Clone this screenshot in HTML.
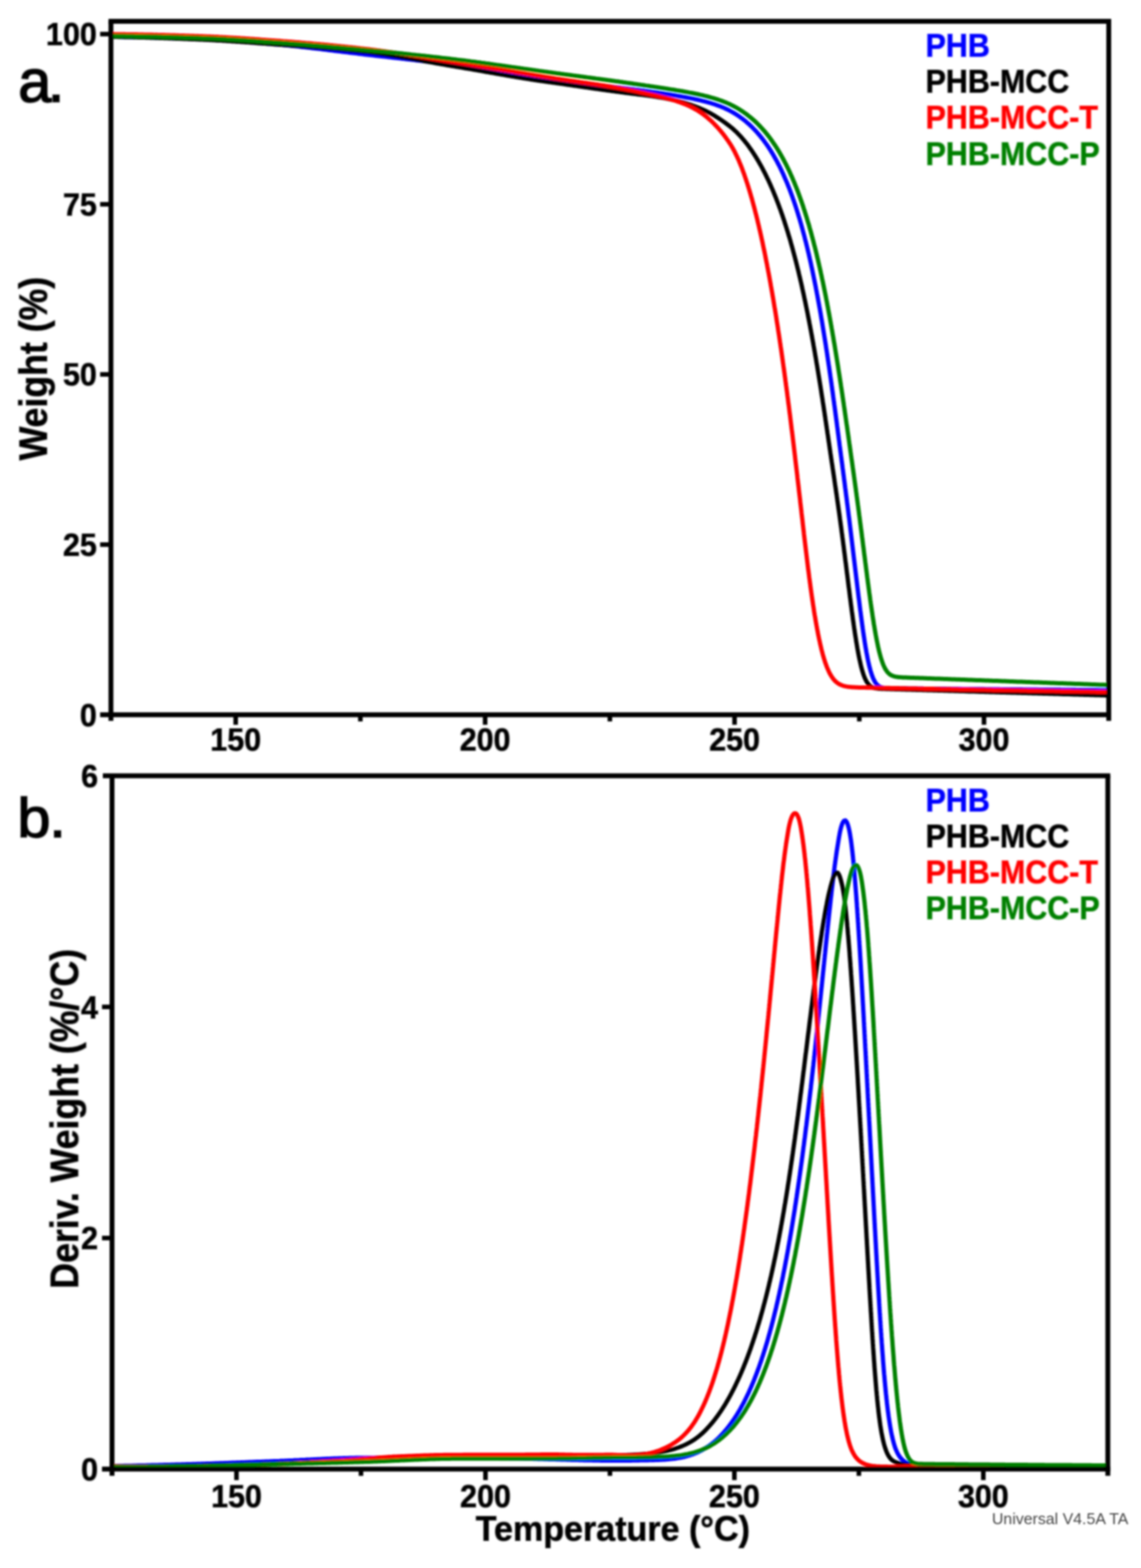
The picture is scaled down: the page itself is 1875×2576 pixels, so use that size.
<!DOCTYPE html>
<html lang="en">
<head>
<meta charset="utf-8">
<title>TGA and DTG curves of PHB composites</title>
<style>
html,body{margin:0;padding:0;background:#fff;}
body{width:1875px;height:2576px;overflow:hidden;}
svg{display:block;}
text{font-family:"Liberation Sans",sans-serif;}
.ax{stroke:#000;fill:none;stroke-linecap:butt;}
.cv{fill:none;stroke-linejoin:round;stroke-linecap:butt;}
</style>
</head>
<body>
<svg width="1875" height="2576" viewBox="0 0 1875 2576">
<defs>
<filter id="bl" x="0" y="0" width="1875" height="2576" filterUnits="userSpaceOnUse"><feGaussianBlur stdDeviation="1.50"/></filter>
<filter id="tf" x="0" y="0" width="1875" height="2576" filterUnits="userSpaceOnUse"><feMorphology operator="dilate" radius="1" result="e"/><feComposite in="SourceGraphic" in2="e" operator="arithmetic" k1="0" k2="0.65" k3="0.35" k4="0"/><feGaussianBlur stdDeviation="1.60"/></filter>
<filter id="sf" x="0" y="0" width="1875" height="2576" filterUnits="userSpaceOnUse"><feGaussianBlur stdDeviation="1.6"/></filter>
</defs>
<rect x="0" y="0" width="1875" height="2576" fill="#ffffff"/>
<g filter="url(#bl)">
<g id="plot-a">
<path class="cv" stroke="#0000ff" stroke-width="7.0" d="M182.3 60.5L184.8 60.5L187.3 60.5L189.8 60.6L192.3 60.6L194.8 60.6L197.3 60.6L199.8 60.7L202.3 60.7L204.8 60.7L207.3 60.8L209.8 60.8L212.3 60.8L214.8 60.9L217.3 60.9L219.8 61.0L222.4 61.0L224.9 61.1L227.4 61.1L229.9 61.2L232.4 61.2L234.9 61.3L237.4 61.4L239.9 61.4L242.4 61.5L244.9 61.6L247.4 61.6L249.9 61.7L252.4 61.8L254.9 61.8L257.4 61.9L259.9 62.0L262.4 62.1L264.9 62.1L267.4 62.2L269.9 62.3L272.4 62.4L274.9 62.5L277.4 62.6L279.9 62.6L282.4 62.7L284.9 62.8L287.4 62.9L289.9 63.0L292.4 63.1L294.9 63.2L297.4 63.3L299.9 63.3L302.4 63.4L304.9 63.5L307.4 63.6L309.9 63.7L312.4 63.8L314.9 63.9L317.4 64.0L319.9 64.1L322.4 64.2L324.9 64.3L327.4 64.4L329.9 64.5L332.4 64.6L334.9 64.7L337.4 64.8L339.9 64.9L342.4 65.0L345.0 65.2L347.5 65.3L350.0 65.4L352.5 65.5L355.0 65.7L357.5 65.8L360.0 65.9L362.4 66.1L364.9 66.2L367.4 66.4L369.9 66.5L372.4 66.7L374.9 66.8L377.4 67.0L379.9 67.2L382.4 67.3L384.9 67.5L387.4 67.7L389.9 67.8L392.4 68.0L394.9 68.2L397.4 68.4L399.9 68.5L402.4 68.7L404.9 68.9L407.4 69.1L409.9 69.3L412.4 69.5L414.9 69.7L417.4 69.9L419.9 70.1L422.4 70.3L424.9 70.5L427.4 70.7L429.9 70.9L432.4 71.1L434.9 71.3L437.4 71.5L439.9 71.7L442.3 71.9L444.8 72.1L447.3 72.3L449.8 72.5L452.3 72.7L454.8 72.9L457.3 73.1L459.8 73.4L462.3 73.6L464.8 73.8L467.3 74.0L469.8 74.3L472.3 74.5L474.8 74.8L477.3 75.0L479.7 75.3L482.2 75.5L484.7 75.8L487.2 76.1L489.7 76.3L492.2 76.6L494.7 76.9L497.2 77.2L499.7 77.4L502.1 77.7L504.6 78.0L507.1 78.3L509.6 78.6L512.1 78.9L514.6 79.2L517.1 79.5L519.6 79.8L522.0 80.0L524.5 80.3L527.0 80.6L529.5 80.9L532.0 81.2L534.5 81.6L536.9 81.9L539.4 82.2L541.9 82.5L544.4 82.8L546.9 83.1L549.4 83.4L551.9 83.7L554.3 84.0L556.8 84.3L559.3 84.6L561.8 84.9L564.3 85.2L566.8 85.5L569.2 85.8L571.7 86.1L574.2 86.4L576.7 86.7L579.2 87.0L581.7 87.3L584.2 87.6L586.6 87.9L589.1 88.2L591.6 88.5L594.1 88.8L596.6 89.1L599.1 89.4L601.6 89.7L604.1 90.0L606.5 90.2L609.0 90.5L611.5 90.8L614.0 91.1L616.5 91.4L619.0 91.7L621.5 91.9L624.0 92.2L626.4 92.5L628.9 92.8L631.4 93.0L633.9 93.3L636.4 93.6L638.9 93.9L641.4 94.1L643.9 94.4L646.3 94.7L648.8 95.0L651.3 95.3L653.8 95.5L656.3 95.8L658.8 96.1L661.3 96.4L663.8 96.6L666.3 96.9L668.7 97.2L671.2 97.5L673.7 97.8L676.2 98.0L678.7 98.3L681.2 98.6L683.7 98.9L686.2 99.2L688.6 99.5L691.1 99.7L693.6 100.0L696.1 100.3L698.6 100.6L701.1 100.9L703.6 101.2L706.0 101.5L708.5 101.8L711.0 102.1L713.5 102.4L716.0 102.7L718.5 103.0L721.0 103.3L723.4 103.6L725.9 103.9L728.4 104.2L730.9 104.5L733.4 104.8L735.9 105.2L738.3 105.5L740.8 105.8L743.3 106.1L745.8 106.4L748.3 106.8L750.8 107.1L753.2 107.4L755.7 107.8L758.2 108.1L760.7 108.5L763.2 108.8L765.6 109.2L768.1 109.6L770.6 109.9L773.1 110.3L775.5 110.7L778.0 111.1L780.5 111.4L783.0 111.8L785.4 112.2L787.9 112.6L790.4 113.0L792.8 113.4L795.3 113.8L797.8 114.2L800.3 114.6L802.7 115.0L805.2 115.4L807.7 115.9L810.1 116.3L812.6 116.7L815.1 117.1L817.5 117.5L820.0 117.9L822.5 118.3L825.0 118.7L827.4 119.2L829.9 119.6L832.4 120.0L834.8 120.4L837.3 120.8L839.8 121.2L842.2 121.6L844.7 122.1L847.2 122.5L849.6 122.9L852.1 123.3L854.6 123.7L857.1 124.1L859.5 124.5L862.0 124.9L864.5 125.3L866.9 125.7L869.4 126.0L871.9 126.4L874.4 126.8L876.8 127.2L879.3 127.6L881.8 127.9L884.3 128.3L886.7 128.7L889.2 129.0L891.7 129.4L894.2 129.7L896.7 130.1L899.1 130.4L901.6 130.7L904.1 131.0L906.6 131.4L909.1 131.7L911.6 132.0L914.0 132.3L916.5 132.6L919.0 132.9L921.5 133.2L924.0 133.5L926.5 133.8L929.0 134.1L931.4 134.4L933.9 134.7L936.4 135.0L938.9 135.3L941.4 135.6L943.9 135.8L946.4 136.1L948.8 136.4L951.3 136.7L953.8 137.0L956.3 137.2L958.8 137.5L961.3 137.8L963.8 138.1L966.3 138.3L968.8 138.6L971.2 138.9L973.7 139.1L976.2 139.4L978.7 139.7L981.2 140.0L983.7 140.2L986.2 140.5L988.7 140.8L991.2 141.0L993.6 141.3L996.1 141.6L998.6 141.9L1001.1 142.1L1003.6 142.4L1006.1 142.7L1008.6 143.0L1011.1 143.3L1013.5 143.5L1016.0 143.8L1018.5 144.1L1021.0 144.4L1023.5 144.7L1026.0 145.0L1028.5 145.3L1031.0 145.6L1033.4 145.9L1035.9 146.2L1038.4 146.5L1040.9 146.8L1043.4 147.2L1045.9 147.5L1048.3 147.8L1050.8 148.1L1053.3 148.5L1055.8 148.8L1058.3 149.1L1060.7 149.5L1063.2 149.8L1065.7 150.2L1068.2 150.5L1070.7 150.9L1073.1 151.2L1075.6 151.6L1078.1 151.9L1080.6 152.3L1083.0 152.7L1085.5 153.0L1088.0 153.4L1090.5 153.8L1092.9 154.2L1095.4 154.5L1097.9 154.9L1100.4 155.3L1102.8 155.7L1105.3 156.1L1107.8 156.5L1110.2 156.9L1112.7 157.4L1115.2 157.8L1117.7 158.2L1120.1 158.6L1122.6 159.1L1125.0 159.5L1127.5 160.0L1130.0 160.5L1132.4 160.9L1134.9 161.4L1137.3 161.9L1139.8 162.4L1142.2 163.0L1144.7 163.5L1147.1 164.0L1149.6 164.6L1152.0 165.2L1154.4 165.8L1156.9 166.4L1159.3 167.0L1161.7 167.7L1164.1 168.3L1166.5 169.0L1168.9 169.7L1171.3 170.5L1173.7 171.2L1176.1 172.0L1178.4 172.9L1180.8 173.7L1183.1 174.6L1185.5 175.5L1187.8 176.4L1190.1 177.4L1192.4 178.5L1194.6 179.5L1196.9 180.6L1199.1 181.8L1201.3 183.0L1203.5 184.2L1205.6 185.4L1207.8 186.7L1209.9 188.1L1212.0 189.4L1214.1 190.8L1216.1 192.3L1218.2 193.8L1220.2 195.3L1222.1 196.8L1224.1 198.3L1226.0 199.9L1227.9 201.6L1229.8 203.2L1231.7 204.9L1233.5 206.6L1235.3 208.3L1237.1 210.1L1238.8 211.9L1240.6 213.7L1242.3 215.5L1244.0 217.4L1245.6 219.3L1247.2 221.2L1248.9 223.1L1250.4 225.0L1252.0 227.0L1253.5 228.9L1255.1 230.9L1256.5 232.9L1258.0 235.0L1259.5 237.0L1260.9 239.1L1262.3 241.1L1263.7 243.2L1265.0 245.3L1266.4 247.4L1267.7 249.6L1269.0 251.7L1270.3 253.8L1271.6 256.0L1272.8 258.2L1274.0 260.4L1275.3 262.6L1276.5 264.8L1277.6 267.0L1278.8 269.2L1279.9 271.4L1281.1 273.6L1282.2 275.9L1283.3 278.1L1284.4 280.4L1285.4 282.7L1286.5 284.9L1287.5 287.2L1288.5 289.5L1289.5 291.8L1290.5 294.1L1291.5 296.4L1292.5 298.7L1293.5 301.0L1294.4 303.3L1295.3 305.6L1296.3 308.0L1297.2 310.3L1298.1 312.6L1299.0 315.0L1299.8 317.3L1300.7 319.7L1301.6 322.0L1302.4 324.4L1303.2 326.7L1304.1 329.1L1304.9 331.5L1305.7 333.8L1306.5 336.2L1307.3 338.6L1308.1 341.0L1308.8 343.3L1309.6 345.7L1310.3 348.1L1311.1 350.5L1311.8 352.9L1312.5 355.3L1313.3 357.7L1314.0 360.1L1314.7 362.5L1315.4 364.9L1316.1 367.3L1316.8 369.7L1317.4 372.1L1318.1 374.5L1318.8 377.0L1319.4 379.4L1320.1 381.8L1320.7 384.2L1321.4 386.6L1322.0 389.0L1322.6 391.5L1323.2 393.9L1323.9 396.3L1324.5 398.7L1325.1 401.2L1325.7 403.6L1326.3 406.0L1326.9 408.5L1327.4 410.9L1328.0 413.3L1328.6 415.8L1329.2 418.2L1329.7 420.7L1330.3 423.1L1330.8 425.5L1331.4 428.0L1331.9 430.4L1332.5 432.9L1333.0 435.3L1333.5 437.8L1334.1 440.2L1334.6 442.7L1335.1 445.1L1335.6 447.6L1336.1 450.0L1336.6 452.5L1337.1 454.9L1337.6 457.4L1338.1 459.8L1338.6 462.3L1339.1 464.7L1339.6 467.2L1340.1 469.6L1340.6 472.1L1341.0 474.6L1341.5 477.0L1342.0 479.5L1342.4 481.9L1342.9 484.4L1343.4 486.9L1343.8 489.3L1344.3 491.8L1344.7 494.2L1345.2 496.7L1345.6 499.2L1346.1 501.6L1346.5 504.1L1347.0 506.6L1347.4 509.0L1347.8 511.5L1348.3 514.0L1348.7 516.4L1349.1 518.9L1349.5 521.4L1349.9 523.8L1350.4 526.3L1350.8 528.8L1351.2 531.2L1351.6 533.7L1352.0 536.2L1352.4 538.6L1352.8 541.1L1353.2 543.6L1353.6 546.1L1354.0 548.5L1354.4 551.0L1354.8 553.5L1355.2 555.9L1355.6 558.4L1356.0 560.9L1356.4 563.4L1356.8 565.8L1357.2 568.3L1357.5 570.8L1357.9 573.3L1358.3 575.7L1358.7 578.2L1359.1 580.7L1359.4 583.2L1359.8 585.6L1360.2 588.1L1360.5 590.6L1360.9 593.1L1361.3 595.5L1361.6 598.0L1362.0 600.5L1362.4 603.0L1362.7 605.4L1363.1 607.9L1363.4 610.4L1363.8 612.9L1364.2 615.4L1364.5 617.8L1364.9 620.3L1365.2 622.8L1365.6 625.3L1365.9 627.8L1366.3 630.2L1366.6 632.7L1367.0 635.2L1367.3 637.7L1367.6 640.1L1368.0 642.6L1368.3 645.1L1368.7 647.6L1369.0 650.1L1369.3 652.5L1369.7 655.0L1370.0 657.5L1370.4 660.0L1370.7 662.5L1371.0 665.0L1371.4 667.4L1371.7 669.9L1372.0 672.4L1372.4 674.9L1372.7 677.4L1373.0 679.8L1373.3 682.3L1373.7 684.8L1374.0 687.3L1374.3 689.8L1374.7 692.3L1375.0 694.7L1375.3 697.2L1375.6 699.7L1376.0 702.2L1376.3 704.7L1376.6 707.1L1376.9 709.6L1377.2 712.1L1377.6 714.6L1377.9 717.1L1378.2 719.6L1378.5 722.0L1378.9 724.5L1379.2 727.0L1379.5 729.5L1379.8 732.0L1380.2 734.5L1380.5 736.9L1380.8 739.4L1381.1 741.9L1381.5 744.4L1381.8 746.9L1382.1 749.3L1382.5 751.8L1382.8 754.3L1383.1 756.8L1383.4 759.3L1383.8 761.8L1384.1 764.2L1384.4 766.7L1384.7 769.2L1385.1 771.7L1385.4 774.2L1385.7 776.6L1386.0 779.1L1386.4 781.6L1386.7 784.1L1387.0 786.6L1387.3 789.1L1387.7 791.5L1388.0 794.0L1388.3 796.5L1388.6 799.0L1388.9 801.5L1389.3 804.0L1389.6 806.4L1389.9 808.9L1390.2 811.4L1390.5 813.9L1390.9 816.4L1391.2 818.9L1391.5 821.3L1391.8 823.8L1392.1 826.3L1392.4 828.8L1392.8 831.3L1393.1 833.8L1393.4 836.2L1393.7 838.7L1394.0 841.2L1394.3 843.7L1394.6 846.2L1394.9 848.7L1395.3 851.1L1395.6 853.6L1395.9 856.1L1396.2 858.6L1396.5 861.1L1396.8 863.6L1397.1 866.1L1397.4 868.5L1397.7 871.0L1398.0 873.5L1398.3 876.0L1398.6 878.5L1398.9 881.0L1399.2 883.4L1399.5 885.9L1399.8 888.4L1400.1 890.9L1400.4 893.4L1400.7 895.9L1401.0 898.4L1401.3 900.8L1401.6 903.3L1401.9 905.8L1402.2 908.3L1402.5 910.8L1402.8 913.3L1403.1 915.8L1403.4 918.2L1403.7 920.7L1404.0 923.2L1404.3 925.7L1404.6 928.2L1404.9 930.7L1405.2 933.2L1405.5 935.6L1405.8 938.1L1406.1 940.6L1406.4 943.1L1406.7 945.6L1407.0 948.1L1407.3 950.6L1407.6 953.0L1407.9 955.5L1408.2 958.0L1408.5 960.5L1408.8 963.0L1409.1 965.5L1409.4 968.0L1409.7 970.4L1410.0 972.9L1410.3 975.4L1410.6 977.9L1410.9 980.4L1411.2 982.9L1411.6 985.3L1411.9 987.8L1412.2 990.3L1412.5 992.8L1412.8 995.3L1413.1 997.8L1413.4 1000.2L1413.7 1002.7L1414.1 1005.2L1414.4 1007.7L1414.7 1010.2L1415.0 1012.7L1415.4 1015.1L1415.7 1017.6L1416.0 1020.1L1416.4 1022.6L1416.7 1025.1L1417.0 1027.6L1417.4 1030.0L1417.7 1032.5L1418.1 1035.0L1418.4 1037.5L1418.8 1039.9L1419.1 1042.4L1419.5 1044.9L1419.9 1047.4L1420.3 1049.8L1420.6 1052.3L1421.0 1054.8L1421.4 1057.3L1421.8 1059.7L1422.2 1062.2L1422.6 1064.7L1423.1 1067.1L1423.5 1069.6L1423.9 1072.1L1424.4 1074.5L1424.9 1077.0L1425.3 1079.5L1425.8 1081.9L1426.3 1084.4L1426.8 1086.8L1427.4 1089.3L1427.9 1091.7L1428.5 1094.1L1429.1 1096.6L1429.8 1099.0L1430.4 1101.4L1431.1 1103.8L1431.9 1106.2L1432.6 1108.6L1433.5 1110.9L1434.4 1113.3L1435.4 1115.6L1436.5 1117.8L1437.7 1120.0L1439.1 1122.1L1440.6 1124.1L1442.4 1125.8L1444.4 1127.4L1446.6 1128.6L1448.9 1129.4L1451.3 1130.0L1453.8 1130.4L1456.3 1130.6L1458.8 1130.7L1461.3 1130.8L1463.8 1130.9L1466.3 1130.9L1468.8 1130.9L1471.3 1131.0L1473.8 1131.0L1476.3 1131.0L1478.8 1131.0L1481.3 1131.1L1483.8 1131.1L1486.3 1131.1L1488.8 1131.1L1491.4 1131.1L1493.9 1131.2L1496.4 1131.2L1498.9 1131.2L1501.4 1131.2L1503.9 1131.2L1506.4 1131.3L1508.9 1131.3L1511.4 1131.3L1513.9 1131.3L1516.4 1131.3L1518.9 1131.4L1521.4 1131.4L1523.9 1131.4L1526.4 1131.4L1528.9 1131.4L1531.4 1131.5L1533.9 1131.5L1536.4 1131.5L1538.9 1131.5L1541.4 1131.5L1543.9 1131.6L1546.4 1131.6L1548.9 1131.6L1551.4 1131.6L1553.9 1131.6L1556.4 1131.7L1558.9 1131.7L1561.4 1131.7L1564.0 1131.7L1566.5 1131.7L1569.0 1131.8L1571.5 1131.8L1574.0 1131.8L1576.5 1131.8L1579.0 1131.8L1581.5 1131.9L1584.0 1131.9L1586.5 1131.9L1589.0 1131.9L1591.5 1131.9L1594.0 1132.0L1596.5 1132.0L1599.0 1132.0L1601.5 1132.0L1604.0 1132.0L1606.5 1132.1L1609.0 1132.1L1611.5 1132.1L1614.0 1132.1L1616.5 1132.1L1619.0 1132.2L1621.5 1132.2L1624.0 1132.2L1626.5 1132.2L1629.0 1132.2L1631.5 1132.3L1634.0 1132.3L1636.5 1132.3L1639.1 1132.3L1641.6 1132.3L1644.1 1132.4L1646.6 1132.4L1649.1 1132.4L1651.6 1132.4L1654.1 1132.4L1656.6 1132.5L1659.1 1132.5L1661.6 1132.5L1664.1 1132.5L1666.6 1132.5L1669.1 1132.6L1671.6 1132.6L1674.1 1132.6L1676.6 1132.6L1679.1 1132.6L1681.6 1132.7L1684.1 1132.7L1686.6 1132.7L1689.1 1132.7L1691.6 1132.7L1694.1 1132.8L1696.6 1132.8L1699.1 1132.8L1701.6 1132.8L1704.1 1132.8L1706.6 1132.9L1709.1 1132.9L1711.7 1132.9L1714.2 1132.9L1716.7 1132.9L1719.2 1133.0L1721.7 1133.0L1724.2 1133.0L1726.7 1133.0L1729.2 1133.0L1731.7 1133.1L1734.2 1133.1L1736.7 1133.1L1739.2 1133.1L1741.7 1133.1L1744.2 1133.2L1746.7 1133.2L1749.2 1133.2L1751.7 1133.2L1754.2 1133.2L1756.7 1133.3L1759.2 1133.3L1761.7 1133.3L1764.2 1133.3L1766.7 1133.3L1769.2 1133.4L1771.7 1133.4L1774.2 1133.4L1776.7 1133.4L1779.2 1133.4L1781.7 1133.5L1784.2 1133.5L1786.8 1133.5L1789.3 1133.5L1791.8 1133.5L1794.3 1133.6L1796.8 1133.6L1799.3 1133.6L1801.8 1133.6L1804.3 1133.6L1806.8 1133.7L1809.3 1133.7L1811.8 1133.7L1814.3 1133.7L1816.8 1133.7L1819.3 1133.8L1821.8 1133.8"/>
<path class="cv" stroke="#000000" stroke-width="7.0" d="M182.3 60.5L184.8 60.5L187.3 60.6L189.8 60.6L192.3 60.6L194.8 60.7L197.3 60.7L199.8 60.8L202.3 60.8L204.8 60.9L207.3 60.9L209.8 61.0L212.3 61.0L214.8 61.1L217.3 61.1L219.9 61.2L222.4 61.2L224.9 61.3L227.4 61.4L229.9 61.4L232.4 61.5L234.9 61.6L237.4 61.6L239.9 61.7L242.4 61.8L244.9 61.8L247.4 61.9L249.9 62.0L252.4 62.1L254.9 62.2L257.4 62.2L259.9 62.3L262.4 62.4L264.9 62.5L267.4 62.6L269.9 62.7L272.4 62.7L274.9 62.8L277.4 62.9L279.9 63.0L282.4 63.1L284.9 63.2L287.4 63.3L289.9 63.4L292.4 63.5L294.9 63.6L297.4 63.7L299.9 63.8L302.4 63.9L304.9 64.0L307.4 64.1L309.9 64.2L312.4 64.3L314.9 64.4L317.4 64.5L319.9 64.6L322.4 64.7L324.9 64.8L327.4 64.9L329.9 65.0L332.5 65.1L335.0 65.2L337.5 65.3L340.0 65.4L342.5 65.6L345.0 65.7L347.5 65.8L350.0 65.9L352.5 66.1L355.0 66.2L357.5 66.4L360.0 66.5L362.5 66.6L365.0 66.8L367.5 66.9L370.0 67.1L372.5 67.2L375.0 67.4L377.5 67.6L379.9 67.7L382.4 67.9L384.9 68.1L387.4 68.2L389.9 68.4L392.4 68.6L394.9 68.7L397.4 68.9L399.9 69.1L402.4 69.3L404.9 69.4L407.4 69.6L409.9 69.8L412.4 70.0L414.9 70.1L417.4 70.3L419.9 70.5L422.4 70.7L424.9 70.9L427.4 71.1L429.9 71.2L432.4 71.4L434.9 71.6L437.4 71.8L439.9 72.0L442.4 72.1L444.9 72.3L447.4 72.5L449.9 72.7L452.4 72.9L454.9 73.1L457.4 73.2L459.9 73.4L462.4 73.6L464.9 73.8L467.4 74.0L469.9 74.1L472.4 74.3L474.9 74.5L477.3 74.7L479.8 74.9L482.3 75.0L484.8 75.2L487.3 75.4L489.8 75.6L492.3 75.8L494.8 76.0L497.3 76.1L499.8 76.3L502.3 76.5L504.8 76.7L507.3 76.9L509.8 77.1L512.3 77.3L514.8 77.5L517.3 77.7L519.8 77.9L522.3 78.1L524.8 78.3L527.3 78.5L529.8 78.7L532.3 78.9L534.8 79.1L537.3 79.3L539.8 79.5L542.3 79.7L544.7 79.9L547.2 80.1L549.7 80.4L552.2 80.6L554.7 80.8L557.2 81.0L559.7 81.3L562.2 81.5L564.7 81.7L567.2 81.9L569.7 82.2L572.2 82.4L574.7 82.7L577.2 82.9L579.7 83.2L582.1 83.4L584.6 83.7L587.1 83.9L589.6 84.2L592.1 84.4L594.6 84.7L597.1 85.0L599.6 85.3L602.1 85.5L604.5 85.8L607.0 86.1L609.5 86.4L612.0 86.7L614.5 87.0L617.0 87.4L619.5 87.7L621.9 88.0L624.4 88.4L626.9 88.7L629.4 89.1L631.8 89.5L634.3 89.8L636.8 90.2L639.3 90.6L641.7 91.0L644.2 91.3L646.7 91.7L649.2 92.1L651.6 92.5L654.1 92.9L656.6 93.3L659.0 93.8L661.5 94.2L664.0 94.6L666.5 95.0L668.9 95.4L671.4 95.9L673.9 96.3L676.3 96.7L678.8 97.2L681.3 97.6L683.7 98.0L686.2 98.5L688.6 98.9L691.1 99.4L693.6 99.8L696.0 100.2L698.5 100.7L701.0 101.1L703.4 101.6L705.9 102.0L708.4 102.4L710.8 102.9L713.3 103.3L715.8 103.8L718.2 104.2L720.7 104.6L723.2 105.1L725.6 105.5L728.1 105.9L730.6 106.4L733.0 106.8L735.5 107.2L738.0 107.6L740.4 108.1L742.9 108.5L745.4 108.9L747.8 109.3L750.3 109.7L752.8 110.1L755.2 110.5L757.7 110.9L760.2 111.3L762.7 111.8L765.1 112.2L767.6 112.6L770.1 113.0L772.5 113.4L775.0 113.9L777.5 114.3L779.9 114.7L782.4 115.1L784.9 115.6L787.3 116.0L789.8 116.4L792.3 116.9L794.7 117.3L797.2 117.7L799.7 118.2L802.1 118.6L804.6 119.0L807.1 119.5L809.5 119.9L812.0 120.3L814.5 120.8L816.9 121.2L819.4 121.6L821.9 122.1L824.3 122.5L826.8 122.9L829.3 123.4L831.7 123.8L834.2 124.2L836.7 124.6L839.1 125.1L841.6 125.5L844.1 125.9L846.5 126.3L849.0 126.7L851.5 127.1L853.9 127.5L856.4 127.9L858.9 128.4L861.4 128.8L863.8 129.1L866.3 129.5L868.8 129.9L871.2 130.3L873.7 130.7L876.2 131.1L878.7 131.5L881.1 131.8L883.6 132.2L886.1 132.6L888.6 132.9L891.1 133.3L893.5 133.6L896.0 134.0L898.5 134.3L901.0 134.7L903.5 135.0L905.9 135.3L908.4 135.7L910.9 136.0L913.4 136.4L915.9 136.7L918.3 137.1L920.8 137.4L923.3 137.8L925.8 138.1L928.2 138.5L930.7 138.9L933.2 139.2L935.7 139.6L938.2 139.9L940.6 140.3L943.1 140.7L945.6 141.0L948.1 141.4L950.5 141.7L953.0 142.1L955.5 142.5L958.0 142.8L960.5 143.2L962.9 143.5L965.4 143.9L967.9 144.3L970.4 144.6L972.8 145.0L975.3 145.3L977.8 145.7L980.3 146.0L982.8 146.4L985.2 146.7L987.7 147.1L990.2 147.4L992.7 147.8L995.2 148.1L997.6 148.5L1000.1 148.8L1002.6 149.1L1005.1 149.5L1007.6 149.8L1010.0 150.1L1012.5 150.5L1015.0 150.8L1017.5 151.1L1020.0 151.4L1022.5 151.8L1024.9 152.1L1027.4 152.4L1029.9 152.7L1032.4 153.0L1034.9 153.3L1037.4 153.7L1039.9 154.0L1042.3 154.3L1044.8 154.6L1047.3 154.9L1049.8 155.2L1052.3 155.5L1054.8 155.8L1057.2 156.1L1059.7 156.4L1062.2 156.8L1064.7 157.1L1067.2 157.4L1069.7 157.8L1072.1 158.1L1074.6 158.5L1077.1 158.9L1079.6 159.3L1082.0 159.7L1084.5 160.1L1087.0 160.5L1089.4 160.9L1091.9 161.4L1094.4 161.8L1096.8 162.3L1099.3 162.8L1101.7 163.3L1104.2 163.8L1106.6 164.3L1109.1 164.9L1111.5 165.5L1113.9 166.0L1116.4 166.7L1118.8 167.3L1121.2 167.9L1123.6 168.6L1126.0 169.3L1128.4 170.0L1130.8 170.8L1133.2 171.5L1135.6 172.3L1137.9 173.2L1140.3 174.0L1142.6 174.9L1145.0 175.8L1147.3 176.7L1149.6 177.6L1151.9 178.6L1154.2 179.6L1156.5 180.7L1158.8 181.7L1161.0 182.8L1163.2 184.0L1165.5 185.1L1167.7 186.3L1169.8 187.6L1172.0 188.8L1174.2 190.1L1176.3 191.4L1178.4 192.7L1180.5 194.1L1182.6 195.4L1184.7 196.8L1186.8 198.2L1188.8 199.7L1190.9 201.1L1192.9 202.6L1194.9 204.1L1196.9 205.6L1198.9 207.1L1200.8 208.7L1202.8 210.3L1204.7 211.9L1206.5 213.6L1208.4 215.3L1210.2 217.0L1212.0 218.8L1213.7 220.6L1215.4 222.4L1217.1 224.2L1218.8 226.1L1220.4 228.0L1222.1 229.9L1223.7 231.8L1225.2 233.8L1226.8 235.7L1228.3 237.7L1229.8 239.7L1231.3 241.8L1232.7 243.8L1234.2 245.8L1235.6 247.9L1237.0 250.0L1238.4 252.1L1239.7 254.2L1241.1 256.3L1242.4 258.4L1243.7 260.6L1245.0 262.7L1246.2 264.9L1247.5 267.0L1248.7 269.2L1250.0 271.4L1251.2 273.6L1252.4 275.8L1253.5 278.0L1254.7 280.2L1255.8 282.4L1257.0 284.7L1258.1 286.9L1259.2 289.1L1260.3 291.4L1261.4 293.7L1262.5 295.9L1263.5 298.2L1264.6 300.5L1265.6 302.7L1266.6 305.0L1267.6 307.3L1268.6 309.6L1269.6 311.9L1270.6 314.2L1271.5 316.5L1272.5 318.9L1273.4 321.2L1274.4 323.5L1275.3 325.8L1276.2 328.2L1277.1 330.5L1278.0 332.8L1278.9 335.2L1279.8 337.5L1280.6 339.9L1281.5 342.2L1282.4 344.6L1283.2 346.9L1284.0 349.3L1284.9 351.7L1285.7 354.0L1286.5 356.4L1287.3 358.8L1288.1 361.1L1288.9 363.5L1289.6 365.9L1290.4 368.3L1291.2 370.7L1291.9 373.0L1292.7 375.4L1293.4 377.8L1294.2 380.2L1294.9 382.6L1295.6 385.0L1296.3 387.4L1297.1 389.8L1297.8 392.2L1298.5 394.6L1299.2 397.0L1299.8 399.4L1300.5 401.8L1301.2 404.2L1301.9 406.7L1302.5 409.1L1303.2 411.5L1303.8 413.9L1304.5 416.3L1305.1 418.7L1305.8 421.2L1306.4 423.6L1307.0 426.0L1307.7 428.4L1308.3 430.9L1308.9 433.3L1309.5 435.7L1310.1 438.2L1310.7 440.6L1311.3 443.0L1311.9 445.4L1312.5 447.9L1313.0 450.3L1313.6 452.8L1314.2 455.2L1314.8 457.6L1315.3 460.1L1315.9 462.5L1316.5 464.9L1317.0 467.4L1317.6 469.8L1318.1 472.3L1318.6 474.7L1319.2 477.2L1319.7 479.6L1320.3 482.1L1320.8 484.5L1321.3 487.0L1321.8 489.4L1322.3 491.9L1322.9 494.3L1323.4 496.8L1323.9 499.2L1324.4 501.7L1324.9 504.1L1325.4 506.6L1325.9 509.0L1326.4 511.5L1326.9 513.9L1327.4 516.4L1327.8 518.8L1328.3 521.3L1328.8 523.8L1329.3 526.2L1329.8 528.7L1330.2 531.1L1330.7 533.6L1331.2 536.0L1331.6 538.5L1332.1 541.0L1332.6 543.4L1333.0 545.9L1333.5 548.4L1333.9 550.8L1334.4 553.3L1334.8 555.7L1335.3 558.2L1335.7 560.7L1336.2 563.1L1336.6 565.6L1337.0 568.1L1337.5 570.5L1337.9 573.0L1338.3 575.5L1338.8 577.9L1339.2 580.4L1339.6 582.9L1340.0 585.3L1340.5 587.8L1340.9 590.3L1341.3 592.7L1341.7 595.2L1342.1 597.7L1342.6 600.1L1343.0 602.6L1343.4 605.1L1343.8 607.6L1344.2 610.0L1344.6 612.5L1345.0 615.0L1345.4 617.4L1345.8 619.9L1346.2 622.4L1346.6 624.9L1347.0 627.3L1347.4 629.8L1347.8 632.3L1348.2 634.7L1348.6 637.2L1349.0 639.7L1349.4 642.2L1349.7 644.6L1350.1 647.1L1350.5 649.6L1350.9 652.1L1351.3 654.5L1351.7 657.0L1352.0 659.5L1352.4 662.0L1352.8 664.4L1353.2 666.9L1353.6 669.4L1353.9 671.9L1354.3 674.3L1354.7 676.8L1355.1 679.3L1355.4 681.8L1355.8 684.2L1356.2 686.7L1356.5 689.2L1356.9 691.7L1357.3 694.1L1357.6 696.6L1358.0 699.1L1358.4 701.6L1358.7 704.0L1359.1 706.5L1359.5 709.0L1359.8 711.5L1360.2 714.0L1360.6 716.4L1360.9 718.9L1361.3 721.4L1361.6 723.9L1362.0 726.3L1362.4 728.8L1362.7 731.3L1363.1 733.8L1363.4 736.3L1363.8 738.7L1364.2 741.2L1364.5 743.7L1364.9 746.2L1365.3 748.6L1365.6 751.1L1366.0 753.6L1366.4 756.1L1366.7 758.5L1367.1 761.0L1367.5 763.5L1367.9 766.0L1368.2 768.5L1368.6 770.9L1369.0 773.4L1369.3 775.9L1369.7 778.4L1370.1 780.8L1370.4 783.3L1370.8 785.8L1371.2 788.3L1371.5 790.7L1371.9 793.2L1372.2 795.7L1372.6 798.2L1373.0 800.7L1373.3 803.1L1373.7 805.6L1374.0 808.1L1374.4 810.6L1374.8 813.0L1375.1 815.5L1375.5 818.0L1375.8 820.5L1376.2 823.0L1376.5 825.4L1376.9 827.9L1377.2 830.4L1377.6 832.9L1377.9 835.4L1378.3 837.8L1378.6 840.3L1379.0 842.8L1379.3 845.3L1379.7 847.8L1380.0 850.2L1380.3 852.7L1380.7 855.2L1381.0 857.7L1381.3 860.2L1381.7 862.6L1382.0 865.1L1382.4 867.6L1382.7 870.1L1383.0 872.6L1383.3 875.0L1383.7 877.5L1384.0 880.0L1384.3 882.5L1384.7 885.0L1385.0 887.5L1385.3 889.9L1385.6 892.4L1385.9 894.9L1386.3 897.4L1386.6 899.9L1386.9 902.4L1387.2 904.8L1387.5 907.3L1387.9 909.8L1388.2 912.3L1388.5 914.8L1388.8 917.3L1389.1 919.7L1389.4 922.2L1389.8 924.7L1390.1 927.2L1390.4 929.7L1390.7 932.2L1391.0 934.6L1391.3 937.1L1391.6 939.6L1391.9 942.1L1392.3 944.6L1392.6 947.1L1392.9 949.6L1393.2 952.0L1393.5 954.5L1393.8 957.0L1394.1 959.5L1394.4 962.0L1394.7 964.5L1395.1 966.9L1395.4 969.4L1395.7 971.9L1396.0 974.4L1396.3 976.9L1396.6 979.4L1396.9 981.8L1397.3 984.3L1397.6 986.8L1397.9 989.3L1398.2 991.8L1398.5 994.3L1398.9 996.7L1399.2 999.2L1399.5 1001.7L1399.8 1004.2L1400.2 1006.7L1400.5 1009.2L1400.9 1011.6L1401.2 1014.1L1401.5 1016.6L1401.9 1019.1L1402.2 1021.6L1402.6 1024.0L1402.9 1026.5L1403.3 1029.0L1403.6 1031.5L1404.0 1033.9L1404.4 1036.4L1404.7 1038.9L1405.1 1041.4L1405.5 1043.9L1405.9 1046.3L1406.3 1048.8L1406.7 1051.3L1407.0 1053.7L1407.5 1056.2L1407.9 1058.7L1408.3 1061.2L1408.7 1063.6L1409.1 1066.1L1409.6 1068.6L1410.0 1071.0L1410.5 1073.5L1410.9 1075.9L1411.4 1078.4L1411.9 1080.9L1412.4 1083.3L1413.0 1085.8L1413.5 1088.2L1414.1 1090.6L1414.6 1093.1L1415.2 1095.5L1415.9 1097.9L1416.5 1100.3L1417.2 1102.7L1418.0 1105.1L1418.7 1107.5L1419.6 1109.9L1420.4 1112.2L1421.4 1114.5L1422.5 1116.8L1423.6 1119.0L1424.9 1121.2L1426.4 1123.2L1428.0 1125.1L1429.8 1126.8L1431.9 1128.2L1434.1 1129.3L1436.5 1130.2L1438.9 1130.7L1441.4 1131.1L1443.9 1131.4L1446.4 1131.5L1448.9 1131.7L1451.4 1131.8L1453.9 1131.8L1456.4 1131.9L1458.9 1132.0L1461.4 1132.1L1463.9 1132.2L1466.4 1132.2L1468.9 1132.3L1471.4 1132.4L1473.9 1132.4L1476.4 1132.5L1478.9 1132.6L1481.4 1132.7L1483.9 1132.7L1486.4 1132.8L1488.9 1132.9L1491.4 1133.0L1493.9 1133.0L1496.4 1133.1L1498.9 1133.2L1501.4 1133.2L1504.0 1133.3L1506.5 1133.4L1509.0 1133.5L1511.5 1133.5L1514.0 1133.6L1516.5 1133.7L1519.0 1133.8L1521.5 1133.8L1524.0 1133.9L1526.5 1134.0L1529.0 1134.0L1531.5 1134.1L1534.0 1134.2L1536.5 1134.3L1539.0 1134.3L1541.5 1134.4L1544.0 1134.5L1546.5 1134.5L1549.0 1134.6L1551.5 1134.7L1554.0 1134.8L1556.5 1134.8L1559.0 1134.9L1561.5 1135.0L1564.0 1135.1L1566.5 1135.1L1569.0 1135.2L1571.5 1135.3L1574.0 1135.3L1576.5 1135.4L1579.0 1135.5L1581.5 1135.6L1584.0 1135.6L1586.5 1135.7L1589.0 1135.8L1591.5 1135.9L1594.1 1135.9L1596.6 1136.0L1599.1 1136.1L1601.6 1136.1L1604.1 1136.2L1606.6 1136.3L1609.1 1136.4L1611.6 1136.4L1614.1 1136.5L1616.6 1136.6L1619.1 1136.7L1621.6 1136.7L1624.1 1136.8L1626.6 1136.9L1629.1 1136.9L1631.6 1137.0L1634.1 1137.1L1636.6 1137.2L1639.1 1137.2L1641.6 1137.3L1644.1 1137.4L1646.6 1137.5L1649.1 1137.5L1651.6 1137.6L1654.1 1137.7L1656.6 1137.7L1659.1 1137.8L1661.6 1137.9L1664.1 1138.0L1666.6 1138.0L1669.1 1138.1L1671.6 1138.2L1674.1 1138.3L1676.6 1138.3L1679.1 1138.4L1681.6 1138.5L1684.1 1138.5L1686.7 1138.6L1689.2 1138.7L1691.7 1138.8L1694.2 1138.8L1696.7 1138.9L1699.2 1139.0L1701.7 1139.0L1704.2 1139.1L1706.7 1139.2L1709.2 1139.3L1711.7 1139.3L1714.2 1139.4L1716.7 1139.5L1719.2 1139.6L1721.7 1139.6L1724.2 1139.7L1726.7 1139.8L1729.2 1139.8L1731.7 1139.9L1734.2 1140.0L1736.7 1140.1L1739.2 1140.1L1741.7 1140.2L1744.2 1140.3L1746.7 1140.4L1749.2 1140.4L1751.7 1140.5L1754.2 1140.6L1756.7 1140.6L1759.2 1140.7L1761.7 1140.8L1764.2 1140.9L1766.7 1140.9L1769.2 1141.0L1771.7 1141.1L1774.2 1141.2L1776.8 1141.2L1779.3 1141.3L1781.8 1141.4L1784.3 1141.4L1786.8 1141.5L1789.3 1141.6L1791.8 1141.7L1794.3 1141.7L1796.8 1141.8L1799.3 1141.9L1801.8 1142.0L1804.3 1142.0L1806.8 1142.1L1809.3 1142.2L1811.8 1142.2L1814.3 1142.3L1816.8 1142.4L1819.3 1142.5L1821.8 1142.5"/>
<path class="cv" stroke="#ff0000" stroke-width="7.0" d="M182.3 56.2L184.8 56.2L187.3 56.2L189.8 56.2L192.3 56.2L194.8 56.3L197.3 56.3L199.8 56.3L202.3 56.3L204.8 56.3L207.3 56.4L209.8 56.4L212.3 56.4L214.9 56.5L217.4 56.5L219.9 56.5L222.4 56.6L224.9 56.6L227.4 56.7L229.9 56.7L232.4 56.8L234.9 56.8L237.4 56.9L239.9 56.9L242.4 57.0L244.9 57.0L247.4 57.1L249.9 57.1L252.4 57.2L254.9 57.2L257.4 57.3L259.9 57.4L262.4 57.4L264.9 57.5L267.4 57.6L269.9 57.6L272.4 57.7L274.9 57.8L277.4 57.8L279.9 57.9L282.4 58.0L285.0 58.1L287.5 58.1L290.0 58.2L292.5 58.3L295.0 58.4L297.5 58.4L300.0 58.5L302.5 58.6L305.0 58.7L307.5 58.8L310.0 58.8L312.5 58.9L315.0 59.0L317.5 59.1L320.0 59.2L322.5 59.3L325.0 59.3L327.5 59.4L330.0 59.5L332.5 59.6L335.0 59.7L337.5 59.8L340.0 59.9L342.5 60.0L345.0 60.1L347.5 60.2L350.0 60.3L352.5 60.4L355.0 60.5L357.5 60.6L360.0 60.8L362.5 60.9L365.0 61.0L367.5 61.2L370.0 61.3L372.5 61.4L375.0 61.6L377.5 61.7L380.0 61.9L382.5 62.0L385.0 62.2L387.5 62.3L390.0 62.5L392.5 62.6L395.0 62.8L397.5 63.0L400.0 63.1L402.5 63.3L405.0 63.5L407.5 63.6L410.0 63.8L412.5 64.0L415.0 64.1L417.5 64.3L420.0 64.5L422.5 64.6L425.0 64.8L427.5 65.0L430.0 65.2L432.5 65.4L435.0 65.5L437.5 65.7L440.0 65.9L442.5 66.1L445.0 66.2L447.5 66.4L450.0 66.6L452.5 66.8L455.0 67.0L457.5 67.1L460.0 67.3L462.5 67.5L465.0 67.7L467.5 67.9L470.0 68.1L472.5 68.3L475.0 68.5L477.5 68.6L480.0 68.8L482.5 69.0L484.9 69.2L487.4 69.4L489.9 69.6L492.4 69.8L494.9 70.1L497.4 70.3L499.9 70.5L502.4 70.7L504.9 70.9L507.4 71.1L509.9 71.3L512.4 71.5L514.9 71.8L517.4 72.0L519.9 72.2L522.4 72.4L524.9 72.6L527.4 72.9L529.9 73.1L532.4 73.3L534.8 73.6L537.3 73.8L539.8 74.0L542.3 74.3L544.8 74.5L547.3 74.8L549.8 75.0L552.3 75.2L554.8 75.5L557.3 75.7L559.8 76.0L562.3 76.2L564.8 76.5L567.2 76.8L569.7 77.0L572.2 77.3L574.7 77.5L577.2 77.8L579.7 78.1L582.2 78.3L584.7 78.6L587.2 78.9L589.7 79.1L592.1 79.4L594.6 79.7L597.1 80.0L599.6 80.3L602.1 80.5L604.6 80.8L607.1 81.1L609.6 81.4L612.0 81.7L614.5 82.0L617.0 82.3L619.5 82.7L622.0 83.0L624.5 83.3L626.9 83.6L629.4 84.0L631.9 84.3L634.4 84.7L636.9 85.0L639.3 85.4L641.8 85.7L644.3 86.1L646.8 86.4L649.3 86.8L651.7 87.2L654.2 87.5L656.7 87.9L659.2 88.3L661.6 88.6L664.1 89.0L666.6 89.4L669.1 89.8L671.5 90.2L674.0 90.6L676.5 91.0L679.0 91.3L681.4 91.7L683.9 92.1L686.4 92.5L688.9 92.9L691.3 93.3L693.8 93.7L696.3 94.1L698.7 94.5L701.2 94.9L703.7 95.3L706.2 95.7L708.6 96.1L711.1 96.5L713.6 96.9L716.1 97.3L718.5 97.7L721.0 98.1L723.5 98.5L725.9 98.9L728.4 99.3L730.9 99.7L733.4 100.1L735.8 100.5L738.3 100.9L740.8 101.3L743.3 101.6L745.7 102.0L748.2 102.4L750.7 102.8L753.2 103.2L755.6 103.6L758.1 104.0L760.6 104.4L763.0 104.7L765.5 105.1L768.0 105.5L770.5 105.9L772.9 106.3L775.4 106.7L777.9 107.1L780.4 107.5L782.8 107.9L785.3 108.3L787.8 108.7L790.3 109.1L792.7 109.5L795.2 109.9L797.7 110.3L800.1 110.7L802.6 111.1L805.1 111.5L807.6 111.9L810.0 112.3L812.5 112.7L815.0 113.1L817.4 113.5L819.9 113.9L822.4 114.3L824.9 114.7L827.3 115.1L829.8 115.5L832.3 115.9L834.7 116.3L837.2 116.7L839.7 117.1L842.2 117.5L844.6 117.9L847.1 118.4L849.6 118.8L852.0 119.2L854.5 119.6L857.0 120.0L859.5 120.4L861.9 120.8L864.4 121.2L866.9 121.6L869.3 122.0L871.8 122.4L874.3 122.8L876.8 123.2L879.2 123.6L881.7 124.0L884.2 124.4L886.6 124.8L889.1 125.2L891.6 125.6L894.1 126.0L896.5 126.4L899.0 126.8L901.5 127.1L904.0 127.5L906.4 127.9L908.9 128.3L911.4 128.7L913.9 129.1L916.3 129.4L918.8 129.8L921.3 130.2L923.8 130.5L926.2 130.9L928.7 131.3L931.2 131.6L933.7 132.0L936.2 132.4L938.6 132.7L941.1 133.1L943.6 133.4L946.1 133.8L948.5 134.1L951.0 134.5L953.5 134.9L956.0 135.2L958.5 135.6L960.9 135.9L963.4 136.3L965.9 136.7L968.4 137.0L970.8 137.4L973.3 137.7L975.8 138.1L978.3 138.5L980.8 138.8L983.2 139.2L985.7 139.6L988.2 140.0L990.7 140.3L993.1 140.7L995.6 141.1L998.1 141.5L1000.6 141.9L1003.0 142.3L1005.5 142.7L1008.0 143.1L1010.4 143.5L1012.9 143.9L1015.4 144.4L1017.8 144.8L1020.3 145.2L1022.8 145.6L1025.2 146.1L1027.7 146.5L1030.2 147.0L1032.6 147.5L1035.1 147.9L1037.5 148.4L1040.0 148.9L1042.5 149.4L1044.9 149.9L1047.4 150.4L1049.8 150.9L1052.3 151.5L1054.7 152.0L1057.2 152.5L1059.6 153.0L1062.1 153.6L1064.5 154.1L1067.0 154.6L1069.4 155.2L1071.8 155.7L1074.3 156.2L1076.7 156.8L1079.2 157.3L1081.6 157.9L1084.0 158.5L1086.5 159.1L1088.9 159.7L1091.3 160.3L1093.8 160.9L1096.2 161.6L1098.6 162.2L1101.0 162.9L1103.4 163.6L1105.8 164.3L1108.2 165.0L1110.6 165.8L1113.0 166.6L1115.3 167.4L1117.7 168.2L1120.1 169.1L1122.4 170.0L1124.7 170.9L1127.0 171.9L1129.3 172.9L1131.6 173.9L1133.9 174.9L1136.1 176.0L1138.4 177.2L1140.6 178.4L1142.8 179.6L1144.9 180.8L1147.1 182.1L1149.2 183.5L1151.3 184.8L1153.4 186.3L1155.4 187.7L1157.4 189.2L1159.4 190.8L1161.3 192.3L1163.2 193.9L1165.1 195.6L1167.0 197.2L1168.9 198.9L1170.7 200.6L1172.5 202.4L1174.2 204.2L1176.0 206.0L1177.7 207.8L1179.4 209.6L1181.0 211.5L1182.7 213.4L1184.3 215.3L1185.9 217.3L1187.5 219.2L1189.0 221.2L1190.5 223.2L1192.0 225.2L1193.5 227.2L1194.9 229.2L1196.4 231.3L1197.8 233.4L1199.2 235.4L1200.5 237.5L1201.9 239.7L1203.1 241.8L1204.4 244.0L1205.6 246.2L1206.8 248.4L1207.9 250.6L1209.0 252.9L1210.1 255.1L1211.2 257.4L1212.2 259.7L1213.3 261.9L1214.3 264.2L1215.2 266.6L1216.2 268.9L1217.1 271.2L1218.1 273.5L1219.0 275.8L1219.9 278.2L1220.7 280.5L1221.6 282.9L1222.5 285.2L1223.3 287.6L1224.1 290.0L1224.9 292.3L1225.7 294.7L1226.5 297.1L1227.3 299.5L1228.1 301.8L1228.8 304.2L1229.6 306.6L1230.3 309.0L1231.1 311.4L1231.8 313.8L1232.5 316.2L1233.2 318.6L1233.9 321.0L1234.6 323.4L1235.3 325.8L1236.0 328.2L1236.6 330.6L1237.3 333.1L1237.9 335.5L1238.6 337.9L1239.2 340.3L1239.9 342.7L1240.5 345.2L1241.1 347.6L1241.7 350.0L1242.4 352.4L1243.0 354.9L1243.6 357.3L1244.2 359.7L1244.8 362.2L1245.3 364.6L1245.9 367.0L1246.5 369.5L1247.1 371.9L1247.6 374.4L1248.2 376.8L1248.8 379.2L1249.3 381.7L1249.9 384.1L1250.4 386.6L1251.0 389.0L1251.5 391.5L1252.0 393.9L1252.6 396.3L1253.1 398.8L1253.6 401.2L1254.1 403.7L1254.6 406.1L1255.1 408.6L1255.7 411.0L1256.2 413.5L1256.7 416.0L1257.2 418.4L1257.7 420.9L1258.1 423.3L1258.6 425.8L1259.1 428.2L1259.6 430.7L1260.1 433.1L1260.6 435.6L1261.0 438.1L1261.5 440.5L1262.0 443.0L1262.4 445.4L1262.9 447.9L1263.4 450.4L1263.8 452.8L1264.3 455.3L1264.7 457.8L1265.2 460.2L1265.6 462.7L1266.1 465.1L1266.5 467.6L1266.9 470.1L1267.4 472.5L1267.8 475.0L1268.2 477.5L1268.7 479.9L1269.1 482.4L1269.5 484.9L1269.9 487.3L1270.4 489.8L1270.8 492.3L1271.2 494.8L1271.6 497.2L1272.0 499.7L1272.4 502.2L1272.8 504.6L1273.3 507.1L1273.7 509.6L1274.1 512.1L1274.5 514.5L1274.9 517.0L1275.3 519.5L1275.7 521.9L1276.0 524.4L1276.4 526.9L1276.8 529.4L1277.2 531.8L1277.6 534.3L1278.0 536.8L1278.4 539.3L1278.7 541.7L1279.1 544.2L1279.5 546.7L1279.9 549.2L1280.3 551.6L1280.6 554.1L1281.0 556.6L1281.4 559.1L1281.7 561.5L1282.1 564.0L1282.5 566.5L1282.8 569.0L1283.2 571.5L1283.6 573.9L1283.9 576.4L1284.3 578.9L1284.6 581.4L1285.0 583.8L1285.3 586.3L1285.7 588.8L1286.0 591.3L1286.4 593.8L1286.7 596.2L1287.1 598.7L1287.4 601.2L1287.8 603.7L1288.1 606.2L1288.5 608.6L1288.8 611.1L1289.2 613.6L1289.5 616.1L1289.8 618.6L1290.2 621.0L1290.5 623.5L1290.8 626.0L1291.2 628.5L1291.5 631.0L1291.8 633.5L1292.2 635.9L1292.5 638.4L1292.8 640.9L1293.2 643.4L1293.5 645.9L1293.8 648.4L1294.1 650.8L1294.5 653.3L1294.8 655.8L1295.1 658.3L1295.4 660.8L1295.7 663.3L1296.1 665.7L1296.4 668.2L1296.7 670.7L1297.0 673.2L1297.3 675.7L1297.6 678.2L1298.0 680.6L1298.3 683.1L1298.6 685.6L1298.9 688.1L1299.2 690.6L1299.5 693.1L1299.8 695.6L1300.1 698.0L1300.4 700.5L1300.7 703.0L1301.0 705.5L1301.4 708.0L1301.7 710.5L1302.0 712.9L1302.3 715.4L1302.6 717.9L1302.9 720.4L1303.2 722.9L1303.5 725.4L1303.8 727.9L1304.1 730.4L1304.4 732.8L1304.7 735.3L1305.0 737.8L1305.3 740.3L1305.6 742.8L1305.9 745.3L1306.2 747.8L1306.5 750.2L1306.7 752.7L1307.0 755.2L1307.3 757.7L1307.6 760.2L1307.9 762.7L1308.2 765.2L1308.5 767.7L1308.8 770.1L1309.1 772.6L1309.4 775.1L1309.7 777.6L1310.0 780.1L1310.3 782.6L1310.5 785.1L1310.8 787.6L1311.1 790.0L1311.4 792.5L1311.7 795.0L1312.0 797.5L1312.3 800.0L1312.6 802.5L1312.8 805.0L1313.1 807.5L1313.4 809.9L1313.7 812.4L1314.0 814.9L1314.3 817.4L1314.6 819.9L1314.9 822.4L1315.1 824.9L1315.4 827.4L1315.7 829.8L1316.0 832.3L1316.3 834.8L1316.6 837.3L1316.9 839.8L1317.1 842.3L1317.4 844.8L1317.7 847.3L1318.0 849.7L1318.3 852.2L1318.6 854.7L1318.9 857.2L1319.1 859.7L1319.4 862.2L1319.7 864.7L1320.0 867.2L1320.3 869.6L1320.6 872.1L1320.9 874.6L1321.1 877.1L1321.4 879.6L1321.7 882.1L1322.0 884.6L1322.3 887.1L1322.6 889.5L1322.9 892.0L1323.2 894.5L1323.5 897.0L1323.8 899.5L1324.1 902.0L1324.4 904.5L1324.7 907.0L1325.0 909.4L1325.3 911.9L1325.6 914.4L1325.9 916.9L1326.2 919.4L1326.5 921.9L1326.8 924.4L1327.1 926.8L1327.4 929.3L1327.7 931.8L1328.0 934.3L1328.3 936.8L1328.7 939.3L1329.0 941.7L1329.3 944.2L1329.6 946.7L1329.9 949.2L1330.3 951.7L1330.6 954.2L1330.9 956.6L1331.3 959.1L1331.6 961.6L1331.9 964.1L1332.3 966.6L1332.6 969.1L1333.0 971.5L1333.3 974.0L1333.7 976.5L1334.0 979.0L1334.4 981.4L1334.7 983.9L1335.1 986.4L1335.5 988.9L1335.8 991.4L1336.2 993.8L1336.6 996.3L1337.0 998.8L1337.4 1001.3L1337.7 1003.7L1338.1 1006.2L1338.5 1008.7L1338.9 1011.1L1339.4 1013.6L1339.8 1016.1L1340.2 1018.6L1340.6 1021.0L1341.0 1023.5L1341.5 1026.0L1341.9 1028.4L1342.4 1030.9L1342.8 1033.4L1343.3 1035.8L1343.8 1038.3L1344.2 1040.7L1344.7 1043.2L1345.2 1045.6L1345.7 1048.1L1346.2 1050.5L1346.8 1053.0L1347.3 1055.4L1347.8 1057.9L1348.4 1060.3L1349.0 1062.8L1349.5 1065.2L1350.1 1067.6L1350.8 1070.1L1351.4 1072.5L1352.0 1074.9L1352.7 1077.3L1353.4 1079.7L1354.1 1082.1L1354.9 1084.5L1355.6 1086.9L1356.4 1089.3L1357.3 1091.6L1358.1 1094.0L1359.0 1096.3L1360.0 1098.6L1361.0 1100.9L1362.0 1103.2L1363.1 1105.5L1364.3 1107.7L1365.6 1109.8L1366.9 1111.9L1368.3 1114.0L1369.9 1116.0L1371.5 1117.9L1373.3 1119.6L1375.2 1121.2L1377.2 1122.7L1379.4 1124.0L1381.6 1125.1L1383.9 1126.0L1386.3 1126.8L1388.8 1127.4L1391.2 1127.9L1393.7 1128.3L1396.2 1128.6L1398.7 1128.8L1401.2 1129.0L1403.7 1129.1L1406.2 1129.2L1408.7 1129.3L1411.2 1129.4L1413.7 1129.4L1416.2 1129.5L1418.7 1129.6L1421.2 1129.6L1423.7 1129.7L1426.2 1129.7L1428.7 1129.8L1431.2 1129.8L1433.7 1129.9L1436.2 1129.9L1438.7 1129.9L1441.2 1130.0L1443.7 1130.0L1446.2 1130.1L1448.7 1130.1L1451.2 1130.2L1453.7 1130.2L1456.2 1130.3L1458.7 1130.3L1461.3 1130.3L1463.8 1130.4L1466.3 1130.4L1468.8 1130.5L1471.3 1130.5L1473.8 1130.6L1476.3 1130.6L1478.8 1130.7L1481.3 1130.7L1483.8 1130.7L1486.3 1130.8L1488.8 1130.8L1491.3 1130.9L1493.8 1130.9L1496.3 1131.0L1498.8 1131.0L1501.3 1131.1L1503.8 1131.1L1506.3 1131.1L1508.8 1131.2L1511.3 1131.2L1513.8 1131.3L1516.3 1131.3L1518.8 1131.4L1521.3 1131.4L1523.8 1131.5L1526.3 1131.5L1528.9 1131.5L1531.4 1131.6L1533.9 1131.6L1536.4 1131.7L1538.9 1131.7L1541.4 1131.8L1543.9 1131.8L1546.4 1131.9L1548.9 1131.9L1551.4 1131.9L1553.9 1132.0L1556.4 1132.0L1558.9 1132.1L1561.4 1132.1L1563.9 1132.2L1566.4 1132.2L1568.9 1132.2L1571.4 1132.3L1573.9 1132.3L1576.4 1132.4L1578.9 1132.4L1581.4 1132.5L1583.9 1132.5L1586.4 1132.6L1588.9 1132.6L1591.4 1132.6L1594.0 1132.7L1596.5 1132.7L1599.0 1132.8L1601.5 1132.8L1604.0 1132.9L1606.5 1132.9L1609.0 1133.0L1611.5 1133.0L1614.0 1133.0L1616.5 1133.1L1619.0 1133.1L1621.5 1133.2L1624.0 1133.2L1626.5 1133.3L1629.0 1133.3L1631.5 1133.4L1634.0 1133.4L1636.5 1133.4L1639.0 1133.5L1641.5 1133.5L1644.0 1133.6L1646.5 1133.6L1649.0 1133.7L1651.5 1133.7L1654.0 1133.8L1656.5 1133.8L1659.1 1133.8L1661.6 1133.9L1664.1 1133.9L1666.6 1134.0L1669.1 1134.0L1671.6 1134.1L1674.1 1134.1L1676.6 1134.2L1679.1 1134.2L1681.6 1134.2L1684.1 1134.3L1686.6 1134.3L1689.1 1134.4L1691.6 1134.4L1694.1 1134.5L1696.6 1134.5L1699.1 1134.6L1701.6 1134.6L1704.1 1134.6L1706.6 1134.7L1709.1 1134.7L1711.6 1134.8L1714.1 1134.8L1716.6 1134.9L1719.1 1134.9L1721.6 1135.0L1724.2 1135.0L1726.7 1135.0L1729.2 1135.1L1731.7 1135.1L1734.2 1135.2L1736.7 1135.2L1739.2 1135.3L1741.7 1135.3L1744.2 1135.4L1746.7 1135.4L1749.2 1135.4L1751.7 1135.5L1754.2 1135.5L1756.7 1135.6L1759.2 1135.6L1761.7 1135.7L1764.2 1135.7L1766.7 1135.8L1769.2 1135.8L1771.7 1135.8L1774.2 1135.9L1776.7 1135.9L1779.2 1136.0L1781.7 1136.0L1784.2 1136.1L1786.7 1136.1L1789.3 1136.1L1791.8 1136.2L1794.3 1136.2L1796.8 1136.3L1799.3 1136.3L1801.8 1136.4L1804.3 1136.4L1806.8 1136.5L1809.3 1136.5L1811.8 1136.5L1814.3 1136.6L1816.8 1136.6L1819.3 1136.7L1821.8 1136.7"/>
<path class="cv" stroke="#008000" stroke-width="7.0" d="M182.3 59.0L184.8 59.0L187.3 59.0L189.8 59.0L192.3 59.0L194.8 59.1L197.3 59.1L199.8 59.1L202.3 59.1L204.8 59.1L207.3 59.2L209.8 59.2L212.3 59.2L214.8 59.3L217.3 59.3L219.8 59.3L222.4 59.4L224.9 59.4L227.4 59.5L229.9 59.5L232.4 59.6L234.9 59.6L237.4 59.7L239.9 59.7L242.4 59.8L244.9 59.8L247.4 59.9L249.9 59.9L252.4 60.0L254.9 60.0L257.4 60.1L259.9 60.2L262.4 60.2L264.9 60.3L267.4 60.4L269.9 60.4L272.4 60.5L274.9 60.6L277.4 60.6L279.9 60.7L282.4 60.8L284.9 60.9L287.4 60.9L289.9 61.0L292.4 61.1L294.9 61.2L297.4 61.2L299.9 61.3L302.4 61.4L304.9 61.5L307.4 61.6L309.9 61.6L312.4 61.7L314.9 61.8L317.4 61.9L320.0 62.0L322.5 62.1L325.0 62.1L327.5 62.2L330.0 62.3L332.5 62.4L335.0 62.5L337.5 62.6L340.0 62.7L342.5 62.8L345.0 62.9L347.5 63.0L350.0 63.1L352.5 63.2L355.0 63.3L357.5 63.4L360.0 63.6L362.5 63.7L365.0 63.8L367.5 64.0L370.0 64.1L372.5 64.3L375.0 64.4L377.5 64.5L380.0 64.7L382.5 64.8L385.0 65.0L387.5 65.2L390.0 65.3L392.5 65.5L395.0 65.6L397.5 65.8L400.0 66.0L402.5 66.1L405.0 66.3L407.5 66.5L409.9 66.6L412.4 66.8L414.9 67.0L417.4 67.1L419.9 67.3L422.4 67.5L424.9 67.7L427.4 67.8L429.9 68.0L432.4 68.2L434.9 68.4L437.4 68.5L439.9 68.7L442.4 68.9L444.9 69.0L447.4 69.2L449.9 69.4L452.4 69.6L454.9 69.7L457.4 69.9L459.9 70.1L462.4 70.3L464.9 70.5L467.4 70.6L469.9 70.8L472.4 71.0L474.9 71.2L477.4 71.4L479.9 71.6L482.4 71.8L484.9 72.0L487.4 72.2L489.9 72.3L492.3 72.5L494.8 72.7L497.3 72.9L499.8 73.1L502.3 73.3L504.8 73.6L507.3 73.8L509.8 74.0L512.3 74.2L514.8 74.4L517.3 74.6L519.8 74.8L522.3 75.0L524.8 75.2L527.3 75.4L529.8 75.6L532.3 75.9L534.8 76.1L537.3 76.3L539.7 76.5L542.2 76.7L544.7 77.0L547.2 77.2L549.7 77.4L552.2 77.6L554.7 77.8L557.2 78.1L559.7 78.3L562.2 78.5L564.7 78.7L567.2 79.0L569.7 79.2L572.2 79.4L574.7 79.6L577.2 79.9L579.6 80.1L582.1 80.3L584.6 80.6L587.1 80.8L589.6 81.0L592.1 81.3L594.6 81.5L597.1 81.7L599.6 82.0L602.1 82.2L604.6 82.4L607.1 82.7L609.6 82.9L612.0 83.1L614.5 83.4L617.0 83.6L619.5 83.9L622.0 84.1L624.5 84.3L627.0 84.6L629.5 84.8L632.0 85.1L634.5 85.3L637.0 85.6L639.5 85.8L641.9 86.1L644.4 86.3L646.9 86.6L649.4 86.8L651.9 87.1L654.4 87.3L656.9 87.6L659.4 87.8L661.9 88.1L664.4 88.4L666.8 88.6L669.3 88.9L671.8 89.1L674.3 89.4L676.8 89.7L679.3 89.9L681.8 90.2L684.3 90.5L686.8 90.7L689.3 91.0L691.7 91.3L694.2 91.5L696.7 91.8L699.2 92.1L701.7 92.4L704.2 92.6L706.7 92.9L709.2 93.2L711.6 93.5L714.1 93.7L716.6 94.0L719.1 94.3L721.6 94.6L724.1 94.9L726.6 95.2L729.1 95.4L731.5 95.7L734.0 96.0L736.5 96.3L739.0 96.6L741.5 96.9L744.0 97.2L746.5 97.5L749.0 97.8L751.4 98.1L753.9 98.4L756.4 98.7L758.9 99.0L761.4 99.3L763.9 99.6L766.3 99.9L768.8 100.2L771.3 100.5L773.8 100.9L776.3 101.2L778.8 101.5L781.2 101.8L783.7 102.2L786.2 102.5L788.7 102.8L791.2 103.2L793.6 103.5L796.1 103.8L798.6 104.2L801.1 104.5L803.6 104.8L806.1 105.2L808.5 105.5L811.0 105.9L813.5 106.2L816.0 106.6L818.4 106.9L820.9 107.3L823.4 107.6L825.9 108.0L828.4 108.3L830.8 108.7L833.3 109.0L835.8 109.4L838.3 109.7L840.8 110.1L843.2 110.4L845.7 110.8L848.2 111.1L850.7 111.5L853.2 111.8L855.6 112.2L858.1 112.5L860.6 112.9L863.1 113.2L865.5 113.6L868.0 113.9L870.5 114.3L873.0 114.6L875.5 115.0L877.9 115.3L880.4 115.7L882.9 116.0L885.4 116.4L887.9 116.7L890.3 117.1L892.8 117.4L895.3 117.8L897.8 118.1L900.3 118.4L902.7 118.8L905.2 119.1L907.7 119.4L910.2 119.8L912.7 120.1L915.1 120.5L917.6 120.8L920.1 121.1L922.6 121.5L925.1 121.8L927.5 122.1L930.0 122.4L932.5 122.8L935.0 123.1L937.5 123.4L940.0 123.8L942.4 124.1L944.9 124.4L947.4 124.8L949.9 125.1L952.4 125.4L954.8 125.8L957.3 126.1L959.8 126.4L962.3 126.7L964.8 127.1L967.2 127.4L969.7 127.7L972.2 128.1L974.7 128.4L977.2 128.7L979.7 129.1L982.1 129.4L984.6 129.7L987.1 130.1L989.6 130.4L992.1 130.7L994.5 131.1L997.0 131.4L999.5 131.8L1002.0 132.1L1004.5 132.4L1006.9 132.8L1009.4 133.1L1011.9 133.5L1014.4 133.8L1016.9 134.1L1019.3 134.5L1021.8 134.8L1024.3 135.2L1026.8 135.5L1029.3 135.9L1031.7 136.2L1034.2 136.6L1036.7 136.9L1039.2 137.3L1041.6 137.7L1044.1 138.0L1046.6 138.4L1049.1 138.8L1051.6 139.1L1054.0 139.5L1056.5 139.8L1059.0 140.2L1061.5 140.6L1063.9 140.9L1066.4 141.3L1068.9 141.7L1071.4 142.0L1073.8 142.4L1076.3 142.8L1078.8 143.1L1081.3 143.5L1083.8 143.9L1086.2 144.3L1088.7 144.6L1091.2 145.0L1093.6 145.4L1096.1 145.8L1098.6 146.2L1101.1 146.6L1103.5 147.0L1106.0 147.3L1108.5 147.7L1111.0 148.2L1113.4 148.6L1115.9 149.0L1118.4 149.4L1120.8 149.8L1123.3 150.3L1125.8 150.7L1128.2 151.1L1130.7 151.6L1133.1 152.1L1135.6 152.5L1138.1 153.0L1140.5 153.5L1143.0 154.0L1145.4 154.5L1147.9 155.0L1150.3 155.6L1152.8 156.1L1155.2 156.7L1157.6 157.3L1160.1 157.9L1162.5 158.5L1164.9 159.1L1167.3 159.8L1169.7 160.5L1172.1 161.2L1174.5 161.9L1176.9 162.6L1179.3 163.4L1181.7 164.2L1184.0 165.0L1186.4 165.9L1188.7 166.8L1191.1 167.7L1193.4 168.6L1195.7 169.6L1198.0 170.6L1200.2 171.7L1202.5 172.8L1204.7 173.9L1206.9 175.1L1209.1 176.3L1211.3 177.6L1213.4 178.8L1215.6 180.1L1217.7 181.5L1219.8 182.8L1221.9 184.2L1223.9 185.7L1226.0 187.1L1228.0 188.6L1229.9 190.2L1231.9 191.7L1233.8 193.3L1235.8 194.9L1237.7 196.6L1239.5 198.2L1241.4 199.9L1243.2 201.6L1245.0 203.4L1246.7 205.2L1248.5 206.9L1250.2 208.8L1251.9 210.6L1253.6 212.5L1255.2 214.3L1256.9 216.2L1258.5 218.2L1260.1 220.1L1261.6 222.1L1263.2 224.0L1264.7 226.0L1266.2 228.0L1267.6 230.1L1269.1 232.1L1270.5 234.2L1271.9 236.2L1273.3 238.3L1274.7 240.4L1276.1 242.5L1277.4 244.6L1278.7 246.8L1280.0 248.9L1281.3 251.0L1282.5 253.2L1283.8 255.4L1285.0 257.6L1286.2 259.8L1287.4 262.0L1288.6 264.2L1289.7 266.4L1290.9 268.6L1292.0 270.8L1293.1 273.1L1294.2 275.3L1295.3 277.6L1296.4 279.8L1297.5 282.1L1298.5 284.4L1299.5 286.7L1300.6 289.0L1301.6 291.3L1302.6 293.6L1303.5 295.9L1304.5 298.2L1305.5 300.5L1306.4 302.8L1307.3 305.1L1308.3 307.4L1309.2 309.8L1310.1 312.1L1311.0 314.4L1311.9 316.8L1312.7 319.1L1313.6 321.5L1314.4 323.8L1315.3 326.2L1316.1 328.6L1317.0 330.9L1317.8 333.3L1318.6 335.7L1319.4 338.0L1320.2 340.4L1320.9 342.8L1321.7 345.2L1322.5 347.5L1323.2 349.9L1324.0 352.3L1324.7 354.7L1325.5 357.1L1326.2 359.5L1326.9 361.9L1327.6 364.3L1328.4 366.7L1329.1 369.1L1329.8 371.5L1330.4 373.9L1331.1 376.3L1331.8 378.7L1332.5 381.1L1333.1 383.6L1333.8 386.0L1334.4 388.4L1335.1 390.8L1335.7 393.2L1336.4 395.6L1337.0 398.1L1337.6 400.5L1338.2 402.9L1338.9 405.3L1339.5 407.8L1340.1 410.2L1340.7 412.6L1341.3 415.1L1341.9 417.5L1342.4 419.9L1343.0 422.4L1343.6 424.8L1344.2 427.2L1344.7 429.7L1345.3 432.1L1345.9 434.6L1346.4 437.0L1347.0 439.4L1347.5 441.9L1348.1 444.3L1348.6 446.8L1349.1 449.2L1349.7 451.7L1350.2 454.1L1350.7 456.6L1351.2 459.0L1351.8 461.5L1352.3 463.9L1352.8 466.4L1353.3 468.8L1353.8 471.3L1354.3 473.7L1354.8 476.2L1355.3 478.6L1355.8 481.1L1356.3 483.5L1356.8 486.0L1357.3 488.4L1357.7 490.9L1358.2 493.4L1358.7 495.8L1359.2 498.3L1359.6 500.7L1360.1 503.2L1360.6 505.6L1361.0 508.1L1361.5 510.6L1361.9 513.0L1362.4 515.5L1362.9 518.0L1363.3 520.4L1363.8 522.9L1364.2 525.3L1364.6 527.8L1365.1 530.3L1365.5 532.7L1366.0 535.2L1366.4 537.7L1366.8 540.1L1367.3 542.6L1367.7 545.1L1368.1 547.5L1368.5 550.0L1369.0 552.5L1369.4 554.9L1369.8 557.4L1370.2 559.9L1370.6 562.3L1371.1 564.8L1371.5 567.3L1371.9 569.7L1372.3 572.2L1372.7 574.7L1373.1 577.2L1373.5 579.6L1373.9 582.1L1374.3 584.6L1374.7 587.0L1375.1 589.5L1375.5 592.0L1375.9 594.5L1376.3 596.9L1376.7 599.4L1377.1 601.9L1377.5 604.3L1377.8 606.8L1378.2 609.3L1378.6 611.8L1379.0 614.2L1379.4 616.7L1379.8 619.2L1380.2 621.7L1380.5 624.1L1380.9 626.6L1381.3 629.1L1381.7 631.6L1382.0 634.0L1382.4 636.5L1382.8 639.0L1383.2 641.5L1383.5 643.9L1383.9 646.4L1384.3 648.9L1384.6 651.4L1385.0 653.8L1385.4 656.3L1385.7 658.8L1386.1 661.3L1386.5 663.7L1386.8 666.2L1387.2 668.7L1387.6 671.2L1387.9 673.7L1388.3 676.1L1388.6 678.6L1389.0 681.1L1389.4 683.6L1389.7 686.0L1390.1 688.5L1390.4 691.0L1390.8 693.5L1391.1 696.0L1391.5 698.4L1391.9 700.9L1392.2 703.4L1392.6 705.9L1392.9 708.3L1393.3 710.8L1393.6 713.3L1394.0 715.8L1394.3 718.3L1394.7 720.7L1395.0 723.2L1395.4 725.7L1395.7 728.2L1396.1 730.7L1396.4 733.1L1396.8 735.6L1397.1 738.1L1397.5 740.6L1397.8 743.0L1398.2 745.5L1398.5 748.0L1398.9 750.5L1399.2 753.0L1399.6 755.4L1399.9 757.9L1400.3 760.4L1400.6 762.9L1401.0 765.4L1401.3 767.8L1401.7 770.3L1402.0 772.8L1402.4 775.3L1402.7 777.8L1403.1 780.2L1403.4 782.7L1403.8 785.2L1404.1 787.7L1404.5 790.2L1404.8 792.6L1405.1 795.1L1405.5 797.6L1405.8 800.1L1406.2 802.6L1406.5 805.0L1406.8 807.5L1407.2 810.0L1407.5 812.5L1407.8 815.0L1408.2 817.4L1408.5 819.9L1408.8 822.4L1409.2 824.9L1409.5 827.4L1409.8 829.8L1410.2 832.3L1410.5 834.8L1410.8 837.3L1411.2 839.8L1411.5 842.3L1411.8 844.7L1412.1 847.2L1412.5 849.7L1412.8 852.2L1413.1 854.7L1413.4 857.1L1413.7 859.6L1414.1 862.1L1414.4 864.6L1414.7 867.1L1415.0 869.6L1415.4 872.0L1415.7 874.5L1416.0 877.0L1416.3 879.5L1416.6 882.0L1417.0 884.5L1417.3 886.9L1417.6 889.4L1417.9 891.9L1418.2 894.4L1418.5 896.9L1418.9 899.4L1419.2 901.8L1419.5 904.3L1419.8 906.8L1420.1 909.3L1420.4 911.8L1420.8 914.3L1421.1 916.7L1421.4 919.2L1421.7 921.7L1422.0 924.2L1422.4 926.7L1422.7 929.2L1423.0 931.6L1423.3 934.1L1423.6 936.6L1424.0 939.1L1424.3 941.6L1424.6 944.1L1424.9 946.5L1425.2 949.0L1425.6 951.5L1425.9 954.0L1426.2 956.5L1426.5 958.9L1426.9 961.4L1427.2 963.9L1427.5 966.4L1427.9 968.9L1428.2 971.4L1428.5 973.8L1428.9 976.3L1429.2 978.8L1429.6 981.3L1429.9 983.8L1430.2 986.2L1430.6 988.7L1430.9 991.2L1431.3 993.7L1431.6 996.1L1432.0 998.6L1432.4 1001.1L1432.7 1003.6L1433.1 1006.1L1433.5 1008.5L1433.8 1011.0L1434.2 1013.5L1434.6 1016.0L1435.0 1018.4L1435.4 1020.9L1435.7 1023.4L1436.1 1025.9L1436.6 1028.3L1437.0 1030.8L1437.4 1033.3L1437.8 1035.7L1438.2 1038.2L1438.7 1040.7L1439.1 1043.1L1439.6 1045.6L1440.0 1048.0L1440.5 1050.5L1441.0 1053.0L1441.5 1055.4L1442.0 1057.9L1442.5 1060.3L1443.0 1062.8L1443.6 1065.2L1444.1 1067.6L1444.7 1070.1L1445.3 1072.5L1446.0 1074.9L1446.6 1077.3L1447.3 1079.8L1448.0 1082.2L1448.8 1084.5L1449.6 1086.9L1450.4 1089.3L1451.3 1091.6L1452.3 1093.9L1453.4 1096.2L1454.5 1098.4L1455.8 1100.6L1457.2 1102.6L1458.7 1104.6L1460.5 1106.4L1462.4 1108.0L1464.5 1109.3L1466.8 1110.3L1469.2 1111.1L1471.6 1111.7L1474.1 1112.1L1476.6 1112.4L1479.1 1112.6L1481.6 1112.7L1484.1 1112.9L1486.6 1113.0L1489.1 1113.1L1491.6 1113.2L1494.1 1113.3L1496.6 1113.4L1499.1 1113.5L1501.6 1113.6L1504.1 1113.7L1506.6 1113.7L1509.1 1113.8L1511.6 1113.9L1514.1 1114.0L1516.6 1114.1L1519.1 1114.2L1521.6 1114.3L1524.1 1114.4L1526.6 1114.5L1529.1 1114.6L1531.6 1114.7L1534.1 1114.8L1536.6 1114.9L1539.1 1114.9L1541.6 1115.0L1544.1 1115.1L1546.6 1115.2L1549.1 1115.3L1551.6 1115.4L1554.1 1115.5L1556.6 1115.6L1559.1 1115.7L1561.6 1115.8L1564.1 1115.9L1566.6 1116.0L1569.1 1116.1L1571.6 1116.2L1574.1 1116.2L1576.6 1116.3L1579.1 1116.4L1581.6 1116.5L1584.1 1116.6L1586.6 1116.7L1589.1 1116.8L1591.6 1116.9L1594.1 1117.0L1596.6 1117.1L1599.1 1117.2L1601.6 1117.3L1604.1 1117.4L1606.7 1117.4L1609.2 1117.5L1611.7 1117.6L1614.2 1117.7L1616.7 1117.8L1619.2 1117.9L1621.7 1118.0L1624.2 1118.1L1626.7 1118.2L1629.2 1118.3L1631.7 1118.4L1634.2 1118.5L1636.7 1118.6L1639.2 1118.6L1641.7 1118.7L1644.2 1118.8L1646.7 1118.9L1649.2 1119.0L1651.7 1119.1L1654.2 1119.2L1656.7 1119.3L1659.2 1119.4L1661.7 1119.5L1664.2 1119.6L1666.7 1119.7L1669.2 1119.8L1671.7 1119.9L1674.2 1119.9L1676.7 1120.0L1679.2 1120.1L1681.7 1120.2L1684.2 1120.3L1686.7 1120.4L1689.2 1120.5L1691.7 1120.6L1694.2 1120.7L1696.7 1120.8L1699.2 1120.9L1701.7 1121.0L1704.2 1121.1L1706.7 1121.1L1709.2 1121.2L1711.7 1121.3L1714.2 1121.4L1716.7 1121.5L1719.2 1121.6L1721.7 1121.7L1724.2 1121.8L1726.7 1121.9L1729.2 1122.0L1731.7 1122.1L1734.2 1122.2L1736.7 1122.3L1739.2 1122.4L1741.7 1122.4L1744.2 1122.5L1746.7 1122.6L1749.2 1122.7L1751.8 1122.8L1754.3 1122.9L1756.8 1123.0L1759.3 1123.1L1761.8 1123.2L1764.3 1123.3L1766.8 1123.4L1769.3 1123.5L1771.8 1123.6L1774.3 1123.6L1776.8 1123.7L1779.3 1123.8L1781.8 1123.9L1784.3 1124.0L1786.8 1124.1L1789.3 1124.2L1791.8 1124.3L1794.3 1124.4L1796.8 1124.5L1799.3 1124.6L1801.8 1124.7L1804.3 1124.8L1806.8 1124.9L1809.3 1124.9L1811.8 1125.0L1814.3 1125.1L1816.8 1125.2L1819.3 1125.3L1821.8 1125.4"/>
<g class="ax" stroke-width="8">
<path d="M178.3 35.0 H1826.0"/>
<path d="M182.3 35.0 V1184.2"/>
<path d="M1822.0 35.0 V1184.2"/>
<path d="M164.5 1174.2 H1826.0"/>
</g>
<g class="ax" stroke-width="7.5">
<path d="M164.5 56.0 H182.3"/>
<path d="M164.5 335.6 H182.3"/>
<path d="M164.5 615.1 H182.3"/>
<path d="M164.5 894.7 H182.3"/>
<path d="M387.3 1174.2 V1190.7"/>
<path d="M797.2 1174.2 V1190.7"/>
<path d="M1207.1 1174.2 V1190.7"/>
<path d="M1617.0 1174.2 V1190.7"/>
<path d="M592.2 1174.2 V1185.2"/>
<path d="M1002.2 1174.2 V1185.2"/>
<path d="M1412.1 1174.2 V1185.2"/>
</g>
</g>
<g id="plot-b">
<path class="cv" stroke="#0000ff" stroke-width="7.0" d="M184.1 2408.5L186.6 2408.5L189.1 2408.4L191.6 2408.4L194.1 2408.3L196.6 2408.3L199.1 2408.2L201.6 2408.2L204.1 2408.1L206.6 2408.1L209.1 2408.0L211.6 2408.0L214.1 2407.9L216.6 2407.9L219.1 2407.8L221.6 2407.7L224.1 2407.7L226.6 2407.6L229.1 2407.6L231.6 2407.5L234.1 2407.5L236.6 2407.4L239.1 2407.4L241.6 2407.3L244.1 2407.2L246.6 2407.2L249.1 2407.1L251.6 2407.1L254.1 2407.0L256.6 2406.9L259.1 2406.9L261.6 2406.8L264.1 2406.7L266.6 2406.7L269.1 2406.6L271.7 2406.6L274.2 2406.5L276.7 2406.4L279.2 2406.4L281.7 2406.3L284.2 2406.2L286.7 2406.2L289.2 2406.1L291.7 2406.0L294.2 2406.0L296.7 2405.9L299.2 2405.8L301.7 2405.8L304.2 2405.7L306.7 2405.6L309.2 2405.5L311.7 2405.5L314.2 2405.4L316.7 2405.3L319.2 2405.2L321.7 2405.2L324.2 2405.1L326.7 2405.0L329.2 2404.9L331.7 2404.8L334.2 2404.8L336.7 2404.7L339.2 2404.6L341.7 2404.5L344.2 2404.4L346.7 2404.4L349.2 2404.3L351.7 2404.2L354.2 2404.1L356.7 2404.0L359.2 2403.9L361.7 2403.8L364.2 2403.7L366.7 2403.7L369.2 2403.6L371.7 2403.5L374.2 2403.4L376.7 2403.3L379.2 2403.2L381.7 2403.1L384.2 2403.0L386.7 2402.9L389.2 2402.8L391.7 2402.7L394.2 2402.7L396.7 2402.6L399.2 2402.5L401.7 2402.4L404.2 2402.3L406.7 2402.2L409.2 2402.1L411.7 2402.0L414.2 2401.9L416.7 2401.8L419.2 2401.7L421.7 2401.6L424.2 2401.5L426.7 2401.5L429.2 2401.4L431.7 2401.3L434.2 2401.2L436.7 2401.1L439.2 2401.0L441.7 2400.9L444.2 2400.8L446.7 2400.7L449.2 2400.6L451.7 2400.5L454.2 2400.4L456.7 2400.4L459.2 2400.3L461.7 2400.1L464.2 2400.0L466.7 2399.9L469.2 2399.8L471.7 2399.7L474.2 2399.6L476.7 2399.5L479.2 2399.4L481.7 2399.3L484.2 2399.1L486.7 2399.0L489.2 2398.9L491.7 2398.8L494.2 2398.6L496.7 2398.5L499.2 2398.4L501.7 2398.3L504.2 2398.1L506.7 2398.0L509.2 2397.9L511.7 2397.8L514.2 2397.7L516.7 2397.5L519.2 2397.4L521.7 2397.3L524.2 2397.2L526.7 2397.1L529.2 2396.9L531.7 2396.8L534.2 2396.7L536.7 2396.6L539.2 2396.5L541.7 2396.4L544.2 2396.3L546.7 2396.2L549.2 2396.1L551.7 2396.0L554.2 2395.9L556.7 2395.8L559.2 2395.7L561.7 2395.7L564.2 2395.6L566.7 2395.5L569.2 2395.4L571.7 2395.4L574.2 2395.3L576.7 2395.3L579.2 2395.2L581.7 2395.2L584.2 2395.1L586.7 2395.1L589.2 2395.1L591.7 2395.0L594.2 2395.0L596.7 2395.0L599.2 2395.0L601.7 2395.0L604.2 2395.0L606.7 2395.0L609.2 2395.0L611.7 2395.0L614.2 2395.0L616.7 2395.0L619.2 2395.0L621.7 2395.0L624.2 2395.0L626.7 2395.0L629.2 2395.0L631.7 2395.0L634.2 2395.0L636.7 2395.0L639.2 2395.0L641.7 2395.0L644.2 2395.0L646.7 2395.0L649.2 2395.0L651.7 2395.0L654.2 2395.0L656.7 2395.0L659.3 2395.0L661.8 2395.1L664.3 2395.1L666.8 2395.1L669.3 2395.1L671.8 2395.1L674.3 2395.1L676.8 2395.1L679.3 2395.1L681.8 2395.1L684.3 2395.1L686.8 2395.1L689.3 2395.1L691.8 2395.1L694.3 2395.1L696.8 2395.1L699.3 2395.1L701.8 2395.1L704.3 2395.1L706.8 2395.2L709.3 2395.2L711.8 2395.2L714.3 2395.2L716.8 2395.2L719.3 2395.2L721.8 2395.2L724.3 2395.2L726.8 2395.2L729.3 2395.2L731.8 2395.2L734.3 2395.2L736.8 2395.2L739.3 2395.3L741.8 2395.3L744.3 2395.3L746.8 2395.3L749.3 2395.3L751.8 2395.3L754.3 2395.3L756.8 2395.3L759.3 2395.3L761.8 2395.3L764.3 2395.3L766.8 2395.4L769.3 2395.4L771.8 2395.4L774.3 2395.4L776.8 2395.4L779.3 2395.4L781.9 2395.4L784.4 2395.4L786.9 2395.4L789.4 2395.4L791.9 2395.5L794.4 2395.5L796.9 2395.5L799.4 2395.5L801.9 2395.5L804.4 2395.5L806.9 2395.5L809.4 2395.5L811.9 2395.6L814.4 2395.6L816.9 2395.6L819.4 2395.6L821.9 2395.7L824.4 2395.7L826.9 2395.7L829.4 2395.8L831.9 2395.8L834.4 2395.8L836.9 2395.9L839.4 2395.9L841.9 2396.0L844.4 2396.0L846.9 2396.0L849.4 2396.1L851.9 2396.1L854.4 2396.2L856.9 2396.2L859.4 2396.3L861.9 2396.4L864.4 2396.4L866.9 2396.5L869.4 2396.5L871.9 2396.6L874.4 2396.6L876.9 2396.7L879.4 2396.8L881.9 2396.8L884.4 2396.9L886.9 2397.0L889.4 2397.0L891.9 2397.1L894.4 2397.2L896.9 2397.2L899.4 2397.3L901.9 2397.4L904.4 2397.4L906.9 2397.5L909.4 2397.6L911.9 2397.6L914.4 2397.7L916.9 2397.8L919.4 2397.8L921.9 2397.9L924.4 2398.0L926.9 2398.0L929.4 2398.1L931.9 2398.2L934.4 2398.2L936.9 2398.3L939.4 2398.4L941.9 2398.4L944.4 2398.5L947.0 2398.6L949.5 2398.6L952.0 2398.7L954.5 2398.8L957.0 2398.8L959.5 2398.9L962.0 2398.9L964.5 2399.0L967.0 2399.0L969.5 2399.1L972.0 2399.1L974.5 2399.2L977.0 2399.2L979.5 2399.3L982.0 2399.3L984.5 2399.3L987.0 2399.4L989.5 2399.4L992.0 2399.4L994.5 2399.5L997.0 2399.5L999.5 2399.5L1002.0 2399.5L1004.5 2399.5L1007.0 2399.6L1009.5 2399.6L1012.0 2399.6L1014.5 2399.6L1017.0 2399.6L1019.5 2399.5L1022.0 2399.5L1024.5 2399.5L1027.0 2399.5L1029.5 2399.5L1032.0 2399.4L1034.5 2399.4L1037.0 2399.4L1039.5 2399.3L1042.0 2399.3L1044.5 2399.3L1047.0 2399.2L1049.5 2399.2L1052.0 2399.1L1054.5 2399.1L1057.0 2399.0L1059.5 2399.0L1062.0 2398.9L1064.5 2398.9L1067.0 2398.8L1069.5 2398.8L1072.0 2398.7L1074.5 2398.7L1077.0 2398.6L1079.5 2398.5L1082.0 2398.4L1084.5 2398.3L1087.0 2398.2L1089.5 2398.1L1092.0 2397.9L1094.5 2397.7L1097.0 2397.5L1099.5 2397.3L1102.0 2397.1L1104.5 2396.8L1107.0 2396.5L1109.5 2396.2L1111.9 2395.8L1114.4 2395.4L1116.9 2395.0L1119.3 2394.5L1121.8 2394.0L1124.2 2393.5L1126.6 2392.9L1129.1 2392.2L1131.5 2391.5L1133.9 2390.8L1136.2 2390.0L1138.6 2389.2L1140.9 2388.3L1143.3 2387.3L1145.6 2386.4L1147.8 2385.3L1150.1 2384.2L1152.3 2383.1L1154.5 2381.9L1156.7 2380.6L1158.8 2379.4L1160.9 2378.0L1163.0 2376.7L1165.1 2375.3L1167.1 2373.8L1169.2 2372.3L1171.1 2370.8L1173.1 2369.2L1175.0 2367.6L1176.9 2366.0L1178.7 2364.3L1180.6 2362.6L1182.3 2360.8L1184.1 2359.0L1185.8 2357.2L1187.5 2355.4L1189.2 2353.5L1190.8 2351.6L1192.5 2349.7L1194.1 2347.8L1195.6 2345.8L1197.2 2343.9L1198.7 2341.9L1200.2 2339.9L1201.7 2337.9L1203.1 2335.8L1204.5 2333.8L1206.0 2331.7L1207.3 2329.6L1208.7 2327.5L1210.1 2325.4L1211.4 2323.3L1212.7 2321.2L1214.0 2319.0L1215.2 2316.9L1216.5 2314.7L1217.7 2312.5L1218.9 2310.3L1220.1 2308.1L1221.3 2305.9L1222.5 2303.7L1223.6 2301.5L1224.7 2299.2L1225.8 2297.0L1226.9 2294.8L1228.0 2292.5L1229.1 2290.2L1230.2 2288.0L1231.2 2285.7L1232.2 2283.4L1233.2 2281.1L1234.2 2278.8L1235.2 2276.5L1236.2 2274.2L1237.2 2271.9L1238.1 2269.6L1239.1 2267.3L1240.0 2265.0L1240.9 2262.6L1241.8 2260.3L1242.7 2258.0L1243.6 2255.6L1244.5 2253.3L1245.3 2250.9L1246.2 2248.6L1247.1 2246.2L1247.9 2243.9L1248.7 2241.5L1249.5 2239.2L1250.4 2236.8L1251.2 2234.4L1251.9 2232.0L1252.7 2229.7L1253.5 2227.3L1254.3 2224.9L1255.0 2222.5L1255.8 2220.1L1256.5 2217.8L1257.3 2215.4L1258.0 2213.0L1258.7 2210.6L1259.5 2208.2L1260.2 2205.8L1260.9 2203.4L1261.6 2201.0L1262.3 2198.6L1262.9 2196.2L1263.6 2193.8L1264.3 2191.3L1265.0 2188.9L1265.6 2186.5L1266.3 2184.1L1266.9 2181.7L1267.6 2179.3L1268.2 2176.9L1268.8 2174.4L1269.5 2172.0L1270.1 2169.6L1270.7 2167.2L1271.3 2164.7L1271.9 2162.3L1272.5 2159.9L1273.1 2157.4L1273.7 2155.0L1274.3 2152.6L1274.9 2150.2L1275.5 2147.7L1276.0 2145.3L1276.6 2142.8L1277.2 2140.4L1277.7 2138.0L1278.3 2135.5L1278.8 2133.1L1279.4 2130.6L1279.9 2128.2L1280.5 2125.8L1281.0 2123.3L1281.5 2120.9L1282.1 2118.4L1282.6 2116.0L1283.1 2113.5L1283.6 2111.1L1284.1 2108.6L1284.6 2106.2L1285.2 2103.7L1285.7 2101.3L1286.2 2098.8L1286.7 2096.4L1287.1 2093.9L1287.6 2091.5L1288.1 2089.0L1288.6 2086.6L1289.1 2084.1L1289.6 2081.7L1290.0 2079.2L1290.5 2076.7L1291.0 2074.3L1291.4 2071.8L1291.9 2069.4L1292.4 2066.9L1292.8 2064.4L1293.3 2062.0L1293.7 2059.5L1294.2 2057.1L1294.6 2054.6L1295.1 2052.1L1295.5 2049.7L1295.9 2047.2L1296.4 2044.8L1296.8 2042.3L1297.2 2039.8L1297.7 2037.4L1298.1 2034.9L1298.5 2032.4L1298.9 2030.0L1299.4 2027.5L1299.8 2025.0L1300.2 2022.6L1300.6 2020.1L1301.0 2017.6L1301.4 2015.2L1301.8 2012.7L1302.2 2010.2L1302.6 2007.7L1303.0 2005.3L1303.4 2002.8L1303.8 2000.3L1304.2 1997.9L1304.6 1995.4L1305.0 1992.9L1305.4 1990.4L1305.8 1988.0L1306.2 1985.5L1306.5 1983.0L1306.9 1980.6L1307.3 1978.1L1307.7 1975.6L1308.1 1973.1L1308.4 1970.7L1308.8 1968.2L1309.2 1965.7L1309.5 1963.2L1309.9 1960.8L1310.3 1958.3L1310.6 1955.8L1311.0 1953.3L1311.4 1950.9L1311.7 1948.4L1312.1 1945.9L1312.4 1943.4L1312.8 1941.0L1313.1 1938.5L1313.5 1936.0L1313.8 1933.5L1314.2 1931.0L1314.5 1928.6L1314.9 1926.1L1315.2 1923.6L1315.6 1921.1L1315.9 1918.7L1316.2 1916.2L1316.6 1913.7L1316.9 1911.2L1317.3 1908.7L1317.6 1906.3L1317.9 1903.8L1318.3 1901.3L1318.6 1898.8L1318.9 1896.3L1319.2 1893.9L1319.6 1891.4L1319.9 1888.9L1320.2 1886.4L1320.5 1883.9L1320.9 1881.5L1321.2 1879.0L1321.5 1876.5L1321.8 1874.0L1322.1 1871.5L1322.5 1869.0L1322.8 1866.6L1323.1 1864.1L1323.4 1861.6L1323.7 1859.1L1324.0 1856.6L1324.3 1854.2L1324.6 1851.7L1325.0 1849.2L1325.3 1846.7L1325.6 1844.2L1325.9 1841.7L1326.2 1839.3L1326.5 1836.8L1326.8 1834.3L1327.1 1831.8L1327.4 1829.3L1327.7 1826.8L1328.0 1824.3L1328.3 1821.9L1328.6 1819.4L1328.9 1816.9L1329.2 1814.4L1329.5 1811.9L1329.8 1809.4L1330.0 1807.0L1330.3 1804.5L1330.6 1802.0L1330.9 1799.5L1331.2 1797.0L1331.5 1794.5L1331.8 1792.0L1332.1 1789.6L1332.4 1787.1L1332.6 1784.6L1332.9 1782.1L1333.2 1779.6L1333.5 1777.1L1333.8 1774.6L1334.1 1772.2L1334.3 1769.7L1334.6 1767.2L1334.9 1764.7L1335.2 1762.2L1335.5 1759.7L1335.7 1757.2L1336.0 1754.8L1336.3 1752.3L1336.6 1749.8L1336.8 1747.3L1337.1 1744.8L1337.4 1742.3L1337.7 1739.8L1337.9 1737.3L1338.2 1734.9L1338.5 1732.4L1338.7 1729.9L1339.0 1727.4L1339.3 1724.9L1339.6 1722.4L1339.8 1719.9L1340.1 1717.4L1340.4 1715.0L1340.6 1712.5L1340.9 1710.0L1341.2 1707.5L1341.4 1705.0L1341.7 1702.5L1342.0 1700.0L1342.2 1697.5L1342.5 1695.1L1342.7 1692.6L1343.0 1690.1L1343.3 1687.6L1343.5 1685.1L1343.8 1682.6L1344.1 1680.1L1344.3 1677.6L1344.6 1675.1L1344.8 1672.7L1345.1 1670.2L1345.4 1667.7L1345.6 1665.2L1345.9 1662.7L1346.1 1660.2L1346.4 1657.7L1346.7 1655.2L1346.9 1652.8L1347.2 1650.3L1347.4 1647.8L1347.7 1645.3L1347.9 1642.8L1348.2 1640.3L1348.5 1637.8L1348.7 1635.3L1349.0 1632.8L1349.2 1630.4L1349.5 1627.9L1349.7 1625.4L1350.0 1622.9L1350.3 1620.4L1350.5 1617.9L1350.8 1615.4L1351.0 1612.9L1351.3 1610.4L1351.5 1607.9L1351.8 1605.5L1352.0 1603.0L1352.3 1600.5L1352.5 1598.0L1352.8 1595.5L1353.1 1593.0L1353.3 1590.5L1353.6 1588.0L1353.8 1585.5L1354.1 1583.1L1354.3 1580.6L1354.6 1578.1L1354.8 1575.6L1355.1 1573.1L1355.3 1570.6L1355.6 1568.1L1355.9 1565.6L1356.1 1563.1L1356.4 1560.7L1356.6 1558.2L1356.9 1555.7L1357.1 1553.2L1357.4 1550.7L1357.7 1548.2L1357.9 1545.7L1358.2 1543.2L1358.4 1540.7L1358.7 1538.3L1358.9 1535.8L1359.2 1533.3L1359.5 1530.8L1359.7 1528.3L1360.0 1525.8L1360.2 1523.3L1360.5 1520.8L1360.8 1518.4L1361.0 1515.9L1361.3 1513.4L1361.6 1510.9L1361.8 1508.4L1362.1 1505.9L1362.3 1503.4L1362.6 1500.9L1362.9 1498.4L1363.1 1496.0L1363.4 1493.5L1363.7 1491.0L1364.0 1488.5L1364.2 1486.0L1364.5 1483.5L1364.8 1481.0L1365.0 1478.5L1365.3 1476.1L1365.6 1473.6L1365.9 1471.1L1366.2 1468.6L1366.4 1466.1L1366.7 1463.6L1367.0 1461.1L1367.3 1458.7L1367.6 1456.2L1367.9 1453.7L1368.2 1451.2L1368.5 1448.7L1368.8 1446.2L1369.0 1443.7L1369.3 1441.3L1369.7 1438.8L1370.0 1436.3L1370.3 1433.8L1370.6 1431.3L1370.9 1428.8L1371.2 1426.4L1371.5 1423.9L1371.8 1421.4L1372.2 1418.9L1372.5 1416.4L1372.8 1414.0L1373.2 1411.5L1373.5 1409.0L1373.9 1406.5L1374.2 1404.1L1374.6 1401.6L1374.9 1399.1L1375.3 1396.6L1375.7 1394.2L1376.1 1391.7L1376.5 1389.2L1376.9 1386.7L1377.3 1384.3L1377.7 1381.8L1378.1 1379.3L1378.5 1376.9L1378.9 1374.4L1379.4 1371.9L1379.8 1369.5L1380.3 1367.0L1380.8 1364.6L1381.4 1362.1L1382.0 1359.7L1382.7 1357.3L1383.5 1354.9L1384.4 1352.6L1385.5 1350.3L1387.0 1348.3L1389.2 1347.8L1391.0 1349.6L1392.1 1351.8L1393.0 1354.2L1393.7 1356.6L1394.4 1359.0L1395.0 1361.4L1395.5 1363.8L1396.0 1366.3L1396.5 1368.8L1396.9 1371.2L1397.3 1373.7L1397.7 1376.2L1398.1 1378.6L1398.4 1381.1L1398.8 1383.6L1399.1 1386.1L1399.4 1388.6L1399.7 1391.0L1400.0 1393.5L1400.3 1396.0L1400.6 1398.5L1400.9 1401.0L1401.1 1403.5L1401.4 1406.0L1401.7 1408.4L1401.9 1410.9L1402.2 1413.4L1402.4 1415.9L1402.6 1418.4L1402.9 1420.9L1403.1 1423.4L1403.3 1425.9L1403.6 1428.4L1403.8 1430.9L1404.0 1433.4L1404.2 1435.8L1404.4 1438.3L1404.6 1440.8L1404.8 1443.3L1405.0 1445.8L1405.2 1448.3L1405.4 1450.8L1405.6 1453.3L1405.8 1455.8L1406.0 1458.3L1406.2 1460.8L1406.4 1463.3L1406.6 1465.8L1406.8 1468.3L1407.0 1470.8L1407.2 1473.3L1407.3 1475.8L1407.5 1478.3L1407.7 1480.7L1407.9 1483.2L1408.1 1485.7L1408.2 1488.2L1408.4 1490.7L1408.6 1493.2L1408.8 1495.7L1408.9 1498.2L1409.1 1500.7L1409.3 1503.2L1409.4 1505.7L1409.6 1508.2L1409.8 1510.7L1409.9 1513.2L1410.1 1515.7L1410.3 1518.2L1410.4 1520.7L1410.6 1523.2L1410.7 1525.7L1410.9 1528.2L1411.1 1530.7L1411.2 1533.2L1411.4 1535.7L1411.5 1538.2L1411.7 1540.7L1411.8 1543.2L1412.0 1545.7L1412.2 1548.2L1412.3 1550.7L1412.5 1553.2L1412.6 1555.6L1412.8 1558.1L1412.9 1560.6L1413.1 1563.1L1413.2 1565.6L1413.4 1568.1L1413.5 1570.6L1413.7 1573.1L1413.8 1575.6L1414.0 1578.1L1414.1 1580.6L1414.3 1583.1L1414.4 1585.6L1414.6 1588.1L1414.7 1590.6L1414.8 1593.1L1415.0 1595.6L1415.1 1598.1L1415.3 1600.6L1415.4 1603.1L1415.6 1605.6L1415.7 1608.1L1415.9 1610.6L1416.0 1613.1L1416.1 1615.6L1416.3 1618.1L1416.4 1620.6L1416.6 1623.1L1416.7 1625.6L1416.9 1628.1L1417.0 1630.6L1417.1 1633.1L1417.3 1635.6L1417.4 1638.1L1417.6 1640.6L1417.7 1643.1L1417.8 1645.6L1418.0 1648.1L1418.1 1650.6L1418.3 1653.1L1418.4 1655.6L1418.5 1658.1L1418.7 1660.6L1418.8 1663.1L1419.0 1665.6L1419.1 1668.1L1419.2 1670.6L1419.4 1673.1L1419.5 1675.6L1419.6 1678.0L1419.8 1680.5L1419.9 1683.0L1420.0 1685.5L1420.2 1688.0L1420.3 1690.5L1420.5 1693.0L1420.6 1695.5L1420.7 1698.0L1420.9 1700.5L1421.0 1703.0L1421.1 1705.5L1421.3 1708.0L1421.4 1710.5L1421.5 1713.0L1421.7 1715.5L1421.8 1718.0L1421.9 1720.5L1422.1 1723.0L1422.2 1725.5L1422.4 1728.0L1422.5 1730.5L1422.6 1733.0L1422.8 1735.5L1422.9 1738.0L1423.0 1740.5L1423.2 1743.0L1423.3 1745.5L1423.4 1748.0L1423.6 1750.5L1423.7 1753.0L1423.8 1755.5L1424.0 1758.0L1424.1 1760.5L1424.2 1763.0L1424.4 1765.5L1424.5 1768.0L1424.6 1770.5L1424.8 1773.0L1424.9 1775.5L1425.0 1778.0L1425.2 1780.5L1425.3 1783.0L1425.4 1785.5L1425.6 1788.0L1425.7 1790.5L1425.8 1793.0L1425.9 1795.5L1426.1 1798.0L1426.2 1800.5L1426.3 1803.0L1426.5 1805.5L1426.6 1808.0L1426.7 1810.5L1426.9 1813.0L1427.0 1815.5L1427.1 1818.0L1427.3 1820.5L1427.4 1823.0L1427.5 1825.5L1427.7 1828.0L1427.8 1830.5L1427.9 1833.0L1428.1 1835.5L1428.2 1838.0L1428.3 1840.5L1428.5 1842.9L1428.6 1845.4L1428.7 1847.9L1428.9 1850.4L1429.0 1852.9L1429.1 1855.4L1429.2 1857.9L1429.4 1860.4L1429.5 1862.9L1429.6 1865.4L1429.8 1867.9L1429.9 1870.4L1430.0 1872.9L1430.2 1875.4L1430.3 1877.9L1430.4 1880.4L1430.6 1882.9L1430.7 1885.4L1430.8 1887.9L1431.0 1890.4L1431.1 1892.9L1431.2 1895.4L1431.4 1897.9L1431.5 1900.4L1431.6 1902.9L1431.8 1905.4L1431.9 1907.9L1432.0 1910.4L1432.1 1912.9L1432.3 1915.4L1432.4 1917.9L1432.5 1920.4L1432.7 1922.9L1432.8 1925.4L1432.9 1927.9L1433.1 1930.4L1433.2 1932.9L1433.3 1935.4L1433.5 1937.9L1433.6 1940.4L1433.7 1942.9L1433.9 1945.4L1434.0 1947.9L1434.1 1950.4L1434.3 1952.9L1434.4 1955.4L1434.5 1957.9L1434.7 1960.4L1434.8 1962.9L1434.9 1965.4L1435.1 1967.9L1435.2 1970.4L1435.3 1972.9L1435.5 1975.4L1435.6 1977.9L1435.7 1980.4L1435.9 1982.9L1436.0 1985.4L1436.1 1987.9L1436.3 1990.4L1436.4 1992.9L1436.5 1995.4L1436.7 1997.9L1436.8 2000.4L1436.9 2002.9L1437.1 2005.4L1437.2 2007.9L1437.3 2010.4L1437.5 2012.8L1437.6 2015.3L1437.7 2017.8L1437.9 2020.3L1438.0 2022.8L1438.2 2025.3L1438.3 2027.8L1438.4 2030.3L1438.6 2032.8L1438.7 2035.3L1438.8 2037.8L1439.0 2040.3L1439.1 2042.8L1439.3 2045.3L1439.4 2047.8L1439.5 2050.3L1439.7 2052.8L1439.8 2055.3L1439.9 2057.8L1440.1 2060.3L1440.2 2062.8L1440.4 2065.3L1440.5 2067.8L1440.6 2070.3L1440.8 2072.8L1440.9 2075.3L1441.1 2077.8L1441.2 2080.3L1441.4 2082.8L1441.5 2085.3L1441.6 2087.8L1441.8 2090.3L1441.9 2092.8L1442.1 2095.3L1442.2 2097.8L1442.4 2100.3L1442.5 2102.8L1442.6 2105.3L1442.8 2107.8L1442.9 2110.3L1443.1 2112.8L1443.2 2115.3L1443.4 2117.8L1443.5 2120.3L1443.7 2122.8L1443.8 2125.3L1444.0 2127.8L1444.1 2130.3L1444.3 2132.8L1444.4 2135.3L1444.6 2137.8L1444.7 2140.2L1444.9 2142.7L1445.0 2145.2L1445.2 2147.7L1445.3 2150.2L1445.5 2152.7L1445.6 2155.2L1445.8 2157.7L1446.0 2160.2L1446.1 2162.7L1446.3 2165.2L1446.4 2167.7L1446.6 2170.2L1446.8 2172.7L1446.9 2175.2L1447.1 2177.7L1447.2 2180.2L1447.4 2182.7L1447.6 2185.2L1447.7 2187.7L1447.9 2190.2L1448.1 2192.7L1448.2 2195.2L1448.4 2197.7L1448.6 2200.2L1448.8 2202.7L1448.9 2205.2L1449.1 2207.7L1449.3 2210.2L1449.5 2212.7L1449.6 2215.1L1449.8 2217.6L1450.0 2220.1L1450.2 2222.6L1450.4 2225.1L1450.6 2227.6L1450.8 2230.1L1450.9 2232.6L1451.1 2235.1L1451.3 2237.6L1451.5 2240.1L1451.7 2242.6L1451.9 2245.1L1452.1 2247.6L1452.3 2250.1L1452.5 2252.6L1452.7 2255.1L1452.9 2257.6L1453.2 2260.0L1453.4 2262.5L1453.6 2265.0L1453.8 2267.5L1454.0 2270.0L1454.3 2272.5L1454.5 2275.0L1454.7 2277.5L1455.0 2280.0L1455.2 2282.5L1455.4 2285.0L1455.7 2287.5L1455.9 2289.9L1456.2 2292.4L1456.5 2294.9L1456.7 2297.4L1457.0 2299.9L1457.3 2302.4L1457.5 2304.9L1457.8 2307.4L1458.1 2309.8L1458.4 2312.3L1458.7 2314.8L1459.0 2317.3L1459.3 2319.8L1459.7 2322.3L1460.0 2324.7L1460.3 2327.2L1460.7 2329.7L1461.0 2332.2L1461.4 2334.6L1461.8 2337.1L1462.2 2339.6L1462.6 2342.1L1463.0 2344.5L1463.4 2347.0L1463.9 2349.4L1464.3 2351.9L1464.8 2354.4L1465.3 2356.8L1465.9 2359.3L1466.4 2361.7L1467.0 2364.1L1467.6 2366.6L1468.2 2369.0L1468.9 2371.4L1469.6 2373.8L1470.3 2376.2L1471.1 2378.6L1472.0 2380.9L1473.0 2383.2L1474.0 2385.5L1475.1 2387.7L1476.3 2389.9L1477.7 2392.0L1479.1 2394.1L1480.7 2396.0L1482.5 2397.8L1484.3 2399.5L1486.3 2401.0L1488.4 2402.3L1490.6 2403.5L1492.9 2404.5L1495.3 2405.3L1497.7 2405.9L1500.2 2406.5L1502.6 2406.9L1505.1 2407.2L1507.6 2407.4L1510.1 2407.6L1512.6 2407.7L1515.1 2407.8L1517.6 2407.9L1520.1 2407.9L1522.6 2407.9L1525.1 2408.0L1527.6 2408.0L1530.1 2408.0L1532.6 2408.0L1535.1 2408.0L1537.6 2408.0L1540.1 2408.0L1542.6 2408.0L1545.1 2408.0L1547.6 2408.0L1550.1 2408.0L1552.6 2408.0L1555.1 2408.0L1557.6 2408.0L1560.1 2408.0L1562.6 2408.0L1565.1 2408.0L1567.6 2408.0L1570.1 2408.0L1572.6 2408.0L1575.1 2408.0L1577.7 2408.0L1580.2 2408.0L1582.7 2408.0L1585.2 2408.0L1587.7 2408.0L1590.2 2408.0L1592.7 2408.0L1595.2 2408.0L1597.7 2408.0L1600.2 2408.0L1602.7 2408.0L1605.2 2408.0L1607.7 2408.0L1610.2 2408.0L1612.7 2408.0L1615.2 2408.0L1617.7 2408.0L1620.2 2408.0L1622.7 2408.0L1625.2 2408.0L1627.7 2408.0L1630.2 2408.0L1632.7 2408.0L1635.2 2408.0L1637.7 2408.0L1640.2 2408.0L1642.7 2408.0L1645.2 2408.0L1647.7 2408.0L1650.2 2408.0L1652.7 2408.0L1655.2 2408.0L1657.7 2408.0L1660.2 2408.0L1662.7 2408.0L1665.2 2408.0L1667.7 2408.0L1670.2 2408.0L1672.7 2408.0L1675.2 2408.0L1677.7 2408.0L1680.2 2408.0L1682.7 2408.0L1685.2 2408.0L1687.7 2408.0L1690.2 2408.0L1692.7 2408.0L1695.2 2408.0L1697.7 2408.0L1700.3 2408.0L1702.8 2408.0L1705.3 2408.0L1707.8 2408.0L1710.3 2408.0L1712.8 2408.0L1715.3 2408.0L1717.8 2408.0L1720.3 2408.0L1722.8 2408.0L1725.3 2408.0L1727.8 2408.0L1730.3 2408.0L1732.8 2408.0L1735.3 2408.0L1737.8 2408.0L1740.3 2408.0L1742.8 2408.0L1745.3 2408.0L1747.8 2408.0L1750.3 2408.0L1752.8 2408.0L1755.3 2408.0L1757.8 2408.0L1760.3 2408.0L1762.8 2408.0L1765.3 2408.0L1767.8 2408.0L1770.3 2408.0L1772.8 2408.0L1775.3 2408.0L1777.8 2408.0L1780.3 2408.0L1782.8 2408.0L1785.3 2408.0L1787.8 2408.0L1790.3 2408.0L1792.8 2408.0L1795.3 2408.0L1797.8 2408.0L1800.3 2408.0L1802.8 2408.0L1805.3 2408.0L1807.8 2408.0L1810.3 2408.0L1812.8 2408.0L1815.3 2408.0L1817.8 2408.0L1820.3 2408.0"/>
<path class="cv" stroke="#000000" stroke-width="7.0" d="M184.1 2409.0L186.6 2409.0L189.1 2409.0L191.6 2409.0L194.1 2409.0L196.6 2409.0L199.1 2409.0L201.6 2409.0L204.1 2409.0L206.6 2408.9L209.1 2408.9L211.6 2408.9L214.1 2408.9L216.6 2408.9L219.1 2408.9L221.6 2408.9L224.1 2408.8L226.6 2408.8L229.1 2408.8L231.6 2408.8L234.1 2408.8L236.6 2408.7L239.2 2408.7L241.7 2408.7L244.2 2408.7L246.7 2408.6L249.2 2408.6L251.7 2408.6L254.2 2408.6L256.7 2408.5L259.2 2408.5L261.7 2408.5L264.2 2408.4L266.7 2408.4L269.2 2408.4L271.7 2408.3L274.2 2408.3L276.7 2408.3L279.2 2408.2L281.7 2408.2L284.2 2408.2L286.7 2408.1L289.2 2408.1L291.7 2408.1L294.2 2408.0L296.7 2408.0L299.2 2407.9L301.7 2407.9L304.2 2407.9L306.7 2407.8L309.2 2407.8L311.7 2407.7L314.2 2407.7L316.7 2407.6L319.2 2407.6L321.7 2407.6L324.2 2407.5L326.7 2407.5L329.2 2407.4L331.7 2407.4L334.2 2407.3L336.7 2407.3L339.2 2407.2L341.7 2407.2L344.2 2407.1L346.7 2407.1L349.2 2407.0L351.7 2407.0L354.2 2406.9L356.7 2406.9L359.2 2406.8L361.7 2406.8L364.3 2406.7L366.8 2406.7L369.3 2406.6L371.8 2406.6L374.3 2406.5L376.8 2406.5L379.3 2406.4L381.8 2406.4L384.3 2406.3L386.8 2406.3L389.3 2406.2L391.8 2406.2L394.3 2406.1L396.8 2406.1L399.3 2406.0L401.8 2406.0L404.3 2405.9L406.8 2405.8L409.3 2405.8L411.8 2405.7L414.3 2405.7L416.8 2405.6L419.3 2405.5L421.8 2405.4L424.3 2405.4L426.8 2405.3L429.3 2405.2L431.8 2405.1L434.3 2405.0L436.8 2405.0L439.3 2404.9L441.8 2404.8L444.3 2404.7L446.8 2404.6L449.3 2404.5L451.8 2404.4L454.3 2404.3L456.8 2404.2L459.3 2404.1L461.8 2404.0L464.3 2403.9L466.8 2403.8L469.3 2403.7L471.8 2403.6L474.3 2403.5L476.8 2403.4L479.3 2403.2L481.8 2403.1L484.3 2403.0L486.8 2402.9L489.3 2402.8L491.8 2402.7L494.3 2402.6L496.8 2402.4L499.3 2402.3L501.8 2402.2L504.3 2402.1L506.8 2402.0L509.3 2401.9L511.8 2401.7L514.3 2401.6L516.8 2401.5L519.3 2401.4L521.8 2401.3L524.3 2401.2L526.8 2401.0L529.3 2400.9L531.8 2400.8L534.3 2400.7L536.8 2400.6L539.3 2400.5L541.8 2400.3L544.3 2400.2L546.8 2400.1L549.3 2400.0L551.8 2399.9L554.3 2399.8L556.8 2399.7L559.3 2399.6L561.8 2399.5L564.3 2399.4L566.8 2399.3L569.3 2399.1L571.8 2399.0L574.3 2398.9L576.8 2398.8L579.3 2398.7L581.8 2398.7L584.3 2398.6L586.8 2398.5L589.3 2398.4L591.8 2398.3L594.3 2398.2L596.8 2398.1L599.3 2398.0L601.8 2397.9L604.3 2397.9L606.8 2397.8L609.3 2397.7L611.8 2397.6L614.3 2397.5L616.8 2397.4L619.3 2397.3L621.8 2397.3L624.3 2397.2L626.8 2397.1L629.3 2397.0L631.8 2396.9L634.3 2396.8L636.8 2396.7L639.3 2396.6L641.8 2396.5L644.3 2396.4L646.8 2396.3L649.3 2396.3L651.8 2396.2L654.3 2396.1L656.8 2396.0L659.3 2395.9L661.8 2395.8L664.3 2395.7L666.8 2395.6L669.3 2395.5L671.8 2395.4L674.3 2395.3L676.8 2395.2L679.3 2395.2L681.8 2395.1L684.3 2395.0L686.8 2394.9L689.3 2394.8L691.8 2394.7L694.3 2394.6L696.8 2394.5L699.3 2394.5L701.8 2394.4L704.3 2394.3L706.8 2394.2L709.3 2394.1L711.8 2394.1L714.3 2394.0L716.8 2393.9L719.3 2393.8L721.8 2393.8L724.3 2393.7L726.8 2393.6L729.3 2393.6L731.8 2393.5L734.3 2393.4L736.8 2393.4L739.3 2393.3L741.8 2393.2L744.4 2393.2L746.9 2393.1L749.4 2393.1L751.9 2393.0L754.4 2393.0L756.9 2392.9L759.4 2392.9L761.9 2392.8L764.4 2392.8L766.9 2392.8L769.4 2392.7L771.9 2392.7L774.4 2392.7L776.9 2392.6L779.4 2392.6L781.9 2392.6L784.4 2392.6L786.9 2392.5L789.4 2392.5L791.9 2392.5L794.4 2392.5L796.9 2392.5L799.4 2392.5L801.9 2392.5L804.4 2392.5L806.9 2392.5L809.4 2392.5L811.9 2392.5L814.4 2392.5L816.9 2392.5L819.4 2392.5L821.9 2392.5L824.4 2392.5L826.9 2392.5L829.4 2392.5L831.9 2392.5L834.4 2392.5L836.9 2392.5L839.4 2392.5L841.9 2392.5L844.4 2392.5L846.9 2392.5L849.4 2392.5L851.9 2392.5L854.4 2392.5L857.0 2392.5L859.5 2392.5L862.0 2392.5L864.5 2392.5L867.0 2392.4L869.5 2392.4L872.0 2392.4L874.5 2392.4L877.0 2392.4L879.5 2392.4L882.0 2392.4L884.5 2392.4L887.0 2392.4L889.5 2392.4L892.0 2392.4L894.5 2392.4L897.0 2392.4L899.5 2392.4L902.0 2392.4L904.5 2392.4L907.0 2392.4L909.5 2392.4L912.0 2392.4L914.5 2392.3L917.0 2392.3L919.5 2392.3L922.0 2392.3L924.5 2392.3L927.0 2392.3L929.5 2392.3L932.0 2392.3L934.5 2392.3L937.0 2392.2L939.5 2392.2L942.0 2392.2L944.5 2392.2L947.0 2392.2L949.5 2392.2L952.0 2392.1L954.5 2392.1L957.0 2392.1L959.5 2392.1L962.0 2392.0L964.5 2392.0L967.1 2392.0L969.6 2391.9L972.1 2391.9L974.6 2391.9L977.1 2391.8L979.6 2391.8L982.1 2391.8L984.6 2391.7L987.1 2391.7L989.6 2391.6L992.1 2391.6L994.6 2391.5L997.1 2391.4L999.6 2391.4L1002.1 2391.3L1004.6 2391.2L1007.1 2391.2L1009.6 2391.1L1012.1 2391.0L1014.6 2390.9L1017.1 2390.9L1019.6 2390.8L1022.1 2390.7L1024.6 2390.6L1027.1 2390.5L1029.6 2390.4L1032.1 2390.3L1034.6 2390.2L1037.1 2390.1L1039.6 2390.0L1042.1 2389.8L1044.6 2389.7L1047.1 2389.5L1049.6 2389.4L1052.1 2389.2L1054.6 2389.0L1057.1 2388.8L1059.6 2388.6L1062.1 2388.4L1064.5 2388.2L1067.0 2387.9L1069.5 2387.7L1072.0 2387.4L1074.5 2387.1L1077.0 2386.8L1079.5 2386.4L1081.9 2386.0L1084.4 2385.7L1086.9 2385.2L1089.3 2384.8L1091.8 2384.3L1094.2 2383.8L1096.7 2383.3L1099.1 2382.7L1101.5 2382.1L1104.0 2381.5L1106.4 2380.8L1108.8 2380.1L1111.2 2379.3L1113.5 2378.5L1115.9 2377.7L1118.2 2376.8L1120.6 2375.9L1122.9 2374.9L1125.1 2373.9L1127.4 2372.8L1129.6 2371.7L1131.9 2370.5L1134.0 2369.3L1136.2 2368.1L1138.3 2366.7L1140.4 2365.4L1142.5 2364.0L1144.5 2362.5L1146.5 2361.0L1148.5 2359.5L1150.4 2357.9L1152.3 2356.2L1154.2 2354.6L1156.0 2352.9L1157.8 2351.1L1159.6 2349.4L1161.3 2347.6L1163.0 2345.7L1164.7 2343.9L1166.4 2342.0L1168.0 2340.1L1169.7 2338.2L1171.3 2336.3L1172.8 2334.4L1174.4 2332.4L1175.9 2330.4L1177.4 2328.4L1178.9 2326.4L1180.4 2324.4L1181.8 2322.3L1183.2 2320.3L1184.6 2318.2L1186.0 2316.1L1187.4 2314.0L1188.7 2311.9L1190.0 2309.8L1191.4 2307.6L1192.7 2305.5L1193.9 2303.3L1195.2 2301.2L1196.4 2299.0L1197.7 2296.8L1198.9 2294.6L1200.1 2292.4L1201.3 2290.2L1202.4 2288.0L1203.6 2285.8L1204.7 2283.6L1205.9 2281.4L1207.0 2279.1L1208.1 2276.9L1209.2 2274.6L1210.2 2272.4L1211.3 2270.1L1212.4 2267.8L1213.4 2265.6L1214.4 2263.3L1215.5 2261.0L1216.5 2258.7L1217.5 2256.4L1218.5 2254.1L1219.4 2251.8L1220.4 2249.5L1221.4 2247.2L1222.3 2244.9L1223.2 2242.5L1224.2 2240.2L1225.1 2237.9L1226.0 2235.6L1226.9 2233.2L1227.8 2230.9L1228.7 2228.5L1229.5 2226.2L1230.4 2223.9L1231.3 2221.5L1232.1 2219.1L1233.0 2216.8L1233.8 2214.4L1234.6 2212.1L1235.4 2209.7L1236.2 2207.3L1237.0 2205.0L1237.8 2202.6L1238.6 2200.2L1239.4 2197.8L1240.2 2195.5L1240.9 2193.1L1241.7 2190.7L1242.5 2188.3L1243.2 2185.9L1244.0 2183.5L1244.7 2181.1L1245.4 2178.7L1246.1 2176.3L1246.9 2174.0L1247.6 2171.6L1248.3 2169.1L1249.0 2166.7L1249.7 2164.3L1250.3 2161.9L1251.0 2159.5L1251.7 2157.1L1252.4 2154.7L1253.0 2152.3L1253.7 2149.9L1254.3 2147.5L1255.0 2145.0L1255.6 2142.6L1256.3 2140.2L1256.9 2137.8L1257.5 2135.4L1258.2 2132.9L1258.8 2130.5L1259.4 2128.1L1260.0 2125.7L1260.6 2123.2L1261.2 2120.8L1261.8 2118.4L1262.4 2115.9L1263.0 2113.5L1263.6 2111.1L1264.1 2108.6L1264.7 2106.2L1265.3 2103.8L1265.8 2101.3L1266.4 2098.9L1267.0 2096.5L1267.5 2094.0L1268.1 2091.6L1268.6 2089.1L1269.2 2086.7L1269.7 2084.2L1270.2 2081.8L1270.8 2079.4L1271.3 2076.9L1271.8 2074.5L1272.3 2072.0L1272.8 2069.6L1273.4 2067.1L1273.9 2064.7L1274.4 2062.2L1274.9 2059.8L1275.4 2057.3L1275.9 2054.9L1276.4 2052.4L1276.9 2050.0L1277.3 2047.5L1277.8 2045.0L1278.3 2042.6L1278.8 2040.1L1279.3 2037.7L1279.7 2035.2L1280.2 2032.8L1280.7 2030.3L1281.1 2027.8L1281.6 2025.4L1282.0 2022.9L1282.5 2020.5L1283.0 2018.0L1283.4 2015.5L1283.8 2013.1L1284.3 2010.6L1284.7 2008.2L1285.2 2005.7L1285.6 2003.2L1286.0 2000.8L1286.5 1998.3L1286.9 1995.8L1287.3 1993.4L1287.8 1990.9L1288.2 1988.4L1288.6 1986.0L1289.0 1983.5L1289.4 1981.0L1289.8 1978.6L1290.3 1976.1L1290.7 1973.6L1291.1 1971.2L1291.5 1968.7L1291.9 1966.2L1292.3 1963.7L1292.7 1961.3L1293.1 1958.8L1293.5 1956.3L1293.9 1953.9L1294.3 1951.4L1294.6 1948.9L1295.0 1946.4L1295.4 1944.0L1295.8 1941.5L1296.2 1939.0L1296.6 1936.6L1296.9 1934.1L1297.3 1931.6L1297.7 1929.1L1298.1 1926.7L1298.4 1924.2L1298.8 1921.7L1299.2 1919.2L1299.5 1916.8L1299.9 1914.3L1300.3 1911.8L1300.6 1909.3L1301.0 1906.9L1301.4 1904.4L1301.7 1901.9L1302.1 1899.4L1302.4 1897.0L1302.8 1894.5L1303.1 1892.0L1303.5 1889.5L1303.8 1887.0L1304.2 1884.6L1304.5 1882.1L1304.9 1879.6L1305.2 1877.1L1305.6 1874.7L1305.9 1872.2L1306.3 1869.7L1306.6 1867.2L1306.9 1864.7L1307.3 1862.3L1307.6 1859.8L1307.9 1857.3L1308.3 1854.8L1308.6 1852.3L1308.9 1849.9L1309.3 1847.4L1309.6 1844.9L1309.9 1842.4L1310.3 1839.9L1310.6 1837.5L1310.9 1835.0L1311.3 1832.5L1311.6 1830.0L1311.9 1827.5L1312.2 1825.0L1312.6 1822.6L1312.9 1820.1L1313.2 1817.6L1313.5 1815.1L1313.8 1812.6L1314.2 1810.2L1314.5 1807.7L1314.8 1805.2L1315.1 1802.7L1315.4 1800.2L1315.7 1797.7L1316.1 1795.3L1316.4 1792.8L1316.7 1790.3L1317.0 1787.8L1317.3 1785.3L1317.6 1782.9L1318.0 1780.4L1318.3 1777.9L1318.6 1775.4L1318.9 1772.9L1319.2 1770.4L1319.5 1768.0L1319.8 1765.5L1320.1 1763.0L1320.4 1760.5L1320.8 1758.0L1321.1 1755.5L1321.4 1753.1L1321.7 1750.6L1322.0 1748.1L1322.3 1745.6L1322.6 1743.1L1322.9 1740.6L1323.2 1738.2L1323.5 1735.7L1323.8 1733.2L1324.1 1730.7L1324.5 1728.2L1324.8 1725.7L1325.1 1723.3L1325.4 1720.8L1325.7 1718.3L1326.0 1715.8L1326.3 1713.3L1326.6 1710.8L1326.9 1708.4L1327.2 1705.9L1327.5 1703.4L1327.8 1700.9L1328.1 1698.4L1328.5 1695.9L1328.8 1693.5L1329.1 1691.0L1329.4 1688.5L1329.7 1686.0L1330.0 1683.5L1330.3 1681.0L1330.6 1678.6L1330.9 1676.1L1331.2 1673.6L1331.6 1671.1L1331.9 1668.6L1332.2 1666.1L1332.5 1663.7L1332.8 1661.2L1333.1 1658.7L1333.4 1656.2L1333.7 1653.7L1334.1 1651.3L1334.4 1648.8L1334.7 1646.3L1335.0 1643.8L1335.3 1641.3L1335.6 1638.8L1336.0 1636.4L1336.3 1633.9L1336.6 1631.4L1336.9 1628.9L1337.2 1626.4L1337.6 1624.0L1337.9 1621.5L1338.2 1619.0L1338.5 1616.5L1338.9 1614.0L1339.2 1611.5L1339.5 1609.1L1339.9 1606.6L1340.2 1604.1L1340.5 1601.6L1340.8 1599.1L1341.2 1596.7L1341.5 1594.2L1341.9 1591.7L1342.2 1589.2L1342.5 1586.7L1342.9 1584.3L1343.2 1581.8L1343.6 1579.3L1343.9 1576.8L1344.3 1574.4L1344.6 1571.9L1344.9 1569.4L1345.3 1566.9L1345.7 1564.4L1346.0 1562.0L1346.4 1559.5L1346.7 1557.0L1347.1 1554.5L1347.5 1552.1L1347.8 1549.6L1348.2 1547.1L1348.6 1544.6L1348.9 1542.2L1349.3 1539.7L1349.7 1537.2L1350.1 1534.7L1350.4 1532.3L1350.8 1529.8L1351.2 1527.3L1351.6 1524.9L1352.0 1522.4L1352.4 1519.9L1352.8 1517.4L1353.2 1515.0L1353.6 1512.5L1354.0 1510.0L1354.5 1507.6L1354.9 1505.1L1355.3 1502.6L1355.7 1500.2L1356.2 1497.7L1356.6 1495.2L1357.1 1492.8L1357.5 1490.3L1358.0 1487.9L1358.5 1485.4L1358.9 1482.9L1359.4 1480.5L1359.9 1478.0L1360.4 1475.6L1360.9 1473.1L1361.5 1470.7L1362.0 1468.3L1362.6 1465.8L1363.2 1463.4L1363.8 1461.0L1364.4 1458.5L1365.0 1456.1L1365.7 1453.7L1366.4 1451.3L1367.0 1448.9L1367.8 1446.5L1368.5 1444.1L1369.3 1441.7L1370.2 1439.4L1371.3 1437.1L1372.6 1435.0L1374.5 1433.4L1376.8 1434.0L1378.2 1436.0L1379.3 1438.3L1380.2 1440.6L1381.0 1443.0L1381.7 1445.4L1382.3 1447.8L1382.9 1450.2L1383.5 1452.7L1384.1 1455.1L1384.6 1457.6L1385.0 1460.0L1385.5 1462.5L1385.9 1465.0L1386.3 1467.4L1386.7 1469.9L1387.1 1472.4L1387.4 1474.9L1387.7 1477.3L1388.0 1479.8L1388.3 1482.3L1388.6 1484.8L1388.9 1487.3L1389.2 1489.8L1389.5 1492.2L1389.7 1494.7L1390.0 1497.2L1390.3 1499.7L1390.5 1502.2L1390.8 1504.7L1391.0 1507.2L1391.3 1509.7L1391.5 1512.2L1391.8 1514.7L1392.0 1517.1L1392.2 1519.6L1392.4 1522.1L1392.7 1524.6L1392.9 1527.1L1393.1 1529.6L1393.3 1532.1L1393.5 1534.6L1393.8 1537.1L1394.0 1539.6L1394.2 1542.1L1394.4 1544.6L1394.6 1547.1L1394.8 1549.6L1395.0 1552.0L1395.2 1554.5L1395.4 1557.0L1395.6 1559.5L1395.8 1562.0L1396.0 1564.5L1396.2 1567.0L1396.3 1569.5L1396.5 1572.0L1396.7 1574.5L1396.9 1577.0L1397.1 1579.5L1397.3 1582.0L1397.5 1584.5L1397.6 1587.0L1397.8 1589.5L1398.0 1592.0L1398.2 1594.5L1398.4 1597.0L1398.5 1599.5L1398.7 1602.0L1398.9 1604.5L1399.1 1606.9L1399.2 1609.4L1399.4 1611.9L1399.6 1614.4L1399.7 1616.9L1399.9 1619.4L1400.1 1621.9L1400.3 1624.4L1400.4 1626.9L1400.6 1629.4L1400.8 1631.9L1400.9 1634.4L1401.1 1636.9L1401.3 1639.4L1401.4 1641.9L1401.6 1644.4L1401.7 1646.9L1401.9 1649.4L1402.1 1651.9L1402.2 1654.4L1402.4 1656.9L1402.5 1659.4L1402.7 1661.9L1402.9 1664.4L1403.0 1666.9L1403.2 1669.4L1403.3 1671.9L1403.5 1674.4L1403.7 1676.9L1403.8 1679.4L1404.0 1681.9L1404.1 1684.4L1404.3 1686.9L1404.4 1689.3L1404.6 1691.8L1404.8 1694.3L1404.9 1696.8L1405.1 1699.3L1405.2 1701.8L1405.4 1704.3L1405.5 1706.8L1405.7 1709.3L1405.8 1711.8L1406.0 1714.3L1406.1 1716.8L1406.3 1719.3L1406.4 1721.8L1406.6 1724.3L1406.7 1726.8L1406.9 1729.3L1407.0 1731.8L1407.2 1734.3L1407.3 1736.8L1407.5 1739.3L1407.6 1741.8L1407.8 1744.3L1407.9 1746.8L1408.1 1749.3L1408.2 1751.8L1408.4 1754.3L1408.5 1756.8L1408.7 1759.3L1408.8 1761.8L1409.0 1764.3L1409.1 1766.8L1409.3 1769.3L1409.4 1771.8L1409.6 1774.3L1409.7 1776.8L1409.8 1779.3L1410.0 1781.8L1410.1 1784.3L1410.3 1786.8L1410.4 1789.3L1410.6 1791.8L1410.7 1794.3L1410.9 1796.8L1411.0 1799.3L1411.1 1801.8L1411.3 1804.3L1411.4 1806.7L1411.6 1809.2L1411.7 1811.7L1411.9 1814.2L1412.0 1816.7L1412.2 1819.2L1412.3 1821.7L1412.4 1824.2L1412.6 1826.7L1412.7 1829.2L1412.9 1831.7L1413.0 1834.2L1413.2 1836.7L1413.3 1839.2L1413.4 1841.7L1413.6 1844.2L1413.7 1846.7L1413.9 1849.2L1414.0 1851.7L1414.2 1854.2L1414.3 1856.7L1414.4 1859.2L1414.6 1861.7L1414.7 1864.2L1414.9 1866.7L1415.0 1869.2L1415.1 1871.7L1415.3 1874.2L1415.4 1876.7L1415.6 1879.2L1415.7 1881.7L1415.8 1884.2L1416.0 1886.7L1416.1 1889.2L1416.3 1891.7L1416.4 1894.2L1416.5 1896.7L1416.7 1899.2L1416.8 1901.7L1417.0 1904.2L1417.1 1906.7L1417.2 1909.2L1417.4 1911.7L1417.5 1914.2L1417.7 1916.7L1417.8 1919.2L1417.9 1921.7L1418.1 1924.2L1418.2 1926.7L1418.4 1929.2L1418.5 1931.7L1418.6 1934.2L1418.8 1936.7L1418.9 1939.2L1419.1 1941.7L1419.2 1944.2L1419.3 1946.7L1419.5 1949.2L1419.6 1951.7L1419.8 1954.2L1419.9 1956.7L1420.0 1959.1L1420.2 1961.6L1420.3 1964.1L1420.4 1966.6L1420.6 1969.1L1420.7 1971.6L1420.9 1974.1L1421.0 1976.6L1421.1 1979.1L1421.3 1981.6L1421.4 1984.1L1421.6 1986.6L1421.7 1989.1L1421.8 1991.6L1422.0 1994.1L1422.1 1996.6L1422.2 1999.1L1422.4 2001.6L1422.5 2004.1L1422.7 2006.6L1422.8 2009.1L1422.9 2011.6L1423.1 2014.1L1423.2 2016.6L1423.4 2019.1L1423.5 2021.6L1423.6 2024.1L1423.8 2026.6L1423.9 2029.1L1424.0 2031.6L1424.2 2034.1L1424.3 2036.6L1424.5 2039.1L1424.6 2041.6L1424.7 2044.1L1424.9 2046.6L1425.0 2049.1L1425.2 2051.6L1425.3 2054.1L1425.4 2056.6L1425.6 2059.1L1425.7 2061.6L1425.9 2064.1L1426.0 2066.6L1426.1 2069.1L1426.3 2071.6L1426.4 2074.1L1426.6 2076.6L1426.7 2079.1L1426.8 2081.6L1427.0 2084.1L1427.1 2086.6L1427.3 2089.1L1427.4 2091.6L1427.6 2094.1L1427.7 2096.6L1427.8 2099.1L1428.0 2101.6L1428.1 2104.1L1428.3 2106.6L1428.4 2109.1L1428.6 2111.6L1428.7 2114.1L1428.8 2116.5L1429.0 2119.0L1429.1 2121.5L1429.3 2124.0L1429.4 2126.5L1429.6 2129.0L1429.7 2131.5L1429.9 2134.0L1430.0 2136.5L1430.2 2139.0L1430.3 2141.5L1430.5 2144.0L1430.6 2146.5L1430.8 2149.0L1430.9 2151.5L1431.0 2154.0L1431.2 2156.5L1431.4 2159.0L1431.5 2161.5L1431.7 2164.0L1431.8 2166.5L1432.0 2169.0L1432.1 2171.5L1432.3 2174.0L1432.4 2176.5L1432.6 2179.0L1432.7 2181.5L1432.9 2184.0L1433.0 2186.5L1433.2 2189.0L1433.4 2191.5L1433.5 2194.0L1433.7 2196.5L1433.8 2199.0L1434.0 2201.5L1434.2 2204.0L1434.3 2206.5L1434.5 2209.0L1434.7 2211.5L1434.8 2214.0L1435.0 2216.5L1435.2 2218.9L1435.3 2221.4L1435.5 2223.9L1435.7 2226.4L1435.9 2228.9L1436.0 2231.4L1436.2 2233.9L1436.4 2236.4L1436.6 2238.9L1436.8 2241.4L1436.9 2243.9L1437.1 2246.4L1437.3 2248.9L1437.5 2251.4L1437.7 2253.9L1437.9 2256.4L1438.1 2258.9L1438.3 2261.4L1438.5 2263.9L1438.7 2266.4L1438.9 2268.9L1439.1 2271.4L1439.3 2273.8L1439.5 2276.3L1439.7 2278.8L1439.9 2281.3L1440.1 2283.8L1440.4 2286.3L1440.6 2288.8L1440.8 2291.3L1441.1 2293.8L1441.3 2296.3L1441.5 2298.8L1441.8 2301.3L1442.0 2303.7L1442.3 2306.2L1442.5 2308.7L1442.8 2311.2L1443.1 2313.7L1443.4 2316.2L1443.6 2318.7L1443.9 2321.2L1444.2 2323.6L1444.5 2326.1L1444.8 2328.6L1445.2 2331.1L1445.5 2333.6L1445.8 2336.1L1446.2 2338.5L1446.5 2341.0L1446.9 2343.5L1447.3 2346.0L1447.7 2348.4L1448.1 2350.9L1448.5 2353.4L1449.0 2355.8L1449.5 2358.3L1450.0 2360.7L1450.5 2363.2L1451.0 2365.6L1451.6 2368.1L1452.2 2370.5L1452.8 2372.9L1453.5 2375.3L1454.2 2377.7L1455.0 2380.1L1455.9 2382.4L1456.7 2384.8L1457.7 2387.1L1458.8 2389.4L1460.0 2391.6L1461.3 2393.7L1462.8 2395.7L1464.5 2397.5L1466.4 2399.1L1468.5 2400.5L1470.7 2401.7L1473.0 2402.6L1475.4 2403.4L1477.8 2404.1L1480.2 2404.8L1482.6 2405.4L1485.1 2405.8L1487.6 2406.2L1490.1 2406.4L1492.6 2406.6L1495.1 2406.8L1497.6 2406.9L1500.1 2406.9L1502.6 2407.0L1505.1 2407.0L1507.6 2407.0L1510.1 2407.1L1512.6 2407.1L1515.1 2407.1L1517.6 2407.1L1520.1 2407.1L1522.6 2407.1L1525.1 2407.2L1527.6 2407.2L1530.1 2407.2L1532.6 2407.2L1535.1 2407.2L1537.6 2407.2L1540.1 2407.3L1542.6 2407.3L1545.1 2407.3L1547.6 2407.3L1550.1 2407.3L1552.6 2407.3L1555.1 2407.3L1557.6 2407.4L1560.1 2407.4L1562.6 2407.4L1565.1 2407.4L1567.6 2407.4L1570.1 2407.4L1572.6 2407.4L1575.1 2407.5L1577.6 2407.5L1580.1 2407.5L1582.6 2407.5L1585.1 2407.5L1587.6 2407.5L1590.1 2407.5L1592.6 2407.6L1595.1 2407.6L1597.6 2407.6L1600.1 2407.6L1602.6 2407.6L1605.2 2407.6L1607.7 2407.6L1610.2 2407.6L1612.7 2407.7L1615.2 2407.7L1617.7 2407.7L1620.2 2407.7L1622.7 2407.7L1625.2 2407.7L1627.7 2407.7L1630.2 2407.7L1632.7 2407.7L1635.2 2407.8L1637.7 2407.8L1640.2 2407.8L1642.7 2407.8L1645.2 2407.8L1647.7 2407.8L1650.2 2407.8L1652.7 2407.8L1655.2 2407.8L1657.7 2407.9L1660.2 2407.9L1662.7 2407.9L1665.2 2407.9L1667.7 2407.9L1670.2 2407.9L1672.7 2407.9L1675.2 2407.9L1677.7 2407.9L1680.2 2407.9L1682.7 2408.0L1685.2 2408.0L1687.7 2408.0L1690.2 2408.0L1692.7 2408.0L1695.2 2408.0L1697.7 2408.0L1700.2 2408.0L1702.7 2408.0L1705.2 2408.0L1707.7 2408.0L1710.2 2408.0L1712.7 2408.0L1715.3 2408.1L1717.8 2408.1L1720.3 2408.1L1722.8 2408.1L1725.3 2408.1L1727.8 2408.1L1730.3 2408.1L1732.8 2408.1L1735.3 2408.1L1737.8 2408.1L1740.3 2408.1L1742.8 2408.1L1745.3 2408.1L1747.8 2408.1L1750.3 2408.1L1752.8 2408.1L1755.3 2408.1L1757.8 2408.1L1760.3 2408.2L1762.8 2408.2L1765.3 2408.2L1767.8 2408.2L1770.3 2408.2L1772.8 2408.2L1775.3 2408.2L1777.8 2408.2L1780.3 2408.2L1782.8 2408.2L1785.3 2408.2L1787.8 2408.2L1790.3 2408.2L1792.8 2408.2L1795.3 2408.2L1797.8 2408.2L1800.3 2408.2L1802.8 2408.2L1805.3 2408.2L1807.8 2408.2L1810.3 2408.2L1812.8 2408.2L1815.3 2408.2L1817.8 2408.2L1820.3 2408.2"/>
<path class="cv" stroke="#ff0000" stroke-width="7.0" d="M184.1 2409.0L186.6 2409.0L189.1 2409.1L191.6 2409.1L194.1 2409.1L196.6 2409.1L199.1 2409.2L201.6 2409.2L204.1 2409.2L206.6 2409.2L209.1 2409.3L211.6 2409.3L214.1 2409.3L216.6 2409.3L219.1 2409.3L221.6 2409.3L224.1 2409.4L226.7 2409.4L229.2 2409.4L231.7 2409.4L234.2 2409.4L236.7 2409.4L239.2 2409.4L241.7 2409.4L244.2 2409.4L246.7 2409.5L249.2 2409.5L251.7 2409.5L254.2 2409.5L256.7 2409.5L259.2 2409.5L261.7 2409.5L264.2 2409.5L266.7 2409.5L269.2 2409.5L271.7 2409.5L274.2 2409.5L276.7 2409.5L279.2 2409.5L281.7 2409.5L284.2 2409.5L286.7 2409.5L289.2 2409.5L291.7 2409.5L294.2 2409.5L296.7 2409.5L299.2 2409.5L301.7 2409.5L304.3 2409.5L306.8 2409.5L309.3 2409.5L311.8 2409.5L314.3 2409.4L316.8 2409.4L319.3 2409.4L321.8 2409.4L324.3 2409.3L326.8 2409.3L329.3 2409.3L331.8 2409.2L334.3 2409.2L336.8 2409.1L339.3 2409.1L341.8 2409.0L344.3 2409.0L346.8 2408.9L349.3 2408.9L351.8 2408.8L354.3 2408.8L356.8 2408.7L359.3 2408.6L361.8 2408.6L364.3 2408.5L366.8 2408.4L369.3 2408.4L371.8 2408.3L374.3 2408.2L376.8 2408.1L379.3 2408.0L381.8 2408.0L384.3 2407.9L386.8 2407.8L389.3 2407.7L391.8 2407.6L394.3 2407.5L396.8 2407.5L399.3 2407.4L401.8 2407.3L404.3 2407.2L406.8 2407.1L409.4 2407.0L411.9 2406.9L414.4 2406.8L416.9 2406.7L419.4 2406.6L421.9 2406.5L424.4 2406.4L426.9 2406.4L429.4 2406.3L431.9 2406.2L434.4 2406.1L436.9 2406.0L439.4 2405.9L441.9 2405.8L444.4 2405.7L446.9 2405.6L449.4 2405.5L451.9 2405.4L454.4 2405.3L456.9 2405.2L459.4 2405.1L461.9 2405.0L464.4 2404.9L466.9 2404.8L469.4 2404.7L471.9 2404.6L474.4 2404.5L476.9 2404.4L479.4 2404.3L481.9 2404.2L484.4 2404.0L486.9 2403.9L489.4 2403.8L491.9 2403.7L494.4 2403.5L496.9 2403.4L499.4 2403.3L501.9 2403.2L504.4 2403.0L506.9 2402.9L509.4 2402.7L511.9 2402.6L514.4 2402.5L516.9 2402.3L519.4 2402.2L521.9 2402.0L524.4 2401.9L526.9 2401.7L529.4 2401.6L531.9 2401.4L534.4 2401.3L536.9 2401.1L539.4 2401.0L541.9 2400.8L544.4 2400.7L546.9 2400.5L549.4 2400.3L551.9 2400.2L554.4 2400.0L556.9 2399.9L559.4 2399.7L561.9 2399.5L564.4 2399.4L566.8 2399.2L569.3 2399.0L571.8 2398.9L574.3 2398.7L576.8 2398.5L579.3 2398.3L581.8 2398.1L584.3 2397.9L586.8 2397.7L589.3 2397.5L591.8 2397.2L594.3 2397.0L596.8 2396.8L599.3 2396.6L601.8 2396.4L604.3 2396.2L606.8 2396.0L609.3 2395.8L611.8 2395.6L614.3 2395.4L616.8 2395.2L619.3 2395.0L621.7 2394.8L624.2 2394.6L626.7 2394.4L629.2 2394.2L631.7 2394.1L634.2 2393.9L636.7 2393.7L639.2 2393.5L641.7 2393.4L644.2 2393.3L646.7 2393.1L649.2 2393.0L651.7 2392.9L654.2 2392.8L656.7 2392.7L659.2 2392.6L661.7 2392.5L664.2 2392.4L666.7 2392.3L669.2 2392.2L671.7 2392.1L674.2 2392.0L676.7 2391.9L679.2 2391.8L681.7 2391.7L684.2 2391.6L686.7 2391.5L689.2 2391.4L691.7 2391.3L694.2 2391.2L696.7 2391.1L699.2 2391.1L701.7 2391.0L704.2 2390.9L706.8 2390.8L709.3 2390.8L711.8 2390.7L714.3 2390.6L716.8 2390.6L719.3 2390.5L721.8 2390.5L724.3 2390.4L726.8 2390.4L729.3 2390.3L731.8 2390.3L734.3 2390.3L736.8 2390.2L739.3 2390.2L741.8 2390.2L744.3 2390.2L746.8 2390.2L749.3 2390.2L751.8 2390.2L754.3 2390.2L756.8 2390.2L759.3 2390.2L761.8 2390.1L764.3 2390.1L766.8 2390.1L769.3 2390.1L771.8 2390.1L774.3 2390.1L776.8 2390.1L779.3 2390.1L781.8 2390.1L784.3 2390.1L786.8 2390.1L789.3 2390.1L791.9 2390.1L794.4 2390.1L796.9 2390.1L799.4 2390.1L801.9 2390.1L804.4 2390.1L806.9 2390.1L809.4 2390.1L811.9 2390.1L814.4 2390.1L816.9 2390.1L819.4 2390.1L821.9 2390.0L824.4 2390.0L826.9 2390.0L829.4 2390.0L831.9 2390.0L834.4 2390.0L836.9 2390.0L839.4 2390.0L841.9 2390.0L844.4 2390.0L846.9 2389.9L849.4 2389.9L851.9 2389.9L854.4 2389.9L856.9 2389.9L859.4 2389.9L861.9 2389.9L864.4 2389.8L866.9 2389.8L869.5 2389.8L872.0 2389.8L874.5 2389.8L877.0 2389.8L879.5 2389.7L882.0 2389.7L884.5 2389.7L887.0 2389.7L889.5 2389.6L892.0 2389.6L894.5 2389.6L897.0 2389.6L899.5 2389.5L902.0 2389.5L904.5 2389.5L907.0 2389.5L909.5 2389.5L912.0 2389.5L914.5 2389.6L917.0 2389.6L919.5 2389.7L922.0 2389.7L924.5 2389.8L927.0 2389.8L929.5 2389.9L932.0 2390.0L934.5 2390.0L937.0 2390.1L939.5 2390.1L942.0 2390.2L944.5 2390.2L947.0 2390.2L949.5 2390.3L952.0 2390.3L954.6 2390.3L957.1 2390.3L959.6 2390.3L962.1 2390.3L964.6 2390.3L967.1 2390.3L969.6 2390.3L972.1 2390.3L974.6 2390.3L977.1 2390.3L979.6 2390.3L982.1 2390.2L984.6 2390.2L987.1 2390.2L989.6 2390.2L992.1 2390.2L994.6 2390.1L997.1 2390.1L999.6 2390.1L1002.1 2390.1L1004.6 2390.1L1007.1 2390.1L1009.6 2390.2L1012.1 2390.3L1014.6 2390.4L1017.1 2390.5L1019.6 2390.6L1022.1 2390.7L1024.6 2390.7L1027.1 2390.8L1029.6 2390.9L1032.1 2390.9L1034.6 2391.0L1037.1 2391.0L1039.6 2390.9L1042.1 2390.9L1044.6 2390.8L1047.1 2390.6L1049.6 2390.4L1052.1 2390.1L1054.6 2389.8L1057.1 2389.5L1059.6 2389.1L1062.0 2388.6L1064.5 2388.1L1066.9 2387.6L1069.4 2387.1L1071.8 2386.4L1074.2 2385.8L1076.6 2385.1L1079.0 2384.3L1081.4 2383.5L1083.7 2382.7L1086.1 2381.8L1088.4 2380.8L1090.7 2379.8L1093.0 2378.8L1095.2 2377.7L1097.4 2376.6L1099.7 2375.4L1101.8 2374.2L1104.0 2372.9L1106.1 2371.6L1108.2 2370.3L1110.3 2368.9L1112.4 2367.4L1114.4 2365.9L1116.3 2364.4L1118.3 2362.8L1120.2 2361.2L1122.0 2359.5L1123.8 2357.8L1125.6 2356.0L1127.3 2354.2L1129.0 2352.3L1130.7 2350.5L1132.3 2348.5L1133.9 2346.6L1135.4 2344.6L1136.9 2342.6L1138.3 2340.6L1139.8 2338.5L1141.2 2336.4L1142.5 2334.3L1143.8 2332.2L1145.1 2330.0L1146.4 2327.9L1147.6 2325.7L1148.8 2323.5L1150.0 2321.3L1151.1 2319.1L1152.2 2316.8L1153.3 2314.6L1154.4 2312.3L1155.5 2310.1L1156.5 2307.8L1157.6 2305.5L1158.6 2303.2L1159.6 2300.9L1160.5 2298.6L1161.5 2296.3L1162.4 2294.0L1163.4 2291.6L1164.3 2289.3L1165.2 2287.0L1166.1 2284.6L1166.9 2282.3L1167.8 2279.9L1168.6 2277.6L1169.5 2275.2L1170.3 2272.8L1171.1 2270.5L1171.9 2268.1L1172.7 2265.7L1173.4 2263.3L1174.2 2261.0L1174.9 2258.6L1175.7 2256.2L1176.4 2253.8L1177.1 2251.4L1177.9 2249.0L1178.6 2246.6L1179.3 2244.2L1179.9 2241.8L1180.6 2239.4L1181.3 2237.0L1182.0 2234.5L1182.6 2232.1L1183.3 2229.7L1183.9 2227.3L1184.5 2224.9L1185.2 2222.5L1185.8 2220.0L1186.4 2217.6L1187.0 2215.2L1187.6 2212.7L1188.2 2210.3L1188.8 2207.9L1189.4 2205.4L1190.0 2203.0L1190.5 2200.6L1191.1 2198.1L1191.7 2195.7L1192.2 2193.3L1192.8 2190.8L1193.3 2188.4L1193.9 2185.9L1194.4 2183.5L1194.9 2181.0L1195.5 2178.6L1196.0 2176.1L1196.5 2173.7L1197.0 2171.2L1197.5 2168.8L1198.0 2166.3L1198.5 2163.9L1199.0 2161.4L1199.5 2159.0L1200.0 2156.5L1200.5 2154.1L1201.0 2151.6L1201.5 2149.2L1201.9 2146.7L1202.4 2144.2L1202.9 2141.8L1203.3 2139.3L1203.8 2136.9L1204.3 2134.4L1204.7 2131.9L1205.2 2129.5L1205.6 2127.0L1206.1 2124.5L1206.5 2122.1L1206.9 2119.6L1207.4 2117.2L1207.8 2114.7L1208.2 2112.2L1208.7 2109.8L1209.1 2107.3L1209.5 2104.8L1209.9 2102.4L1210.4 2099.9L1210.8 2097.4L1211.2 2095.0L1211.6 2092.5L1212.0 2090.0L1212.4 2087.5L1212.8 2085.1L1213.2 2082.6L1213.6 2080.1L1214.0 2077.7L1214.4 2075.2L1214.8 2072.7L1215.2 2070.2L1215.6 2067.8L1216.0 2065.3L1216.3 2062.8L1216.7 2060.3L1217.1 2057.9L1217.5 2055.4L1217.9 2052.9L1218.2 2050.4L1218.6 2048.0L1219.0 2045.5L1219.4 2043.0L1219.7 2040.5L1220.1 2038.1L1220.5 2035.6L1220.8 2033.1L1221.2 2030.6L1221.5 2028.2L1221.9 2025.7L1222.2 2023.2L1222.6 2020.7L1223.0 2018.3L1223.3 2015.8L1223.6 2013.3L1224.0 2010.8L1224.3 2008.3L1224.7 2005.9L1225.0 2003.4L1225.4 2000.9L1225.7 1998.4L1226.1 1995.9L1226.4 1993.5L1226.7 1991.0L1227.1 1988.5L1227.4 1986.0L1227.7 1983.5L1228.1 1981.1L1228.4 1978.6L1228.7 1976.1L1229.0 1973.6L1229.4 1971.1L1229.7 1968.6L1230.0 1966.2L1230.3 1963.7L1230.7 1961.2L1231.0 1958.7L1231.3 1956.2L1231.6 1953.7L1231.9 1951.3L1232.2 1948.8L1232.6 1946.3L1232.9 1943.8L1233.2 1941.3L1233.5 1938.8L1233.8 1936.4L1234.1 1933.9L1234.4 1931.4L1234.7 1928.9L1235.0 1926.4L1235.3 1923.9L1235.6 1921.5L1235.9 1919.0L1236.2 1916.5L1236.5 1914.0L1236.8 1911.5L1237.1 1909.0L1237.4 1906.5L1237.7 1904.1L1238.0 1901.6L1238.3 1899.1L1238.6 1896.6L1238.9 1894.1L1239.2 1891.6L1239.5 1889.1L1239.8 1886.7L1240.1 1884.2L1240.4 1881.7L1240.6 1879.2L1240.9 1876.7L1241.2 1874.2L1241.5 1871.7L1241.8 1869.2L1242.1 1866.8L1242.4 1864.3L1242.6 1861.8L1242.9 1859.3L1243.2 1856.8L1243.5 1854.3L1243.8 1851.8L1244.0 1849.4L1244.3 1846.9L1244.6 1844.4L1244.9 1841.9L1245.1 1839.4L1245.4 1836.9L1245.7 1834.4L1246.0 1831.9L1246.2 1829.4L1246.5 1827.0L1246.8 1824.5L1247.0 1822.0L1247.3 1819.5L1247.6 1817.0L1247.9 1814.5L1248.1 1812.0L1248.4 1809.5L1248.7 1807.0L1248.9 1804.6L1249.2 1802.1L1249.5 1799.6L1249.7 1797.1L1250.0 1794.6L1250.2 1792.1L1250.5 1789.6L1250.8 1787.1L1251.0 1784.6L1251.3 1782.2L1251.5 1779.7L1251.8 1777.2L1252.1 1774.7L1252.3 1772.2L1252.6 1769.7L1252.8 1767.2L1253.1 1764.7L1253.4 1762.2L1253.6 1759.7L1253.9 1757.3L1254.1 1754.8L1254.4 1752.3L1254.6 1749.8L1254.9 1747.3L1255.1 1744.8L1255.4 1742.3L1255.6 1739.8L1255.9 1737.3L1256.1 1734.8L1256.4 1732.4L1256.6 1729.9L1256.9 1727.4L1257.1 1724.9L1257.4 1722.4L1257.6 1719.9L1257.9 1717.4L1258.1 1714.9L1258.4 1712.4L1258.6 1709.9L1258.9 1707.4L1259.1 1705.0L1259.4 1702.5L1259.6 1700.0L1259.8 1697.5L1260.1 1695.0L1260.3 1692.5L1260.6 1690.0L1260.8 1687.5L1261.1 1685.0L1261.3 1682.5L1261.6 1680.0L1261.8 1677.5L1262.0 1675.1L1262.3 1672.6L1262.5 1670.1L1262.8 1667.6L1263.0 1665.1L1263.2 1662.6L1263.5 1660.1L1263.7 1657.6L1264.0 1655.1L1264.2 1652.6L1264.4 1650.1L1264.7 1647.6L1264.9 1645.2L1265.2 1642.7L1265.4 1640.2L1265.6 1637.7L1265.9 1635.2L1266.1 1632.7L1266.3 1630.2L1266.6 1627.7L1266.8 1625.2L1267.1 1622.7L1267.3 1620.2L1267.5 1617.7L1267.8 1615.3L1268.0 1612.8L1268.2 1610.3L1268.5 1607.8L1268.7 1605.3L1268.9 1602.8L1269.2 1600.3L1269.4 1597.8L1269.7 1595.3L1269.9 1592.8L1270.1 1590.3L1270.4 1587.8L1270.6 1585.3L1270.8 1582.9L1271.1 1580.4L1271.3 1577.9L1271.5 1575.4L1271.8 1572.9L1272.0 1570.4L1272.2 1567.9L1272.5 1565.4L1272.7 1562.9L1273.0 1560.4L1273.2 1557.9L1273.4 1555.4L1273.7 1553.0L1273.9 1550.5L1274.1 1548.0L1274.4 1545.5L1274.6 1543.0L1274.9 1540.5L1275.1 1538.0L1275.3 1535.5L1275.6 1533.0L1275.8 1530.5L1276.1 1528.0L1276.3 1525.5L1276.5 1523.1L1276.8 1520.6L1277.0 1518.1L1277.3 1515.6L1277.5 1513.1L1277.8 1510.6L1278.0 1508.1L1278.2 1505.6L1278.5 1503.1L1278.7 1500.6L1279.0 1498.1L1279.2 1495.6L1279.5 1493.2L1279.7 1490.7L1280.0 1488.2L1280.2 1485.7L1280.5 1483.2L1280.7 1480.7L1281.0 1478.2L1281.2 1475.7L1281.5 1473.2L1281.7 1470.7L1282.0 1468.3L1282.3 1465.8L1282.5 1463.3L1282.8 1460.8L1283.1 1458.3L1283.3 1455.8L1283.6 1453.3L1283.9 1450.8L1284.1 1448.3L1284.4 1445.9L1284.7 1443.4L1284.9 1440.9L1285.2 1438.4L1285.5 1435.9L1285.8 1433.4L1286.1 1430.9L1286.4 1428.4L1286.7 1426.0L1286.9 1423.5L1287.2 1421.0L1287.5 1418.5L1287.8 1416.0L1288.2 1413.5L1288.5 1411.0L1288.8 1408.6L1289.1 1406.1L1289.4 1403.6L1289.8 1401.1L1290.1 1398.6L1290.4 1396.2L1290.8 1393.7L1291.1 1391.2L1291.5 1388.7L1291.8 1386.2L1292.2 1383.8L1292.6 1381.3L1293.0 1378.8L1293.4 1376.3L1293.8 1373.9L1294.2 1371.4L1294.6 1368.9L1295.0 1366.5L1295.4 1364.0L1295.8 1361.5L1296.3 1359.1L1296.8 1356.6L1297.4 1354.2L1298.0 1351.8L1298.6 1349.3L1299.3 1346.9L1300.1 1344.6L1301.1 1342.2L1302.1 1340.0L1303.5 1337.9L1305.3 1336.2L1307.7 1336.2L1309.5 1337.9L1310.7 1340.1L1311.7 1342.4L1312.6 1344.7L1313.3 1347.1L1313.9 1349.5L1314.5 1352.0L1315.0 1354.4L1315.5 1356.9L1316.0 1359.3L1316.4 1361.8L1316.8 1364.3L1317.2 1366.7L1317.6 1369.2L1318.0 1371.7L1318.3 1374.2L1318.7 1376.6L1319.1 1379.1L1319.4 1381.6L1319.7 1384.1L1320.1 1386.6L1320.4 1389.0L1320.7 1391.5L1321.0 1394.0L1321.3 1396.5L1321.6 1399.0L1321.9 1401.5L1322.2 1404.0L1322.4 1406.4L1322.7 1408.9L1323.0 1411.4L1323.3 1413.9L1323.5 1416.4L1323.8 1418.9L1324.0 1421.4L1324.3 1423.9L1324.5 1426.4L1324.8 1428.8L1325.0 1431.3L1325.2 1433.8L1325.5 1436.3L1325.7 1438.8L1325.9 1441.3L1326.2 1443.8L1326.4 1446.3L1326.6 1448.8L1326.8 1451.3L1327.0 1453.8L1327.2 1456.3L1327.5 1458.8L1327.7 1461.3L1327.9 1463.8L1328.1 1466.2L1328.3 1468.7L1328.5 1471.2L1328.7 1473.7L1328.9 1476.2L1329.1 1478.7L1329.3 1481.2L1329.5 1483.7L1329.7 1486.2L1329.9 1488.7L1330.1 1491.2L1330.3 1493.7L1330.5 1496.2L1330.7 1498.7L1330.8 1501.2L1331.0 1503.7L1331.2 1506.2L1331.4 1508.7L1331.6 1511.2L1331.8 1513.7L1332.0 1516.2L1332.1 1518.7L1332.3 1521.2L1332.5 1523.7L1332.7 1526.2L1332.9 1528.6L1333.0 1531.1L1333.2 1533.6L1333.4 1536.1L1333.6 1538.6L1333.7 1541.1L1333.9 1543.6L1334.1 1546.1L1334.3 1548.6L1334.4 1551.1L1334.6 1553.6L1334.8 1556.1L1334.9 1558.6L1335.1 1561.1L1335.3 1563.6L1335.4 1566.1L1335.6 1568.6L1335.8 1571.1L1335.9 1573.6L1336.1 1576.1L1336.3 1578.6L1336.4 1581.1L1336.6 1583.6L1336.8 1586.1L1336.9 1588.6L1337.1 1591.1L1337.3 1593.6L1337.4 1596.1L1337.6 1598.6L1337.7 1601.1L1337.9 1603.6L1338.1 1606.1L1338.2 1608.6L1338.4 1611.1L1338.5 1613.6L1338.7 1616.1L1338.9 1618.6L1339.0 1621.1L1339.2 1623.6L1339.3 1626.1L1339.5 1628.6L1339.7 1631.1L1339.8 1633.6L1340.0 1636.0L1340.1 1638.5L1340.3 1641.0L1340.4 1643.5L1340.6 1646.0L1340.7 1648.5L1340.9 1651.0L1341.1 1653.5L1341.2 1656.0L1341.4 1658.5L1341.5 1661.0L1341.7 1663.5L1341.8 1666.0L1342.0 1668.5L1342.1 1671.0L1342.3 1673.5L1342.4 1676.0L1342.6 1678.5L1342.7 1681.0L1342.9 1683.5L1343.0 1686.0L1343.2 1688.5L1343.3 1691.0L1343.5 1693.5L1343.6 1696.0L1343.8 1698.5L1343.9 1701.0L1344.1 1703.5L1344.2 1706.0L1344.4 1708.5L1344.5 1711.0L1344.7 1713.5L1344.8 1716.0L1345.0 1718.5L1345.1 1721.0L1345.3 1723.5L1345.4 1726.0L1345.6 1728.5L1345.7 1731.0L1345.9 1733.5L1346.0 1736.0L1346.2 1738.5L1346.3 1741.0L1346.5 1743.5L1346.6 1746.0L1346.8 1748.5L1346.9 1751.0L1347.1 1753.5L1347.2 1756.0L1347.4 1758.5L1347.5 1761.0L1347.7 1763.5L1347.8 1766.0L1347.9 1768.5L1348.1 1771.0L1348.2 1773.5L1348.4 1776.0L1348.5 1778.5L1348.7 1781.0L1348.8 1783.5L1349.0 1786.0L1349.1 1788.5L1349.3 1791.0L1349.4 1793.5L1349.6 1796.0L1349.7 1798.5L1349.8 1801.0L1350.0 1803.5L1350.1 1806.0L1350.3 1808.5L1350.4 1811.0L1350.6 1813.5L1350.7 1816.0L1350.9 1818.5L1351.0 1821.0L1351.2 1823.5L1351.3 1826.0L1351.4 1828.5L1351.6 1831.0L1351.7 1833.5L1351.9 1836.0L1352.0 1838.4L1352.2 1840.9L1352.3 1843.4L1352.5 1845.9L1352.6 1848.4L1352.7 1850.9L1352.9 1853.4L1353.0 1855.9L1353.2 1858.4L1353.3 1860.9L1353.5 1863.4L1353.6 1865.9L1353.7 1868.4L1353.9 1870.9L1354.0 1873.4L1354.2 1875.9L1354.3 1878.4L1354.5 1880.9L1354.6 1883.4L1354.8 1885.9L1354.9 1888.4L1355.0 1890.9L1355.2 1893.4L1355.3 1895.9L1355.5 1898.4L1355.6 1900.9L1355.8 1903.4L1355.9 1905.9L1356.0 1908.4L1356.2 1910.9L1356.3 1913.4L1356.5 1915.9L1356.6 1918.4L1356.8 1920.9L1356.9 1923.4L1357.1 1925.9L1357.2 1928.4L1357.3 1930.9L1357.5 1933.4L1357.6 1935.9L1357.8 1938.4L1357.9 1940.9L1358.1 1943.4L1358.2 1945.9L1358.4 1948.4L1358.5 1950.9L1358.6 1953.4L1358.8 1955.9L1358.9 1958.4L1359.1 1960.9L1359.2 1963.4L1359.4 1965.9L1359.5 1968.4L1359.7 1970.9L1359.8 1973.4L1359.9 1975.9L1360.1 1978.4L1360.2 1980.9L1360.4 1983.4L1360.5 1985.9L1360.7 1988.4L1360.8 1990.9L1361.0 1993.4L1361.1 1995.9L1361.3 1998.4L1361.4 2000.9L1361.5 2003.4L1361.7 2005.9L1361.8 2008.4L1362.0 2010.9L1362.1 2013.4L1362.3 2015.9L1362.4 2018.4L1362.6 2020.9L1362.7 2023.4L1362.9 2025.9L1363.0 2028.4L1363.2 2030.9L1363.3 2033.4L1363.5 2035.9L1363.6 2038.4L1363.8 2040.9L1363.9 2043.4L1364.1 2045.9L1364.2 2048.4L1364.4 2050.9L1364.5 2053.4L1364.7 2055.9L1364.8 2058.4L1365.0 2060.9L1365.1 2063.4L1365.3 2065.9L1365.4 2068.4L1365.6 2070.9L1365.7 2073.4L1365.9 2075.8L1366.0 2078.3L1366.2 2080.8L1366.3 2083.3L1366.5 2085.8L1366.6 2088.3L1366.8 2090.8L1366.9 2093.3L1367.1 2095.8L1367.3 2098.3L1367.4 2100.8L1367.6 2103.3L1367.7 2105.8L1367.9 2108.3L1368.0 2110.8L1368.2 2113.3L1368.4 2115.8L1368.5 2118.3L1368.7 2120.8L1368.8 2123.3L1369.0 2125.8L1369.2 2128.3L1369.3 2130.8L1369.5 2133.3L1369.6 2135.8L1369.8 2138.3L1370.0 2140.8L1370.1 2143.3L1370.3 2145.8L1370.5 2148.3L1370.6 2150.8L1370.8 2153.3L1371.0 2155.8L1371.1 2158.3L1371.3 2160.8L1371.5 2163.3L1371.6 2165.8L1371.8 2168.3L1372.0 2170.8L1372.2 2173.3L1372.3 2175.8L1372.5 2178.3L1372.7 2180.8L1372.9 2183.3L1373.1 2185.8L1373.2 2188.3L1373.4 2190.7L1373.6 2193.2L1373.8 2195.7L1374.0 2198.2L1374.1 2200.7L1374.3 2203.2L1374.5 2205.7L1374.7 2208.2L1374.9 2210.7L1375.1 2213.2L1375.3 2215.7L1375.5 2218.2L1375.7 2220.7L1375.9 2223.2L1376.1 2225.7L1376.3 2228.2L1376.5 2230.7L1376.7 2233.2L1376.9 2235.7L1377.1 2238.2L1377.3 2240.7L1377.5 2243.2L1377.7 2245.6L1378.0 2248.1L1378.2 2250.6L1378.4 2253.1L1378.6 2255.6L1378.8 2258.1L1379.1 2260.6L1379.3 2263.1L1379.5 2265.6L1379.8 2268.1L1380.0 2270.6L1380.3 2273.1L1380.5 2275.6L1380.8 2278.0L1381.0 2280.5L1381.3 2283.0L1381.5 2285.5L1381.8 2288.0L1382.1 2290.5L1382.3 2293.0L1382.6 2295.5L1382.9 2298.0L1383.2 2300.4L1383.5 2302.9L1383.8 2305.4L1384.1 2307.9L1384.4 2310.4L1384.7 2312.9L1385.1 2315.3L1385.4 2317.8L1385.7 2320.3L1386.1 2322.8L1386.4 2325.3L1386.8 2327.7L1387.2 2330.2L1387.6 2332.7L1387.9 2335.2L1388.4 2337.6L1388.8 2340.1L1389.2 2342.6L1389.6 2345.0L1390.1 2347.5L1390.6 2349.9L1391.1 2352.4L1391.6 2354.9L1392.1 2357.3L1392.7 2359.7L1393.3 2362.2L1393.9 2364.6L1394.5 2367.0L1395.2 2369.4L1395.9 2371.8L1396.6 2374.2L1397.4 2376.6L1398.3 2379.0L1399.2 2381.3L1400.2 2383.6L1401.3 2385.8L1402.5 2388.0L1403.8 2390.2L1405.1 2392.3L1406.6 2394.3L1408.2 2396.2L1410.0 2398.0L1411.8 2399.7L1413.8 2401.2L1415.9 2402.6L1418.1 2403.8L1420.4 2404.8L1422.7 2405.7L1425.1 2406.5L1427.5 2407.1L1430.0 2407.6L1432.4 2408.1L1434.9 2408.4L1437.4 2408.7L1439.9 2409.0L1442.4 2409.2L1444.9 2409.3L1447.4 2409.4L1449.9 2409.5L1452.4 2409.6L1454.9 2409.6L1457.4 2409.6L1459.9 2409.7L1462.4 2409.7L1464.9 2409.7L1467.4 2409.7L1469.9 2409.7L1472.4 2409.7L1474.9 2409.7L1477.4 2409.7L1479.9 2409.7L1482.4 2409.7L1484.9 2409.6L1487.4 2409.6L1489.9 2409.6L1492.4 2409.6L1494.9 2409.6L1497.4 2409.6L1499.9 2409.6L1502.4 2409.6L1505.0 2409.6L1507.5 2409.6L1510.0 2409.6L1512.5 2409.6L1515.0 2409.6L1517.5 2409.5L1520.0 2409.5L1522.5 2409.5L1525.0 2409.5L1527.5 2409.5L1530.0 2409.5L1532.5 2409.5L1535.0 2409.5L1537.5 2409.5L1540.0 2409.5L1542.5 2409.5L1545.0 2409.4L1547.5 2409.4L1550.0 2409.4L1552.5 2409.4L1555.0 2409.4L1557.5 2409.4L1560.0 2409.4L1562.5 2409.4L1565.0 2409.4L1567.5 2409.4L1570.0 2409.4L1572.5 2409.3L1575.0 2409.3L1577.5 2409.3L1580.0 2409.3L1582.5 2409.3L1585.1 2409.3L1587.6 2409.3L1590.1 2409.3L1592.6 2409.3L1595.1 2409.3L1597.6 2409.2L1600.1 2409.2L1602.6 2409.2L1605.1 2409.2L1607.6 2409.2L1610.1 2409.2L1612.6 2409.2L1615.1 2409.2L1617.6 2409.2L1620.1 2409.2L1622.6 2409.1L1625.1 2409.1L1627.6 2409.1L1630.1 2409.1L1632.6 2409.1L1635.1 2409.1L1637.6 2409.1L1640.1 2409.1L1642.6 2409.1L1645.1 2409.0L1647.6 2409.0L1650.1 2409.0L1652.6 2409.0L1655.1 2409.0L1657.6 2409.0L1660.1 2409.0L1662.7 2409.0L1665.2 2409.0L1667.7 2408.9L1670.2 2408.9L1672.7 2408.9L1675.2 2408.9L1677.7 2408.9L1680.2 2408.9L1682.7 2408.9L1685.2 2408.9L1687.7 2408.9L1690.2 2408.8L1692.7 2408.8L1695.2 2408.8L1697.7 2408.8L1700.2 2408.8L1702.7 2408.8L1705.2 2408.8L1707.7 2408.8L1710.2 2408.7L1712.7 2408.7L1715.2 2408.7L1717.7 2408.7L1720.2 2408.7L1722.7 2408.7L1725.2 2408.7L1727.7 2408.7L1730.2 2408.7L1732.7 2408.6L1735.2 2408.6L1737.7 2408.6L1740.2 2408.6L1742.8 2408.6L1745.3 2408.6L1747.8 2408.6L1750.3 2408.6L1752.8 2408.5L1755.3 2408.5L1757.8 2408.5L1760.3 2408.5L1762.8 2408.5L1765.3 2408.5L1767.8 2408.5L1770.3 2408.5L1772.8 2408.4L1775.3 2408.4L1777.8 2408.4L1780.3 2408.4L1782.8 2408.4L1785.3 2408.4L1787.8 2408.4L1790.3 2408.4L1792.8 2408.3L1795.3 2408.3L1797.8 2408.3L1800.3 2408.3L1802.8 2408.3L1805.3 2408.3L1807.8 2408.3L1810.3 2408.3L1812.8 2408.2L1815.3 2408.2L1817.8 2408.2L1820.3 2408.2"/>
<path class="cv" stroke="#008000" stroke-width="7.0" d="M184.1 2410.0L186.6 2410.0L189.1 2410.0L191.6 2410.0L194.1 2410.0L196.6 2410.0L199.1 2410.0L201.6 2410.0L204.1 2410.0L206.6 2410.0L209.1 2410.0L211.6 2410.0L214.1 2410.0L216.6 2410.0L219.1 2409.9L221.6 2409.9L224.1 2409.9L226.6 2409.9L229.1 2409.9L231.6 2409.9L234.1 2409.9L236.7 2409.9L239.2 2409.9L241.7 2409.9L244.2 2409.8L246.7 2409.8L249.2 2409.8L251.7 2409.8L254.2 2409.8L256.7 2409.8L259.2 2409.8L261.7 2409.8L264.2 2409.7L266.7 2409.7L269.2 2409.7L271.7 2409.7L274.2 2409.7L276.7 2409.7L279.2 2409.6L281.7 2409.6L284.2 2409.6L286.7 2409.6L289.2 2409.6L291.7 2409.6L294.2 2409.5L296.7 2409.5L299.2 2409.5L301.7 2409.5L304.2 2409.5L306.7 2409.4L309.2 2409.4L311.7 2409.4L314.2 2409.3L316.7 2409.3L319.2 2409.3L321.7 2409.2L324.2 2409.2L326.7 2409.1L329.2 2409.1L331.7 2409.0L334.2 2409.0L336.7 2408.9L339.2 2408.9L341.7 2408.8L344.2 2408.7L346.8 2408.7L349.3 2408.6L351.8 2408.5L354.3 2408.5L356.8 2408.4L359.3 2408.3L361.8 2408.3L364.3 2408.2L366.8 2408.1L369.3 2408.0L371.8 2408.0L374.3 2407.9L376.8 2407.8L379.3 2407.7L381.8 2407.6L384.3 2407.6L386.8 2407.5L389.3 2407.4L391.8 2407.3L394.3 2407.2L396.8 2407.1L399.3 2407.1L401.8 2407.0L404.3 2406.9L406.8 2406.8L409.3 2406.7L411.8 2406.7L414.3 2406.6L416.8 2406.5L419.3 2406.4L421.8 2406.3L424.3 2406.3L426.8 2406.2L429.3 2406.1L431.8 2406.0L434.3 2405.9L436.8 2405.9L439.3 2405.8L441.8 2405.7L444.3 2405.7L446.8 2405.6L449.3 2405.5L451.8 2405.5L454.3 2405.4L456.8 2405.3L459.3 2405.3L461.8 2405.2L464.3 2405.1L466.8 2405.1L469.3 2405.0L471.8 2404.9L474.3 2404.9L476.8 2404.8L479.3 2404.8L481.8 2404.7L484.3 2404.6L486.8 2404.6L489.3 2404.5L491.8 2404.4L494.3 2404.4L496.8 2404.3L499.3 2404.3L501.8 2404.2L504.3 2404.1L506.8 2404.1L509.3 2404.0L511.8 2403.9L514.3 2403.9L516.8 2403.8L519.3 2403.8L521.9 2403.7L524.4 2403.6L526.9 2403.6L529.4 2403.5L531.9 2403.4L534.4 2403.4L536.9 2403.3L539.4 2403.3L541.9 2403.2L544.4 2403.1L546.9 2403.1L549.4 2403.0L551.9 2402.9L554.4 2402.9L556.9 2402.8L559.4 2402.7L561.9 2402.7L564.4 2402.6L566.9 2402.5L569.4 2402.5L571.9 2402.4L574.4 2402.3L576.9 2402.3L579.4 2402.2L581.9 2402.1L584.4 2402.1L586.9 2402.0L589.4 2401.9L591.9 2401.8L594.4 2401.8L596.9 2401.7L599.4 2401.6L601.9 2401.5L604.4 2401.5L606.9 2401.4L609.4 2401.3L611.9 2401.2L614.4 2401.1L616.9 2401.0L619.4 2400.9L621.9 2400.8L624.4 2400.7L626.9 2400.6L629.4 2400.5L631.9 2400.4L634.4 2400.3L636.9 2400.2L639.4 2400.1L641.9 2399.9L644.4 2399.8L646.9 2399.7L649.4 2399.6L651.9 2399.5L654.4 2399.4L656.9 2399.2L659.4 2399.1L661.9 2399.0L664.4 2398.9L666.9 2398.8L669.4 2398.7L671.9 2398.5L674.4 2398.4L676.9 2398.3L679.4 2398.2L681.9 2398.1L684.4 2398.0L686.9 2397.9L689.4 2397.8L691.9 2397.7L694.4 2397.6L696.9 2397.5L699.4 2397.4L701.9 2397.3L704.4 2397.2L706.9 2397.1L709.4 2397.0L711.9 2396.9L714.4 2396.9L716.9 2396.8L719.4 2396.7L721.9 2396.7L724.4 2396.6L726.9 2396.6L729.4 2396.5L731.9 2396.5L734.4 2396.4L736.9 2396.4L739.4 2396.4L741.9 2396.3L744.4 2396.3L746.9 2396.3L749.4 2396.3L751.9 2396.3L754.4 2396.3L756.9 2396.3L759.5 2396.3L762.0 2396.3L764.5 2396.3L767.0 2396.3L769.5 2396.3L772.0 2396.3L774.5 2396.3L777.0 2396.3L779.5 2396.3L782.0 2396.3L784.5 2396.3L787.0 2396.3L789.5 2396.3L792.0 2396.3L794.5 2396.3L797.0 2396.3L799.5 2396.3L802.0 2396.3L804.5 2396.3L807.0 2396.3L809.5 2396.3L812.0 2396.3L814.5 2396.3L817.0 2396.3L819.5 2396.3L822.0 2396.3L824.5 2396.3L827.0 2396.3L829.5 2396.3L832.0 2396.3L834.5 2396.3L837.0 2396.3L839.5 2396.3L842.0 2396.3L844.5 2396.3L847.0 2396.3L849.5 2396.3L852.0 2396.3L854.5 2396.3L857.0 2396.3L859.6 2396.3L862.1 2396.3L864.6 2396.3L867.1 2396.3L869.6 2396.3L872.1 2396.3L874.6 2396.3L877.1 2396.3L879.6 2396.3L882.1 2396.3L884.6 2396.3L887.1 2396.3L889.6 2396.3L892.1 2396.3L894.6 2396.2L897.1 2396.2L899.6 2396.2L902.1 2396.2L904.6 2396.2L907.1 2396.2L909.6 2396.2L912.1 2396.2L914.6 2396.2L917.1 2396.1L919.6 2396.1L922.1 2396.1L924.6 2396.0L927.1 2396.0L929.6 2396.0L932.1 2395.9L934.6 2395.9L937.1 2395.9L939.6 2395.8L942.1 2395.8L944.6 2395.7L947.1 2395.7L949.6 2395.6L952.1 2395.6L954.6 2395.5L957.1 2395.5L959.6 2395.4L962.1 2395.4L964.6 2395.3L967.1 2395.3L969.7 2395.2L972.2 2395.2L974.7 2395.1L977.2 2395.1L979.7 2395.0L982.2 2395.0L984.7 2395.0L987.2 2394.9L989.7 2394.9L992.2 2394.8L994.7 2394.8L997.2 2394.8L999.7 2394.7L1002.2 2394.7L1004.7 2394.7L1007.2 2394.6L1009.7 2394.6L1012.2 2394.6L1014.7 2394.6L1017.2 2394.6L1019.7 2394.6L1022.2 2394.6L1024.7 2394.5L1027.2 2394.5L1029.7 2394.5L1032.2 2394.5L1034.7 2394.5L1037.2 2394.5L1039.7 2394.4L1042.2 2394.4L1044.7 2394.4L1047.2 2394.3L1049.7 2394.3L1052.2 2394.3L1054.7 2394.2L1057.2 2394.2L1059.7 2394.1L1062.2 2394.1L1064.7 2394.0L1067.2 2394.0L1069.7 2393.9L1072.2 2393.9L1074.7 2393.8L1077.2 2393.7L1079.7 2393.7L1082.2 2393.6L1084.7 2393.5L1087.2 2393.4L1089.7 2393.3L1092.2 2393.2L1094.7 2393.0L1097.2 2392.9L1099.7 2392.7L1102.2 2392.5L1104.7 2392.3L1107.2 2392.1L1109.7 2391.8L1112.2 2391.5L1114.7 2391.2L1117.2 2390.9L1119.6 2390.6L1122.1 2390.2L1124.6 2389.8L1127.0 2389.3L1129.5 2388.9L1131.9 2388.3L1134.4 2387.8L1136.8 2387.2L1139.2 2386.6L1141.7 2385.9L1144.0 2385.2L1146.4 2384.4L1148.8 2383.6L1151.1 2382.7L1153.5 2381.8L1155.8 2380.8L1158.1 2379.8L1160.4 2378.8L1162.6 2377.7L1164.8 2376.6L1167.0 2375.4L1169.2 2374.1L1171.3 2372.8L1173.5 2371.5L1175.6 2370.1L1177.6 2368.7L1179.7 2367.2L1181.7 2365.8L1183.6 2364.2L1185.6 2362.7L1187.5 2361.1L1189.4 2359.4L1191.3 2357.8L1193.1 2356.1L1194.9 2354.4L1196.7 2352.6L1198.5 2350.8L1200.2 2349.0L1201.9 2347.2L1203.6 2345.3L1205.3 2343.5L1206.9 2341.5L1208.5 2339.6L1210.1 2337.7L1211.6 2335.7L1213.1 2333.7L1214.6 2331.7L1216.1 2329.7L1217.6 2327.7L1219.0 2325.6L1220.4 2323.5L1221.8 2321.5L1223.2 2319.4L1224.5 2317.3L1225.8 2315.1L1227.1 2313.0L1228.4 2310.8L1229.7 2308.7L1230.9 2306.5L1232.2 2304.3L1233.4 2302.1L1234.6 2299.9L1235.7 2297.7L1236.9 2295.5L1238.0 2293.3L1239.2 2291.1L1240.3 2288.8L1241.4 2286.6L1242.5 2284.3L1243.5 2282.1L1244.6 2279.8L1245.6 2277.5L1246.6 2275.2L1247.7 2272.9L1248.7 2270.6L1249.6 2268.3L1250.6 2266.0L1251.6 2263.7L1252.5 2261.4L1253.5 2259.1L1254.4 2256.8L1255.3 2254.4L1256.2 2252.1L1257.1 2249.8L1258.0 2247.4L1258.9 2245.1L1259.8 2242.7L1260.6 2240.4L1261.5 2238.0L1262.3 2235.7L1263.1 2233.3L1263.9 2231.0L1264.8 2228.6L1265.6 2226.2L1266.4 2223.8L1267.1 2221.5L1267.9 2219.1L1268.7 2216.7L1269.5 2214.3L1270.2 2211.9L1271.0 2209.6L1271.7 2207.2L1272.4 2204.8L1273.2 2202.4L1273.9 2200.0L1274.6 2197.6L1275.3 2195.2L1276.0 2192.8L1276.7 2190.4L1277.4 2188.0L1278.1 2185.6L1278.7 2183.1L1279.4 2180.7L1280.1 2178.3L1280.7 2175.9L1281.4 2173.5L1282.0 2171.1L1282.7 2168.7L1283.3 2166.2L1283.9 2163.8L1284.6 2161.4L1285.2 2159.0L1285.8 2156.5L1286.4 2154.1L1287.0 2151.7L1287.6 2149.3L1288.2 2146.8L1288.8 2144.4L1289.4 2142.0L1290.0 2139.5L1290.5 2137.1L1291.1 2134.7L1291.7 2132.2L1292.3 2129.8L1292.8 2127.3L1293.4 2124.9L1293.9 2122.5L1294.5 2120.0L1295.0 2117.6L1295.6 2115.1L1296.1 2112.7L1296.6 2110.3L1297.2 2107.8L1297.7 2105.4L1298.2 2102.9L1298.7 2100.5L1299.3 2098.0L1299.8 2095.6L1300.3 2093.1L1300.8 2090.7L1301.3 2088.2L1301.8 2085.8L1302.3 2083.3L1302.8 2080.9L1303.3 2078.4L1303.8 2076.0L1304.3 2073.5L1304.7 2071.0L1305.2 2068.6L1305.7 2066.1L1306.2 2063.7L1306.7 2061.2L1307.1 2058.8L1307.6 2056.3L1308.0 2053.8L1308.5 2051.4L1309.0 2048.9L1309.4 2046.5L1309.9 2044.0L1310.3 2041.5L1310.8 2039.1L1311.2 2036.6L1311.7 2034.1L1312.1 2031.7L1312.6 2029.2L1313.0 2026.8L1313.4 2024.3L1313.9 2021.8L1314.3 2019.4L1314.7 2016.9L1315.1 2014.4L1315.6 2012.0L1316.0 2009.5L1316.4 2007.0L1316.8 2004.6L1317.2 2002.1L1317.7 1999.6L1318.1 1997.2L1318.5 1994.7L1318.9 1992.2L1319.3 1989.8L1319.7 1987.3L1320.1 1984.8L1320.5 1982.3L1320.9 1979.9L1321.3 1977.4L1321.7 1974.9L1322.1 1972.5L1322.5 1970.0L1322.9 1967.5L1323.3 1965.0L1323.7 1962.6L1324.0 1960.1L1324.4 1957.6L1324.8 1955.2L1325.2 1952.7L1325.6 1950.2L1325.9 1947.7L1326.3 1945.3L1326.7 1942.8L1327.1 1940.3L1327.4 1937.8L1327.8 1935.4L1328.2 1932.9L1328.6 1930.4L1328.9 1927.9L1329.3 1925.5L1329.7 1923.0L1330.0 1920.5L1330.4 1918.0L1330.7 1915.6L1331.1 1913.1L1331.5 1910.6L1331.8 1908.1L1332.2 1905.7L1332.5 1903.2L1332.9 1900.7L1333.2 1898.2L1333.6 1895.7L1333.9 1893.3L1334.3 1890.8L1334.6 1888.3L1335.0 1885.8L1335.3 1883.4L1335.7 1880.9L1336.0 1878.4L1336.4 1875.9L1336.7 1873.4L1337.0 1871.0L1337.4 1868.5L1337.7 1866.0L1338.1 1863.5L1338.4 1861.0L1338.7 1858.6L1339.1 1856.1L1339.4 1853.6L1339.7 1851.1L1340.1 1848.6L1340.4 1846.2L1340.7 1843.7L1341.1 1841.2L1341.4 1838.7L1341.7 1836.2L1342.1 1833.8L1342.4 1831.3L1342.7 1828.8L1343.0 1826.3L1343.4 1823.8L1343.7 1821.4L1344.0 1818.9L1344.3 1816.4L1344.7 1813.9L1345.0 1811.4L1345.3 1808.9L1345.6 1806.5L1346.0 1804.0L1346.3 1801.5L1346.6 1799.0L1346.9 1796.5L1347.2 1794.1L1347.5 1791.6L1347.9 1789.1L1348.2 1786.6L1348.5 1784.1L1348.8 1781.6L1349.1 1779.2L1349.4 1776.7L1349.8 1774.2L1350.1 1771.7L1350.4 1769.2L1350.7 1766.7L1351.0 1764.3L1351.3 1761.8L1351.6 1759.3L1351.9 1756.8L1352.3 1754.3L1352.6 1751.8L1352.9 1749.4L1353.2 1746.9L1353.5 1744.4L1353.8 1741.9L1354.1 1739.4L1354.4 1736.9L1354.7 1734.5L1355.0 1732.0L1355.3 1729.5L1355.7 1727.0L1356.0 1724.5L1356.3 1722.0L1356.6 1719.6L1356.9 1717.1L1357.2 1714.6L1357.5 1712.1L1357.8 1709.6L1358.1 1707.1L1358.4 1704.7L1358.7 1702.2L1359.0 1699.7L1359.3 1697.2L1359.6 1694.7L1359.9 1692.2L1360.3 1689.8L1360.6 1687.3L1360.9 1684.8L1361.2 1682.3L1361.5 1679.8L1361.8 1677.3L1362.1 1674.9L1362.4 1672.4L1362.7 1669.9L1363.0 1667.4L1363.3 1664.9L1363.6 1662.4L1363.9 1660.0L1364.2 1657.5L1364.5 1655.0L1364.8 1652.5L1365.2 1650.0L1365.5 1647.5L1365.8 1645.1L1366.1 1642.6L1366.4 1640.1L1366.7 1637.6L1367.0 1635.1L1367.3 1632.6L1367.6 1630.2L1367.9 1627.7L1368.3 1625.2L1368.6 1622.7L1368.9 1620.2L1369.2 1617.7L1369.5 1615.3L1369.8 1612.8L1370.1 1610.3L1370.4 1607.8L1370.8 1605.3L1371.1 1602.8L1371.4 1600.4L1371.7 1597.9L1372.0 1595.4L1372.4 1592.9L1372.7 1590.4L1373.0 1588.0L1373.3 1585.5L1373.6 1583.0L1374.0 1580.5L1374.3 1578.0L1374.6 1575.5L1374.9 1573.1L1375.3 1570.6L1375.6 1568.1L1375.9 1565.6L1376.3 1563.1L1376.6 1560.7L1376.9 1558.2L1377.3 1555.7L1377.6 1553.2L1377.9 1550.7L1378.3 1548.3L1378.6 1545.8L1379.0 1543.3L1379.3 1540.8L1379.7 1538.4L1380.0 1535.9L1380.4 1533.4L1380.7 1530.9L1381.1 1528.4L1381.4 1526.0L1381.8 1523.5L1382.1 1521.0L1382.5 1518.5L1382.9 1516.1L1383.2 1513.6L1383.6 1511.1L1384.0 1508.6L1384.4 1506.2L1384.8 1503.7L1385.1 1501.2L1385.5 1498.7L1385.9 1496.3L1386.3 1493.8L1386.7 1491.3L1387.1 1488.9L1387.6 1486.4L1388.0 1483.9L1388.4 1481.5L1388.8 1479.0L1389.3 1476.5L1389.7 1474.1L1390.2 1471.6L1390.6 1469.2L1391.1 1466.7L1391.6 1464.2L1392.0 1461.8L1392.5 1459.3L1393.0 1456.9L1393.6 1454.4L1394.1 1452.0L1394.6 1449.5L1395.2 1447.1L1395.7 1444.7L1396.3 1442.2L1396.9 1439.8L1397.6 1437.4L1398.3 1435.0L1399.0 1432.6L1399.8 1430.2L1400.7 1427.9L1401.8 1425.6L1403.0 1423.5L1404.7 1421.6L1407.1 1421.2L1409.0 1422.8L1410.3 1425.0L1411.3 1427.3L1412.1 1429.6L1412.9 1432.0L1413.5 1434.4L1414.1 1436.9L1414.6 1439.3L1415.1 1441.8L1415.5 1444.2L1416.0 1446.7L1416.4 1449.2L1416.7 1451.6L1417.1 1454.1L1417.4 1456.6L1417.8 1459.1L1418.1 1461.6L1418.5 1464.0L1418.8 1466.5L1419.1 1469.0L1419.4 1471.5L1419.7 1474.0L1420.0 1476.4L1420.3 1478.9L1420.6 1481.4L1420.9 1483.9L1421.1 1486.4L1421.4 1488.9L1421.6 1491.4L1421.9 1493.9L1422.2 1496.4L1422.4 1498.8L1422.6 1501.3L1422.9 1503.8L1423.1 1506.3L1423.3 1508.8L1423.6 1511.3L1423.8 1513.8L1424.0 1516.3L1424.2 1518.8L1424.4 1521.3L1424.7 1523.8L1424.9 1526.3L1425.1 1528.8L1425.3 1531.2L1425.5 1533.7L1425.7 1536.2L1425.9 1538.7L1426.1 1541.2L1426.3 1543.7L1426.5 1546.2L1426.7 1548.7L1426.9 1551.2L1427.0 1553.7L1427.2 1556.2L1427.4 1558.7L1427.6 1561.2L1427.8 1563.7L1428.0 1566.2L1428.1 1568.7L1428.3 1571.2L1428.5 1573.7L1428.7 1576.2L1428.8 1578.7L1429.0 1581.2L1429.2 1583.7L1429.4 1586.1L1429.5 1588.6L1429.7 1591.1L1429.9 1593.6L1430.0 1596.1L1430.2 1598.6L1430.4 1601.1L1430.5 1603.6L1430.7 1606.1L1430.9 1608.6L1431.0 1611.1L1431.2 1613.6L1431.4 1616.1L1431.5 1618.6L1431.7 1621.1L1431.8 1623.6L1432.0 1626.1L1432.2 1628.6L1432.3 1631.1L1432.5 1633.6L1432.6 1636.1L1432.8 1638.6L1432.9 1641.1L1433.1 1643.6L1433.2 1646.1L1433.4 1648.6L1433.5 1651.1L1433.7 1653.6L1433.9 1656.1L1434.0 1658.6L1434.2 1661.1L1434.3 1663.6L1434.5 1666.1L1434.6 1668.6L1434.8 1671.1L1434.9 1673.6L1435.1 1676.1L1435.2 1678.6L1435.4 1681.1L1435.5 1683.6L1435.6 1686.1L1435.8 1688.5L1435.9 1691.0L1436.1 1693.5L1436.2 1696.0L1436.4 1698.5L1436.5 1701.0L1436.7 1703.5L1436.8 1706.0L1437.0 1708.5L1437.1 1711.0L1437.3 1713.5L1437.4 1716.0L1437.5 1718.5L1437.7 1721.0L1437.8 1723.5L1438.0 1726.0L1438.1 1728.5L1438.3 1731.0L1438.4 1733.5L1438.5 1736.0L1438.7 1738.5L1438.8 1741.0L1439.0 1743.5L1439.1 1746.0L1439.3 1748.5L1439.4 1751.0L1439.5 1753.5L1439.7 1756.0L1439.8 1758.5L1440.0 1761.0L1440.1 1763.5L1440.2 1766.0L1440.4 1768.5L1440.5 1771.0L1440.7 1773.5L1440.8 1776.0L1440.9 1778.5L1441.1 1781.0L1441.2 1783.5L1441.4 1786.0L1441.5 1788.5L1441.6 1791.0L1441.8 1793.5L1441.9 1796.0L1442.1 1798.5L1442.2 1801.0L1442.3 1803.5L1442.5 1806.0L1442.6 1808.5L1442.8 1811.0L1442.9 1813.5L1443.0 1816.0L1443.2 1818.5L1443.3 1821.0L1443.5 1823.5L1443.6 1826.0L1443.7 1828.5L1443.9 1831.0L1444.0 1833.5L1444.2 1836.0L1444.3 1838.5L1444.4 1841.0L1444.6 1843.5L1444.7 1846.0L1444.9 1848.4L1445.0 1850.9L1445.1 1853.4L1445.3 1855.9L1445.4 1858.4L1445.6 1860.9L1445.7 1863.4L1445.8 1865.9L1446.0 1868.4L1446.1 1870.9L1446.2 1873.4L1446.4 1875.9L1446.5 1878.4L1446.7 1880.9L1446.8 1883.4L1446.9 1885.9L1447.1 1888.4L1447.2 1890.9L1447.4 1893.4L1447.5 1895.9L1447.6 1898.4L1447.8 1900.9L1447.9 1903.4L1448.1 1905.9L1448.2 1908.4L1448.3 1910.9L1448.5 1913.4L1448.6 1915.9L1448.8 1918.4L1448.9 1920.9L1449.1 1923.4L1449.2 1925.9L1449.3 1928.4L1449.5 1930.9L1449.6 1933.4L1449.8 1935.9L1449.9 1938.4L1450.0 1940.9L1450.2 1943.4L1450.3 1945.9L1450.5 1948.4L1450.6 1950.9L1450.8 1953.4L1450.9 1955.9L1451.0 1958.4L1451.2 1960.9L1451.3 1963.4L1451.5 1965.9L1451.6 1968.4L1451.7 1970.9L1451.9 1973.4L1452.0 1975.9L1452.2 1978.4L1452.3 1980.9L1452.5 1983.4L1452.6 1985.9L1452.8 1988.4L1452.9 1990.9L1453.0 1993.4L1453.2 1995.9L1453.3 1998.4L1453.5 2000.9L1453.6 2003.4L1453.8 2005.9L1453.9 2008.4L1454.1 2010.8L1454.2 2013.3L1454.4 2015.8L1454.5 2018.3L1454.6 2020.8L1454.8 2023.3L1454.9 2025.8L1455.1 2028.3L1455.2 2030.8L1455.4 2033.3L1455.5 2035.8L1455.7 2038.3L1455.8 2040.8L1456.0 2043.3L1456.1 2045.8L1456.3 2048.3L1456.4 2050.8L1456.6 2053.3L1456.7 2055.8L1456.9 2058.3L1457.0 2060.8L1457.2 2063.3L1457.3 2065.8L1457.5 2068.3L1457.6 2070.8L1457.8 2073.3L1457.9 2075.8L1458.1 2078.3L1458.2 2080.8L1458.4 2083.3L1458.6 2085.8L1458.7 2088.3L1458.9 2090.8L1459.0 2093.3L1459.2 2095.8L1459.3 2098.3L1459.5 2100.8L1459.6 2103.3L1459.8 2105.8L1460.0 2108.3L1460.1 2110.8L1460.3 2113.3L1460.4 2115.8L1460.6 2118.3L1460.8 2120.8L1460.9 2123.3L1461.1 2125.7L1461.2 2128.2L1461.4 2130.7L1461.6 2133.2L1461.7 2135.7L1461.9 2138.2L1462.1 2140.7L1462.2 2143.2L1462.4 2145.7L1462.5 2148.2L1462.7 2150.7L1462.9 2153.2L1463.0 2155.7L1463.2 2158.2L1463.4 2160.7L1463.6 2163.2L1463.7 2165.7L1463.9 2168.2L1464.1 2170.7L1464.2 2173.2L1464.4 2175.7L1464.6 2178.2L1464.8 2180.7L1464.9 2183.2L1465.1 2185.7L1465.3 2188.2L1465.5 2190.7L1465.6 2193.2L1465.8 2195.7L1466.0 2198.2L1466.2 2200.6L1466.4 2203.1L1466.6 2205.6L1466.7 2208.1L1466.9 2210.6L1467.1 2213.1L1467.3 2215.6L1467.5 2218.1L1467.7 2220.6L1467.9 2223.1L1468.1 2225.6L1468.3 2228.1L1468.5 2230.6L1468.6 2233.1L1468.8 2235.6L1469.0 2238.1L1469.2 2240.6L1469.4 2243.1L1469.7 2245.6L1469.9 2248.1L1470.1 2250.5L1470.3 2253.0L1470.5 2255.5L1470.7 2258.0L1470.9 2260.5L1471.1 2263.0L1471.3 2265.5L1471.6 2268.0L1471.8 2270.5L1472.0 2273.0L1472.2 2275.5L1472.5 2278.0L1472.7 2280.5L1472.9 2283.0L1473.2 2285.4L1473.4 2287.9L1473.7 2290.4L1473.9 2292.9L1474.2 2295.4L1474.4 2297.9L1474.7 2300.4L1474.9 2302.9L1475.2 2305.4L1475.5 2307.8L1475.7 2310.3L1476.0 2312.8L1476.3 2315.3L1476.6 2317.8L1476.9 2320.3L1477.2 2322.8L1477.5 2325.2L1477.8 2327.7L1478.1 2330.2L1478.4 2332.7L1478.7 2335.2L1479.1 2337.7L1479.4 2340.1L1479.8 2342.6L1480.1 2345.1L1480.5 2347.6L1480.9 2350.0L1481.3 2352.5L1481.7 2355.0L1482.1 2357.4L1482.6 2359.9L1483.0 2362.4L1483.5 2364.8L1484.0 2367.3L1484.5 2369.7L1485.1 2372.2L1485.6 2374.6L1486.2 2377.0L1486.9 2379.5L1487.6 2381.9L1488.3 2384.2L1489.2 2386.6L1490.1 2388.9L1491.1 2391.2L1492.2 2393.5L1493.4 2395.6L1494.8 2397.7L1496.4 2399.6L1498.3 2401.3L1500.4 2402.7L1502.7 2403.7L1505.1 2404.3L1507.6 2404.7L1510.1 2404.9L1512.6 2405.1L1515.1 2405.1L1517.6 2405.2L1520.1 2405.2L1522.6 2405.2L1525.1 2405.2L1527.6 2405.3L1530.1 2405.3L1532.6 2405.3L1535.1 2405.3L1537.6 2405.4L1540.1 2405.4L1542.6 2405.4L1545.1 2405.4L1547.6 2405.5L1550.1 2405.5L1552.6 2405.5L1555.1 2405.5L1557.6 2405.5L1560.1 2405.6L1562.6 2405.6L1565.1 2405.6L1567.6 2405.6L1570.1 2405.7L1572.6 2405.7L1575.1 2405.7L1577.6 2405.7L1580.1 2405.7L1582.6 2405.8L1585.1 2405.8L1587.6 2405.8L1590.1 2405.8L1592.6 2405.9L1595.1 2405.9L1597.6 2405.9L1600.1 2405.9L1602.6 2405.9L1605.1 2406.0L1607.6 2406.0L1610.1 2406.0L1612.7 2406.0L1615.2 2406.1L1617.7 2406.1L1620.2 2406.1L1622.7 2406.1L1625.2 2406.1L1627.7 2406.2L1630.2 2406.2L1632.7 2406.2L1635.2 2406.2L1637.7 2406.2L1640.2 2406.3L1642.7 2406.3L1645.2 2406.3L1647.7 2406.3L1650.2 2406.3L1652.7 2406.4L1655.2 2406.4L1657.7 2406.4L1660.2 2406.4L1662.7 2406.4L1665.2 2406.5L1667.7 2406.5L1670.2 2406.5L1672.7 2406.5L1675.2 2406.5L1677.7 2406.6L1680.2 2406.6L1682.7 2406.6L1685.2 2406.6L1687.7 2406.6L1690.2 2406.7L1692.7 2406.7L1695.2 2406.7L1697.7 2406.7L1700.2 2406.7L1702.7 2406.7L1705.2 2406.8L1707.7 2406.8L1710.2 2406.8L1712.7 2406.8L1715.2 2406.8L1717.8 2406.9L1720.3 2406.9L1722.8 2406.9L1725.3 2406.9L1727.8 2406.9L1730.3 2406.9L1732.8 2407.0L1735.3 2407.0L1737.8 2407.0L1740.3 2407.0L1742.8 2407.0L1745.3 2407.0L1747.8 2407.1L1750.3 2407.1L1752.8 2407.1L1755.3 2407.1L1757.8 2407.1L1760.3 2407.1L1762.8 2407.2L1765.3 2407.2L1767.8 2407.2L1770.3 2407.2L1772.8 2407.2L1775.3 2407.2L1777.8 2407.3L1780.3 2407.3L1782.8 2407.3L1785.3 2407.3L1787.8 2407.3L1790.3 2407.3L1792.8 2407.3L1795.3 2407.4L1797.8 2407.4L1800.3 2407.4L1802.8 2407.4L1805.3 2407.4L1807.8 2407.4L1810.3 2407.4L1812.8 2407.5L1815.3 2407.5L1817.8 2407.5L1820.3 2407.5"/>
<g class="ax" stroke-width="8">
<path d="M169.0 1274.5 H1824.5"/>
<path d="M184.1 1274.5 V2424.6"/>
<path d="M1820.5 1274.5 V2424.6"/>
<path d="M167.6 2413.6 H1824.5"/>
</g>
<g class="ax" stroke-width="7.5">
<path d="M167.6 1654.2 H184.1"/>
<path d="M167.6 2033.9 H184.1"/>
<path d="M388.6 2413.6 V2431.6"/>
<path d="M797.8 2413.6 V2431.6"/>
<path d="M1206.8 2413.6 V2431.6"/>
<path d="M1615.9 2413.6 V2431.6"/>
<path d="M593.2 2413.6 V2424.6"/>
<path d="M1002.3 2413.6 V2424.6"/>
<path d="M1411.4 2413.6 V2424.6"/>
</g>
</g>
</g>
<g filter="url(#tf)">
<text transform="translate(77.0 605.6) rotate(-90) scale(1.01 1.12)" font-size="58" font-weight="bold" text-anchor="middle">Weight (%)</text>
<text transform="translate(30 167)" font-size="98" stroke="#000" stroke-width="1.6">a<tspan dx="-6">.</tspan></text>
<text transform="translate(1521.0 92.7) scale(1 1.09)" font-size="50" font-weight="bold" fill="#0000ff">PHB</text>
<text transform="translate(1521.0 152.0) scale(1 1.09)" font-size="50" font-weight="bold" fill="#000000">PHB-MCC</text>
<text transform="translate(1521.0 211.3) scale(1 1.09)" font-size="50" font-weight="bold" fill="#ff0000">PHB-MCC-T</text>
<text transform="translate(1521.0 270.6) scale(1 1.09)" font-size="50" font-weight="bold" fill="#008000">PHB-MCC-P</text>
<text transform="translate(128.0 1838.0) rotate(-90) scale(1.01 1.12)" font-size="58" font-weight="bold" text-anchor="middle">Deriv. Weight (%/°C)</text>
<text transform="translate(28.5 1374.5) scale(1 0.93)" font-size="98" stroke="#000" stroke-width="1.6">b<tspan dx="-2">.</tspan></text>
<text transform="translate(1521.0 1332.5) scale(1 1.09)" font-size="50" font-weight="bold" fill="#0000ff">PHB</text>
<text transform="translate(1521.0 1391.8) scale(1 1.09)" font-size="50" font-weight="bold" fill="#000000">PHB-MCC</text>
<text transform="translate(1521.0 1451.1) scale(1 1.09)" font-size="50" font-weight="bold" fill="#ff0000">PHB-MCC-T</text>
<text transform="translate(1521.0 1510.4) scale(1 1.09)" font-size="50" font-weight="bold" fill="#008000">PHB-MCC-P</text>
<text transform="translate(1007.0 2531.5) scale(1.018 1.05)" font-size="55" font-weight="bold" text-anchor="middle">Temperature (°C)</text>
<text transform="translate(159.0 74.4) scale(1 1.03)" font-size="50" font-weight="bold" text-anchor="end">100</text>
<text transform="translate(159.0 354.0) scale(1 1.03)" font-size="50" font-weight="bold" text-anchor="end">75</text>
<text transform="translate(159.0 633.5) scale(1 1.03)" font-size="50" font-weight="bold" text-anchor="end">50</text>
<text transform="translate(159.0 913.1) scale(1 1.03)" font-size="50" font-weight="bold" text-anchor="end">25</text>
<text transform="translate(159.0 1192.6) scale(1 1.03)" font-size="50" font-weight="bold" text-anchor="end">0</text>
<text transform="translate(387.3 1233.5) scale(1 1.03)" font-size="50" font-weight="bold" text-anchor="middle">150</text>
<text transform="translate(797.2 1233.5) scale(1 1.03)" font-size="50" font-weight="bold" text-anchor="middle">200</text>
<text transform="translate(1207.1 1233.5) scale(1 1.03)" font-size="50" font-weight="bold" text-anchor="middle">250</text>
<text transform="translate(1617.0 1233.5) scale(1 1.03)" font-size="50" font-weight="bold" text-anchor="middle">300</text>
<text transform="translate(161.0 1292.9) scale(1 1.03)" font-size="50" font-weight="bold" text-anchor="end">6</text>
<text transform="translate(161.0 1672.6) scale(1 1.03)" font-size="50" font-weight="bold" text-anchor="end">4</text>
<text transform="translate(161.0 2052.3) scale(1 1.03)" font-size="50" font-weight="bold" text-anchor="end">2</text>
<text transform="translate(161.0 2432.0) scale(1 1.03)" font-size="50" font-weight="bold" text-anchor="end">0</text>
<text transform="translate(388.6 2476.0) scale(1 1.03)" font-size="50" font-weight="bold" text-anchor="middle">150</text>
<text transform="translate(797.8 2476.0) scale(1 1.03)" font-size="50" font-weight="bold" text-anchor="middle">200</text>
<text transform="translate(1206.8 2476.0) scale(1 1.03)" font-size="50" font-weight="bold" text-anchor="middle">250</text>
<text transform="translate(1615.9 2476.0) scale(1 1.03)" font-size="50" font-weight="bold" text-anchor="middle">300</text>
</g>
<g filter="url(#sf)">
<text transform="translate(1630.0 2504.0) scale(1.025 1)" font-size="25.5" fill="#444">Universal V4.5A TA</text>
</g>
</svg>
</body>
</html>
